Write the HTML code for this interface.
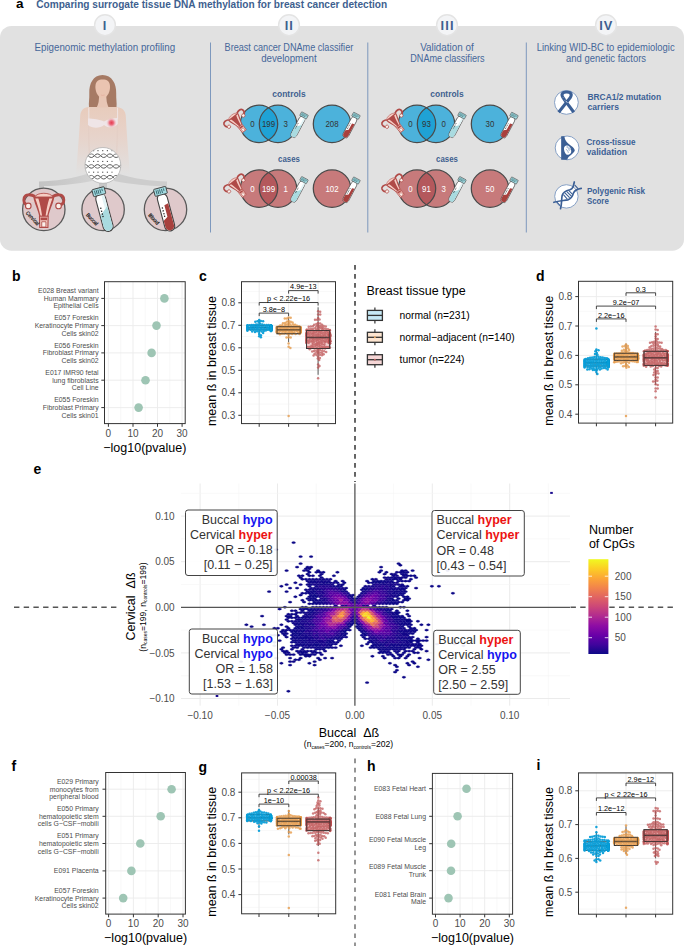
<!DOCTYPE html>
<html><head><meta charset="utf-8"><style>
html,body{margin:0;padding:0;background:#fff;width:685px;height:946px;overflow:hidden}
svg{display:block;font-family:"Liberation Sans",sans-serif}
</style></head><body>
<svg width="685" height="946" viewBox="0 0 685 946">
<text x="16.0" y="8.0" font-size="13.5" fill="#000" font-weight="bold">a</text>
<text x="36.2" y="8.3" font-size="11" fill="#3e5f8f" font-weight="bold" textLength="351" lengthAdjust="spacingAndGlyphs">Comparing surrogate tissue DNA methylation for breast cancer detection</text>
<rect x="0" y="26" width="684" height="224.7" rx="11.5" fill="#e1e1e1"/>
<circle cx="105" cy="25.2" r="10.4" fill="#f3f4f6" stroke="#e4e4e4" stroke-width="1.4"/>
<text x="105.0" y="29.9" font-size="12.8" fill="#3e5f8f" text-anchor="middle" font-weight="bold" letter-spacing="1.1">I</text>
<circle cx="289" cy="25.2" r="10.4" fill="#f3f4f6" stroke="#e4e4e4" stroke-width="1.4"/>
<text x="289.3" y="29.9" font-size="12.8" fill="#3e5f8f" text-anchor="middle" font-weight="bold" letter-spacing="1.1">II</text>
<circle cx="447" cy="25.2" r="10.4" fill="#f3f4f6" stroke="#e4e4e4" stroke-width="1.4"/>
<text x="447.6" y="29.9" font-size="12.8" fill="#3e5f8f" text-anchor="middle" font-weight="bold" letter-spacing="1.1">III</text>
<circle cx="606" cy="25.2" r="10.4" fill="#f3f4f6" stroke="#e4e4e4" stroke-width="1.4"/>
<text x="606.3" y="29.9" font-size="12.8" fill="#3e5f8f" text-anchor="middle" font-weight="bold" letter-spacing="1.1">IV</text>
<line x1="210.5" y1="42.5" x2="210.5" y2="232.5" stroke="#7d98bd" stroke-width="1"/>
<line x1="367.8" y1="42.5" x2="367.8" y2="232.5" stroke="#7d98bd" stroke-width="1"/>
<line x1="526.3" y1="42.5" x2="526.3" y2="232.5" stroke="#7d98bd" stroke-width="1"/>
<text x="104.8" y="51.0" font-size="10.3" fill="#46679a" text-anchor="middle" textLength="140.7" lengthAdjust="spacingAndGlyphs">Epigenomic methylation profiling</text>
<text x="288.9" y="50.7" font-size="10.3" fill="#46679a" text-anchor="middle" textLength="128.7" lengthAdjust="spacingAndGlyphs">Breast cancer DNAme classifier</text>
<text x="288.9" y="62.1" font-size="10.3" fill="#46679a" text-anchor="middle" textLength="55.5" lengthAdjust="spacingAndGlyphs">development</text>
<text x="446.9" y="50.7" font-size="10.3" fill="#46679a" text-anchor="middle" textLength="53.5" lengthAdjust="spacingAndGlyphs">Validation of</text>
<text x="447.4" y="62.1" font-size="10.3" fill="#46679a" text-anchor="middle" textLength="74.3" lengthAdjust="spacingAndGlyphs">DNAme classifiers</text>
<text x="605.7" y="50.7" font-size="10.3" fill="#46679a" text-anchor="middle" textLength="138" lengthAdjust="spacingAndGlyphs">Linking WID-BC to epidemiologic</text>
<text x="606.1" y="62.1" font-size="10.3" fill="#46679a" text-anchor="middle" textLength="80" lengthAdjust="spacingAndGlyphs">and genetic factors</text>
<text x="289.0" y="96.8" font-size="8.2" fill="#3e5f8f" text-anchor="middle" font-weight="bold" textLength="33.3" lengthAdjust="spacingAndGlyphs">controls</text>
<clipPath id="clipctrl289"><circle cx="259" cy="123.9" r="18.7"/></clipPath><circle cx="259" cy="123.9" r="18.7" fill="#4cb2db"/><circle cx="278" cy="123.9" r="18.7" fill="#4cb2db"/><circle cx="278" cy="123.9" r="18.7" fill="#1fa2d5" clip-path="url(#clipctrl289)"/><circle cx="259" cy="123.9" r="18.7" fill="none" stroke="#4a4a4a" stroke-width="1.25"/><circle cx="278" cy="123.9" r="18.7" fill="none" stroke="#4a4a4a" stroke-width="1.25"/><circle cx="332" cy="123.9" r="18.7" fill="#4cb2db" stroke="#4a4a4a" stroke-width="1.25"/><text x="252.4" y="127.1" font-size="8.8" fill="#333" text-anchor="middle" textLength="4.4" lengthAdjust="spacingAndGlyphs">0</text><text x="268.5" y="127.1" font-size="8.8" fill="#333" text-anchor="middle" textLength="13.200000000000001" lengthAdjust="spacingAndGlyphs">199</text><text x="285.6" y="127.1" font-size="8.8" fill="#333" text-anchor="middle" textLength="4.4" lengthAdjust="spacingAndGlyphs">3</text><text x="332.0" y="127.1" font-size="8.8" fill="#333" text-anchor="middle" textLength="13.200000000000001" lengthAdjust="spacingAndGlyphs">208</text><g transform="translate(237.5,122.5) rotate(-38) scale(0.6) translate(-23.8,-23.1)"><g transform="translate(0,0) scale(0.0701)"><path d="M215,150 C150,112 78,118 60,165 C48,205 60,250 100,272" fill="none" stroke="#b04a47" stroke-width="40"/><path d="M465,150 C530,112 602,118 620,165 C632,205 620,250 580,272" fill="none" stroke="#b04a47" stroke-width="40"/><path d="M110,260 C130,215 165,205 200,225" fill="none" stroke="#f6cdc4" stroke-width="14"/><path d="M570,260 C550,215 515,205 480,225" fill="none" stroke="#f6cdc4" stroke-width="14"/><circle cx="118" cy="285" r="40" fill="#fbf0ea" stroke="#b04a47" stroke-width="16"/><circle cx="550" cy="285" r="40" fill="#fbf0ea" stroke="#b04a47" stroke-width="16"/><path d="M210,160 C235,85 445,85 470,160 Z" fill="#f6cdc4" stroke="#b04a47" stroke-width="12"/><path d="M190,155 L490,155 C478,250 425,330 405,435 L275,435 C255,330 202,250 190,155 Z" fill="#b04a47"/><path d="M218,178 C248,262 272,332 292,425 L315,425 C300,330 285,245 262,180 Z" fill="#f6cdc4"/><path d="M462,178 C432,262 408,332 388,425 L365,425 C380,330 395,245 418,180 Z" fill="#f6cdc4"/><path d="M278,432 L402,432 L398,592 L282,592 Z" fill="#f6cdc4" stroke="#b04a47" stroke-width="16"/><path d="M292,450 L388,450 L386,490 L294,490 Z" fill="#b04a47"/><path d="M310,510 L370,510 L370,585 L310,585 Z" fill="#fbf0ea" stroke="#b04a47" stroke-width="12"/></g></g><g transform="translate(305,113.5) scale(0.6)"><g transform="translate(0,0) rotate(28)"><rect x="-5" y="6" width="10" height="38.5" rx="5" fill="#ffffff" stroke="#444" stroke-width="1.1"/><path d="M-4.4,27 C-2,25 1,23 4.4,19 L4.4,39.5 A4.4,4.4 0 0 1 -4.4,39.5Z" fill="#a9dbe0"/><path d="M1.5,7 L4.4,7 L4.4,19 L1.5,22Z" fill="#e3f4f6"/><path d="M-2.4,19.5 v1.3 M-2.4,22.5 v1.3 M-2.4,25.5 v1.3 M-2.4,28 v1.3" stroke="#222" stroke-width="1.3"/><rect x="-6.3" y="0" width="12.6" height="7.2" rx="0.8" fill="#a3dbe1" stroke="#444" stroke-width="0.9"/><path d="M-4,1.5 v4.2 M-2.2,1.5 v4.2 M-0.4,1.5 v4.2 M1.6,1.5 v4.2 M3.6,1.5 v2.5" stroke="#2d5c63" stroke-width="0.8"/></g></g><g transform="translate(357,113.9) scale(0.6)"><g transform="translate(0,0) rotate(28)"><rect x="-5" y="6" width="10" height="38.5" rx="5" fill="#ffffff" stroke="#444" stroke-width="1.1"/><path d="M0.2,18 L4.4,17 L4.4,39.5 A4.4,4.4 0 0 1 -4.4,39.5 L-4.4,33 C-3,32 -1,31 0.2,30Z" fill="#a8403d"/><path d="M-2.4,19.5 v1.3 M-2.4,22.5 v1.3 M-2.4,25.5 v1.3 M-2.4,28 v1.3" stroke="#222" stroke-width="1.3"/><rect x="-6.3" y="0" width="12.6" height="7.2" rx="0.8" fill="#a3dbe1" stroke="#444" stroke-width="0.9"/><path d="M-4,1.5 v4.2 M-2.2,1.5 v4.2 M-0.4,1.5 v4.2 M1.6,1.5 v4.2 M3.6,1.5 v2.5" stroke="#2d5c63" stroke-width="0.8"/></g></g>
<text x="289.0" y="161.5" font-size="8.2" fill="#3e5f8f" text-anchor="middle" font-weight="bold" textLength="21.8" lengthAdjust="spacingAndGlyphs">cases</text>
<clipPath id="clipcase289"><circle cx="259" cy="188.6" r="18.7"/></clipPath><circle cx="259" cy="188.6" r="18.7" fill="#c77a7b"/><circle cx="278" cy="188.6" r="18.7" fill="#c77a7b"/><circle cx="278" cy="188.6" r="18.7" fill="#b4585c" clip-path="url(#clipcase289)"/><circle cx="259" cy="188.6" r="18.7" fill="none" stroke="#4a4a4a" stroke-width="1.25"/><circle cx="278" cy="188.6" r="18.7" fill="none" stroke="#4a4a4a" stroke-width="1.25"/><circle cx="332" cy="188.6" r="18.7" fill="#c77a7b" stroke="#4a4a4a" stroke-width="1.25"/><text x="252.4" y="191.8" font-size="8.8" fill="#fff" text-anchor="middle" textLength="4.4" lengthAdjust="spacingAndGlyphs">0</text><text x="268.5" y="191.8" font-size="8.8" fill="#fff" text-anchor="middle" textLength="13.200000000000001" lengthAdjust="spacingAndGlyphs">199</text><text x="285.6" y="191.8" font-size="8.8" fill="#fff" text-anchor="middle" textLength="4.4" lengthAdjust="spacingAndGlyphs">1</text><text x="332.0" y="191.8" font-size="8.8" fill="#fff" text-anchor="middle" textLength="13.200000000000001" lengthAdjust="spacingAndGlyphs">102</text><g transform="translate(237.5,187.2) rotate(-38) scale(0.6) translate(-23.8,-23.1)"><g transform="translate(0,0) scale(0.0701)"><path d="M215,150 C150,112 78,118 60,165 C48,205 60,250 100,272" fill="none" stroke="#b04a47" stroke-width="40"/><path d="M465,150 C530,112 602,118 620,165 C632,205 620,250 580,272" fill="none" stroke="#b04a47" stroke-width="40"/><path d="M110,260 C130,215 165,205 200,225" fill="none" stroke="#f6cdc4" stroke-width="14"/><path d="M570,260 C550,215 515,205 480,225" fill="none" stroke="#f6cdc4" stroke-width="14"/><circle cx="118" cy="285" r="40" fill="#fbf0ea" stroke="#b04a47" stroke-width="16"/><circle cx="550" cy="285" r="40" fill="#fbf0ea" stroke="#b04a47" stroke-width="16"/><path d="M210,160 C235,85 445,85 470,160 Z" fill="#f6cdc4" stroke="#b04a47" stroke-width="12"/><path d="M190,155 L490,155 C478,250 425,330 405,435 L275,435 C255,330 202,250 190,155 Z" fill="#b04a47"/><path d="M218,178 C248,262 272,332 292,425 L315,425 C300,330 285,245 262,180 Z" fill="#f6cdc4"/><path d="M462,178 C432,262 408,332 388,425 L365,425 C380,330 395,245 418,180 Z" fill="#f6cdc4"/><path d="M278,432 L402,432 L398,592 L282,592 Z" fill="#f6cdc4" stroke="#b04a47" stroke-width="16"/><path d="M292,450 L388,450 L386,490 L294,490 Z" fill="#b04a47"/><path d="M310,510 L370,510 L370,585 L310,585 Z" fill="#fbf0ea" stroke="#b04a47" stroke-width="12"/></g></g><g transform="translate(305,178.2) scale(0.6)"><g transform="translate(0,0) rotate(28)"><rect x="-5" y="6" width="10" height="38.5" rx="5" fill="#ffffff" stroke="#444" stroke-width="1.1"/><path d="M-4.4,27 C-2,25 1,23 4.4,19 L4.4,39.5 A4.4,4.4 0 0 1 -4.4,39.5Z" fill="#a9dbe0"/><path d="M1.5,7 L4.4,7 L4.4,19 L1.5,22Z" fill="#e3f4f6"/><path d="M-2.4,19.5 v1.3 M-2.4,22.5 v1.3 M-2.4,25.5 v1.3 M-2.4,28 v1.3" stroke="#222" stroke-width="1.3"/><rect x="-6.3" y="0" width="12.6" height="7.2" rx="0.8" fill="#a3dbe1" stroke="#444" stroke-width="0.9"/><path d="M-4,1.5 v4.2 M-2.2,1.5 v4.2 M-0.4,1.5 v4.2 M1.6,1.5 v4.2 M3.6,1.5 v2.5" stroke="#2d5c63" stroke-width="0.8"/></g></g><g transform="translate(357,178.6) scale(0.6)"><g transform="translate(0,0) rotate(28)"><rect x="-5" y="6" width="10" height="38.5" rx="5" fill="#ffffff" stroke="#444" stroke-width="1.1"/><path d="M0.2,18 L4.4,17 L4.4,39.5 A4.4,4.4 0 0 1 -4.4,39.5 L-4.4,33 C-3,32 -1,31 0.2,30Z" fill="#a8403d"/><path d="M-2.4,19.5 v1.3 M-2.4,22.5 v1.3 M-2.4,25.5 v1.3 M-2.4,28 v1.3" stroke="#222" stroke-width="1.3"/><rect x="-6.3" y="0" width="12.6" height="7.2" rx="0.8" fill="#a3dbe1" stroke="#444" stroke-width="0.9"/><path d="M-4,1.5 v4.2 M-2.2,1.5 v4.2 M-0.4,1.5 v4.2 M1.6,1.5 v4.2 M3.6,1.5 v2.5" stroke="#2d5c63" stroke-width="0.8"/></g></g>
<text x="447.0" y="96.8" font-size="8.2" fill="#3e5f8f" text-anchor="middle" font-weight="bold" textLength="33.3" lengthAdjust="spacingAndGlyphs">controls</text>
<clipPath id="clipctrl447"><circle cx="417" cy="123.9" r="18.7"/></clipPath><circle cx="417" cy="123.9" r="18.7" fill="#4cb2db"/><circle cx="436" cy="123.9" r="18.7" fill="#4cb2db"/><circle cx="436" cy="123.9" r="18.7" fill="#1fa2d5" clip-path="url(#clipctrl447)"/><circle cx="417" cy="123.9" r="18.7" fill="none" stroke="#4a4a4a" stroke-width="1.25"/><circle cx="436" cy="123.9" r="18.7" fill="none" stroke="#4a4a4a" stroke-width="1.25"/><circle cx="490" cy="123.9" r="18.7" fill="#4cb2db" stroke="#4a4a4a" stroke-width="1.25"/><text x="410.4" y="127.1" font-size="8.8" fill="#333" text-anchor="middle" textLength="4.4" lengthAdjust="spacingAndGlyphs">0</text><text x="426.5" y="127.1" font-size="8.8" fill="#333" text-anchor="middle" textLength="8.8" lengthAdjust="spacingAndGlyphs">93</text><text x="443.6" y="127.1" font-size="8.8" fill="#333" text-anchor="middle" textLength="4.4" lengthAdjust="spacingAndGlyphs">0</text><text x="490.0" y="127.1" font-size="8.8" fill="#333" text-anchor="middle" textLength="8.8" lengthAdjust="spacingAndGlyphs">30</text><g transform="translate(395.5,122.5) rotate(-38) scale(0.6) translate(-23.8,-23.1)"><g transform="translate(0,0) scale(0.0701)"><path d="M215,150 C150,112 78,118 60,165 C48,205 60,250 100,272" fill="none" stroke="#b04a47" stroke-width="40"/><path d="M465,150 C530,112 602,118 620,165 C632,205 620,250 580,272" fill="none" stroke="#b04a47" stroke-width="40"/><path d="M110,260 C130,215 165,205 200,225" fill="none" stroke="#f6cdc4" stroke-width="14"/><path d="M570,260 C550,215 515,205 480,225" fill="none" stroke="#f6cdc4" stroke-width="14"/><circle cx="118" cy="285" r="40" fill="#fbf0ea" stroke="#b04a47" stroke-width="16"/><circle cx="550" cy="285" r="40" fill="#fbf0ea" stroke="#b04a47" stroke-width="16"/><path d="M210,160 C235,85 445,85 470,160 Z" fill="#f6cdc4" stroke="#b04a47" stroke-width="12"/><path d="M190,155 L490,155 C478,250 425,330 405,435 L275,435 C255,330 202,250 190,155 Z" fill="#b04a47"/><path d="M218,178 C248,262 272,332 292,425 L315,425 C300,330 285,245 262,180 Z" fill="#f6cdc4"/><path d="M462,178 C432,262 408,332 388,425 L365,425 C380,330 395,245 418,180 Z" fill="#f6cdc4"/><path d="M278,432 L402,432 L398,592 L282,592 Z" fill="#f6cdc4" stroke="#b04a47" stroke-width="16"/><path d="M292,450 L388,450 L386,490 L294,490 Z" fill="#b04a47"/><path d="M310,510 L370,510 L370,585 L310,585 Z" fill="#fbf0ea" stroke="#b04a47" stroke-width="12"/></g></g><g transform="translate(463,113.5) scale(0.6)"><g transform="translate(0,0) rotate(28)"><rect x="-5" y="6" width="10" height="38.5" rx="5" fill="#ffffff" stroke="#444" stroke-width="1.1"/><path d="M-4.4,27 C-2,25 1,23 4.4,19 L4.4,39.5 A4.4,4.4 0 0 1 -4.4,39.5Z" fill="#a9dbe0"/><path d="M1.5,7 L4.4,7 L4.4,19 L1.5,22Z" fill="#e3f4f6"/><path d="M-2.4,19.5 v1.3 M-2.4,22.5 v1.3 M-2.4,25.5 v1.3 M-2.4,28 v1.3" stroke="#222" stroke-width="1.3"/><rect x="-6.3" y="0" width="12.6" height="7.2" rx="0.8" fill="#a3dbe1" stroke="#444" stroke-width="0.9"/><path d="M-4,1.5 v4.2 M-2.2,1.5 v4.2 M-0.4,1.5 v4.2 M1.6,1.5 v4.2 M3.6,1.5 v2.5" stroke="#2d5c63" stroke-width="0.8"/></g></g><g transform="translate(515,113.9) scale(0.6)"><g transform="translate(0,0) rotate(28)"><rect x="-5" y="6" width="10" height="38.5" rx="5" fill="#ffffff" stroke="#444" stroke-width="1.1"/><path d="M0.2,18 L4.4,17 L4.4,39.5 A4.4,4.4 0 0 1 -4.4,39.5 L-4.4,33 C-3,32 -1,31 0.2,30Z" fill="#a8403d"/><path d="M-2.4,19.5 v1.3 M-2.4,22.5 v1.3 M-2.4,25.5 v1.3 M-2.4,28 v1.3" stroke="#222" stroke-width="1.3"/><rect x="-6.3" y="0" width="12.6" height="7.2" rx="0.8" fill="#a3dbe1" stroke="#444" stroke-width="0.9"/><path d="M-4,1.5 v4.2 M-2.2,1.5 v4.2 M-0.4,1.5 v4.2 M1.6,1.5 v4.2 M3.6,1.5 v2.5" stroke="#2d5c63" stroke-width="0.8"/></g></g>
<text x="447.0" y="161.5" font-size="8.2" fill="#3e5f8f" text-anchor="middle" font-weight="bold" textLength="21.8" lengthAdjust="spacingAndGlyphs">cases</text>
<clipPath id="clipcase447"><circle cx="417" cy="188.6" r="18.7"/></clipPath><circle cx="417" cy="188.6" r="18.7" fill="#c77a7b"/><circle cx="436" cy="188.6" r="18.7" fill="#c77a7b"/><circle cx="436" cy="188.6" r="18.7" fill="#b4585c" clip-path="url(#clipcase447)"/><circle cx="417" cy="188.6" r="18.7" fill="none" stroke="#4a4a4a" stroke-width="1.25"/><circle cx="436" cy="188.6" r="18.7" fill="none" stroke="#4a4a4a" stroke-width="1.25"/><circle cx="490" cy="188.6" r="18.7" fill="#c77a7b" stroke="#4a4a4a" stroke-width="1.25"/><text x="410.4" y="191.8" font-size="8.8" fill="#fff" text-anchor="middle" textLength="4.4" lengthAdjust="spacingAndGlyphs">0</text><text x="426.5" y="191.8" font-size="8.8" fill="#fff" text-anchor="middle" textLength="8.8" lengthAdjust="spacingAndGlyphs">91</text><text x="443.6" y="191.8" font-size="8.8" fill="#fff" text-anchor="middle" textLength="4.4" lengthAdjust="spacingAndGlyphs">3</text><text x="490.0" y="191.8" font-size="8.8" fill="#fff" text-anchor="middle" textLength="8.8" lengthAdjust="spacingAndGlyphs">50</text><g transform="translate(395.5,187.2) rotate(-38) scale(0.6) translate(-23.8,-23.1)"><g transform="translate(0,0) scale(0.0701)"><path d="M215,150 C150,112 78,118 60,165 C48,205 60,250 100,272" fill="none" stroke="#b04a47" stroke-width="40"/><path d="M465,150 C530,112 602,118 620,165 C632,205 620,250 580,272" fill="none" stroke="#b04a47" stroke-width="40"/><path d="M110,260 C130,215 165,205 200,225" fill="none" stroke="#f6cdc4" stroke-width="14"/><path d="M570,260 C550,215 515,205 480,225" fill="none" stroke="#f6cdc4" stroke-width="14"/><circle cx="118" cy="285" r="40" fill="#fbf0ea" stroke="#b04a47" stroke-width="16"/><circle cx="550" cy="285" r="40" fill="#fbf0ea" stroke="#b04a47" stroke-width="16"/><path d="M210,160 C235,85 445,85 470,160 Z" fill="#f6cdc4" stroke="#b04a47" stroke-width="12"/><path d="M190,155 L490,155 C478,250 425,330 405,435 L275,435 C255,330 202,250 190,155 Z" fill="#b04a47"/><path d="M218,178 C248,262 272,332 292,425 L315,425 C300,330 285,245 262,180 Z" fill="#f6cdc4"/><path d="M462,178 C432,262 408,332 388,425 L365,425 C380,330 395,245 418,180 Z" fill="#f6cdc4"/><path d="M278,432 L402,432 L398,592 L282,592 Z" fill="#f6cdc4" stroke="#b04a47" stroke-width="16"/><path d="M292,450 L388,450 L386,490 L294,490 Z" fill="#b04a47"/><path d="M310,510 L370,510 L370,585 L310,585 Z" fill="#fbf0ea" stroke="#b04a47" stroke-width="12"/></g></g><g transform="translate(463,178.2) scale(0.6)"><g transform="translate(0,0) rotate(28)"><rect x="-5" y="6" width="10" height="38.5" rx="5" fill="#ffffff" stroke="#444" stroke-width="1.1"/><path d="M-4.4,27 C-2,25 1,23 4.4,19 L4.4,39.5 A4.4,4.4 0 0 1 -4.4,39.5Z" fill="#a9dbe0"/><path d="M1.5,7 L4.4,7 L4.4,19 L1.5,22Z" fill="#e3f4f6"/><path d="M-2.4,19.5 v1.3 M-2.4,22.5 v1.3 M-2.4,25.5 v1.3 M-2.4,28 v1.3" stroke="#222" stroke-width="1.3"/><rect x="-6.3" y="0" width="12.6" height="7.2" rx="0.8" fill="#a3dbe1" stroke="#444" stroke-width="0.9"/><path d="M-4,1.5 v4.2 M-2.2,1.5 v4.2 M-0.4,1.5 v4.2 M1.6,1.5 v4.2 M3.6,1.5 v2.5" stroke="#2d5c63" stroke-width="0.8"/></g></g><g transform="translate(515,178.6) scale(0.6)"><g transform="translate(0,0) rotate(28)"><rect x="-5" y="6" width="10" height="38.5" rx="5" fill="#ffffff" stroke="#444" stroke-width="1.1"/><path d="M0.2,18 L4.4,17 L4.4,39.5 A4.4,4.4 0 0 1 -4.4,39.5 L-4.4,33 C-3,32 -1,31 0.2,30Z" fill="#a8403d"/><path d="M-2.4,19.5 v1.3 M-2.4,22.5 v1.3 M-2.4,25.5 v1.3 M-2.4,28 v1.3" stroke="#222" stroke-width="1.3"/><rect x="-6.3" y="0" width="12.6" height="7.2" rx="0.8" fill="#a3dbe1" stroke="#444" stroke-width="0.9"/><path d="M-4,1.5 v4.2 M-2.2,1.5 v4.2 M-0.4,1.5 v4.2 M1.6,1.5 v4.2 M3.6,1.5 v2.5" stroke="#2d5c63" stroke-width="0.8"/></g></g>
<defs><linearGradient id="bodyg" x1="0" y1="0" x2="0" y2="1"><stop offset="0" stop-color="#e8cbbb"/><stop offset="0.45" stop-color="#e7d3ca"/><stop offset="1" stop-color="#e1e1e1"/></linearGradient><linearGradient id="brg" x1="0" y1="0" x2="1" y2="0"><stop offset="0" stop-color="#c3c3c3"/><stop offset="1" stop-color="#d2d2d2"/></linearGradient><radialGradient id="spot"><stop offset="0" stop-color="#e53a50"/><stop offset="0.4" stop-color="#ec7080"/><stop offset="1" stop-color="#efd6d8" stop-opacity="0"/></radialGradient></defs>
<path d="M86,107.5 C90,106.5 96,105.5 99,104.5 L106,104.5 C109,105.5 115,106.5 119,107.5 C123,108.5 125.5,111 125.8,116 C126.5,130 128,150 130,175 L76,175 C78,150 79.5,130 80.2,116 C80.5,111 83,108.5 86,107.5Z" fill="url(#bodyg)"/>
<path d="M88.6,112 C88.5,130 89,150 90,172 M117.4,112 C117.5,130 117,150 116,172" stroke="#e2cdc4" stroke-width="0.8" fill="none"/>
<path d="M88.8,107.5 L88.8,119 M117.6,107.5 L117.6,119" stroke="#f0e6e7" stroke-width="0.9"/>
<path d="M88,118.5 C93,118.5 100,119.5 104,121.5 C108,119.5 113,118 117.8,118 L117.8,124 C114,128 108,128.5 104,125 C100,128.5 92,128.5 88,125Z" fill="#efe5e7"/>
<circle cx="111.5" cy="122.8" r="5.5" fill="url(#spot)"/>
<path d="M102.5,75 C93,75 89,84 89.3,93 C89.5,99 88.5,103 89,107 L96.5,107 L108.5,107 L116.5,107 C117,103 116,99 116.2,93 C116.5,84 112,75 102.5,75Z" fill="#a67a64"/>
<path d="M99.3,95 L106.1,95 L106.8,102 C107.5,105 108.5,107 108.5,107.5 L96.8,107.5 C96.8,107 98,105 98.6,102Z" fill="#e8c6b5"/>
<path d="M95.4,87 C95.4,81 98.5,79.5 102.7,79.5 C106.9,79.5 110,81 110,87 C110,93 106.5,98.2 102.7,98.2 C98.9,98.2 95.4,93 95.4,87Z" fill="#eac4b1"/>
<path d="M100.8,95 q1.9,0.8 3.8,0" stroke="#e0a898" stroke-width="0.6" fill="none"/>
<path d="M90,173 C72,179 55,181 39,181.5 L39,189 L44,189 L44,186 C58,186 74,184.5 92,181Z" fill="url(#brg)"/>
<path d="M116,173 C134,179 151,181 167,181.5 L167,189 L162,189 L162,186 C148,186 132,184.5 114,181Z" fill="#cdcdcd"/>
<path d="M99,180 L107,180 L107,190 L99,190Z" fill="#c8c8c8"/>
<clipPath id="dnaclip"><circle cx="102.9" cy="165.4" r="17.5"/></clipPath>
<circle cx="102.9" cy="165.4" r="17.9" fill="#ffffff" stroke="#a9a9a9" stroke-width="0.7"/>
<g clip-path="url(#dnaclip)"><path d="M82,155.7 q3.1,-3.6 6.2,0 t6.2,0 t6.2,0 t6.2,0 t6.2,0 t6.2,0 t6.2,0" fill="none" stroke="#444" stroke-width="0.9"/><path d="M82,155.7 q3.1,3.6 6.2,0 t6.2,0 t6.2,0 t6.2,0 t6.2,0 t6.2,0 t6.2,0" fill="none" stroke="#666" stroke-width="0.9"/><path d="M88.5,150.7 h1 m3.5,0 h1.2 m3.2,0 h1.2 m3.5,0 h1.2 m3.5,0 h1.2 m3.5,0 h1" stroke="#444" stroke-width="1"/><path d="M82,166.4 q3.1,-3.6 6.2,0 t6.2,0 t6.2,0 t6.2,0 t6.2,0 t6.2,0 t6.2,0" fill="none" stroke="#444" stroke-width="0.9"/><path d="M82,166.4 q3.1,3.6 6.2,0 t6.2,0 t6.2,0 t6.2,0 t6.2,0 t6.2,0 t6.2,0" fill="none" stroke="#666" stroke-width="0.9"/><path d="M88.5,161.4 h1 m3.5,0 h1.2 m3.2,0 h1.2 m3.5,0 h1.2 m3.5,0 h1.2 m3.5,0 h1" stroke="#444" stroke-width="1"/><path d="M82,177.2 q3.1,-3.6 6.2,0 t6.2,0 t6.2,0 t6.2,0 t6.2,0 t6.2,0 t6.2,0" fill="none" stroke="#444" stroke-width="0.9"/><path d="M82,177.2 q3.1,3.6 6.2,0 t6.2,0 t6.2,0 t6.2,0 t6.2,0 t6.2,0 t6.2,0" fill="none" stroke="#666" stroke-width="0.9"/><path d="M88.5,172.2 h1 m3.5,0 h1.2 m3.2,0 h1.2 m3.5,0 h1.2 m3.5,0 h1.2 m3.5,0 h1" stroke="#444" stroke-width="1"/></g>
<circle cx="43.8" cy="209.4" r="21.2" fill="#dfc9cb" stroke="#5a5a5a" stroke-width="1.3"/>
<circle cx="103.1" cy="209.4" r="21.2" fill="#dfc9cb" stroke="#5a5a5a" stroke-width="1.3"/>
<circle cx="165.5" cy="209.4" r="21.2" fill="#dfc9cb" stroke="#5a5a5a" stroke-width="1.3"/>
<g transform="translate(20,186) scale(0.0701)"><path d="M215,150 C150,112 78,118 60,165 C48,205 60,250 100,272" fill="none" stroke="#b04a47" stroke-width="40"/><path d="M465,150 C530,112 602,118 620,165 C632,205 620,250 580,272" fill="none" stroke="#b04a47" stroke-width="40"/><path d="M110,260 C130,215 165,205 200,225" fill="none" stroke="#f6cdc4" stroke-width="14"/><path d="M570,260 C550,215 515,205 480,225" fill="none" stroke="#f6cdc4" stroke-width="14"/><circle cx="118" cy="285" r="40" fill="#fbf0ea" stroke="#b04a47" stroke-width="16"/><circle cx="550" cy="285" r="40" fill="#fbf0ea" stroke="#b04a47" stroke-width="16"/><path d="M210,160 C235,85 445,85 470,160 Z" fill="#f6cdc4" stroke="#b04a47" stroke-width="12"/><path d="M190,155 L490,155 C478,250 425,330 405,435 L275,435 C255,330 202,250 190,155 Z" fill="#b04a47"/><path d="M218,178 C248,262 272,332 292,425 L315,425 C300,330 285,245 262,180 Z" fill="#f6cdc4"/><path d="M462,178 C432,262 408,332 388,425 L365,425 C380,330 395,245 418,180 Z" fill="#f6cdc4"/><path d="M278,432 L402,432 L398,592 L282,592 Z" fill="#f6cdc4" stroke="#b04a47" stroke-width="16"/><path d="M292,450 L388,450 L386,490 L294,490 Z" fill="#b04a47"/><path d="M310,510 L370,510 L370,585 L310,585 Z" fill="#fbf0ea" stroke="#b04a47" stroke-width="12"/></g>
<g transform="translate(97.9,188.2) rotate(-15)"><rect x="-5" y="6" width="10" height="38.5" rx="5" fill="#ffffff" stroke="#444" stroke-width="1.1"/><path d="M-4.4,27 C-2,25 1,23 4.4,19 L4.4,39.5 A4.4,4.4 0 0 1 -4.4,39.5Z" fill="#a9dbe0"/><path d="M1.5,7 L4.4,7 L4.4,19 L1.5,22Z" fill="#e3f4f6"/><path d="M-2.4,19.5 v1.3 M-2.4,22.5 v1.3 M-2.4,25.5 v1.3 M-2.4,28 v1.3" stroke="#222" stroke-width="1.3"/><rect x="-6.3" y="0" width="12.6" height="7.2" rx="0.8" fill="#a3dbe1" stroke="#444" stroke-width="0.9"/><path d="M-4,1.5 v4.2 M-2.2,1.5 v4.2 M-0.4,1.5 v4.2 M1.6,1.5 v4.2 M3.6,1.5 v2.5" stroke="#2d5c63" stroke-width="0.8"/></g>
<g transform="translate(159.5,187.9) rotate(-15)"><rect x="-5" y="6" width="10" height="38.5" rx="5" fill="#ffffff" stroke="#444" stroke-width="1.1"/><path d="M0.2,18 L4.4,17 L4.4,39.5 A4.4,4.4 0 0 1 -4.4,39.5 L-4.4,33 C-3,32 -1,31 0.2,30Z" fill="#a8403d"/><path d="M-2.4,19.5 v1.3 M-2.4,22.5 v1.3 M-2.4,25.5 v1.3 M-2.4,28 v1.3" stroke="#222" stroke-width="1.3"/><rect x="-6.3" y="0" width="12.6" height="7.2" rx="0.8" fill="#a3dbe1" stroke="#444" stroke-width="0.9"/><path d="M-4,1.5 v4.2 M-2.2,1.5 v4.2 M-0.4,1.5 v4.2 M1.6,1.5 v4.2 M3.6,1.5 v2.5" stroke="#2d5c63" stroke-width="0.8"/></g>
<text x="0.0" y="0.0" font-size="5.4" fill="#222" text-anchor="middle" textLength="17" lengthAdjust="spacingAndGlyphs" stroke="#222" stroke-width="0.25" transform="translate(31.2,219.5) rotate(47)">Cervical</text>
<text x="0.0" y="0.0" font-size="5.4" fill="#222" text-anchor="middle" textLength="14.5" lengthAdjust="spacingAndGlyphs" stroke="#222" stroke-width="0.25" transform="translate(90.8,220.5) rotate(47)">Buccal</text>
<text x="0.0" y="0.0" font-size="5.4" fill="#222" text-anchor="middle" textLength="13" lengthAdjust="spacingAndGlyphs" stroke="#222" stroke-width="0.25" transform="translate(152.4,220.2) rotate(47)">Blood</text>
<circle cx="566.4" cy="102.4" r="11.9" fill="#fff" stroke="#86a0c5" stroke-width="1"/>
<g transform="translate(550,86) scale(0.0496)" fill="none" stroke="#3b5f95" stroke-width="62"><path d="M262,235 C220,170 245,122 335,122 C425,122 450,170 408,235 L175,530"/><path d="M300,290 L480,530" /><path d="M262,235 L300,290" stroke-width="62"/></g>
<g transform="translate(550,86) scale(0.0496)"><path d="M318,300 L352,340" stroke="#fff" stroke-width="14"/></g>
<circle cx="567.1" cy="147.9" r="11.9" fill="#fff" stroke="#86a0c5" stroke-width="1"/>
<g transform="translate(550,131) scale(0.0496)"><path d="M225,105 L290,105 C300,200 360,250 430,300 C470,330 500,360 500,395 C495,430 440,470 380,520 C360,540 355,560 350,580 L225,580 Z" fill="#3b5f95"/><ellipse cx="355" cy="385" rx="68" ry="95" transform="rotate(-18 355 385)" fill="#fff"/><path d="M330,320 C360,330 380,360 390,400 M320,370 C350,380 365,410 370,440 M345,300 C375,320 400,350 410,380" stroke="#8aa4c8" stroke-width="18" fill="none"/></g>
<circle cx="566.4" cy="196.4" r="11.7" fill="#fff" stroke="#86a0c5" stroke-width="1"/>
<g transform="translate(550,178) scale(0.0496)" fill="none" stroke="#3b5f95" stroke-width="34" stroke-linecap="round"><path d="M490,80 C470,180 460,215 400,238 C330,255 260,290 245,350 C230,430 240,520 212,620"/><path d="M630,210 C560,220 500,250 475,300 C455,370 430,420 360,440 C290,455 170,460 78,490"/><path d="M300,300 L390,390 M340,275 L425,360 M380,255 L450,325 M275,340 L345,420" stroke-width="22"/><path d="M505,150 L560,210 M145,490 L200,550" stroke-width="22"/></g>
<text x="587.5" y="100.0" font-size="8.2" fill="#3b5f95" font-weight="bold" textLength="73.6" lengthAdjust="spacingAndGlyphs">BRCA1/2 mutation</text>
<text x="587.5" y="109.7" font-size="8.2" fill="#3b5f95" font-weight="bold" textLength="31.5" lengthAdjust="spacingAndGlyphs">carriers</text>
<text x="586.5" y="145.0" font-size="8.2" fill="#3b5f95" font-weight="bold" textLength="49" lengthAdjust="spacingAndGlyphs">Cross-tissue</text>
<text x="586.5" y="154.7" font-size="8.2" fill="#3b5f95" font-weight="bold" textLength="40.7" lengthAdjust="spacingAndGlyphs">validation</text>
<text x="586.9" y="194.0" font-size="8.2" fill="#3b5f95" font-weight="bold" textLength="58.2" lengthAdjust="spacingAndGlyphs">Polygenic Risk</text>
<text x="586.9" y="204.0" font-size="8.2" fill="#3b5f95" font-weight="bold" textLength="21.9" lengthAdjust="spacingAndGlyphs">Score</text>
<text x="12.0" y="280.5" font-size="14" fill="#000" font-weight="bold">b</text>
<text x="199.0" y="280.5" font-size="14" fill="#000" font-weight="bold">c</text>
<text x="536.0" y="280.5" font-size="14" fill="#000" font-weight="bold">d</text>
<text x="33.5" y="474.0" font-size="14" fill="#000" font-weight="bold">e</text>
<text x="11.5" y="771.0" font-size="14" fill="#000" font-weight="bold">f</text>
<text x="198.5" y="771.5" font-size="14" fill="#000" font-weight="bold">g</text>
<text x="367.0" y="771.0" font-size="14" fill="#000" font-weight="bold">h</text>
<text x="536.5" y="770.0" font-size="14" fill="#000" font-weight="bold">i</text>
<line x1="108.4" y1="281.7" x2="108.4" y2="423.6" stroke="#ebebeb" stroke-width="0.9"/>
<line x1="120.7" y1="281.7" x2="120.7" y2="423.6" stroke="#f4f4f4" stroke-width="0.6"/>
<line x1="133.0" y1="281.7" x2="133.0" y2="423.6" stroke="#ebebeb" stroke-width="0.9"/>
<line x1="145.2" y1="281.7" x2="145.2" y2="423.6" stroke="#f4f4f4" stroke-width="0.6"/>
<line x1="157.5" y1="281.7" x2="157.5" y2="423.6" stroke="#ebebeb" stroke-width="0.9"/>
<line x1="169.8" y1="281.7" x2="169.8" y2="423.6" stroke="#f4f4f4" stroke-width="0.6"/>
<line x1="182.1" y1="281.7" x2="182.1" y2="423.6" stroke="#ebebeb" stroke-width="0.9"/>
<line x1="104.5" y1="298.4" x2="185.2" y2="298.4" stroke="#ebebeb" stroke-width="0.9"/>
<line x1="104.5" y1="325.6" x2="185.2" y2="325.6" stroke="#ebebeb" stroke-width="0.9"/>
<line x1="104.5" y1="352.9" x2="185.2" y2="352.9" stroke="#ebebeb" stroke-width="0.9"/>
<line x1="104.5" y1="380.2" x2="185.2" y2="380.2" stroke="#ebebeb" stroke-width="0.9"/>
<line x1="104.5" y1="407.6" x2="185.2" y2="407.6" stroke="#ebebeb" stroke-width="0.9"/>
<circle cx="164.4" cy="298.4" r="4.3" fill="#9ec5b4"/>
<circle cx="156.5" cy="325.6" r="4.3" fill="#9ec5b4"/>
<circle cx="151.6" cy="352.9" r="4.3" fill="#9ec5b4"/>
<circle cx="145.5" cy="380.2" r="4.3" fill="#9ec5b4"/>
<circle cx="138.6" cy="407.6" r="4.3" fill="#9ec5b4"/>
<rect x="104.5" y="281.7" width="80.69999999999999" height="141.90000000000003" fill="none" stroke="#333333" stroke-width="1"/>
<line x1="101.3" y1="298.4" x2="104.5" y2="298.4" stroke="#333333" stroke-width="1"/>
<line x1="101.3" y1="325.6" x2="104.5" y2="325.6" stroke="#333333" stroke-width="1"/>
<line x1="101.3" y1="352.9" x2="104.5" y2="352.9" stroke="#333333" stroke-width="1"/>
<line x1="101.3" y1="380.2" x2="104.5" y2="380.2" stroke="#333333" stroke-width="1"/>
<line x1="101.3" y1="407.6" x2="104.5" y2="407.6" stroke="#333333" stroke-width="1"/>
<line x1="108.4" y1="423.6" x2="108.4" y2="426.8" stroke="#333333" stroke-width="1"/>
<text x="108.4" y="436.8" font-size="10" fill="#4d4d4d" text-anchor="middle">0</text>
<line x1="133.0" y1="423.6" x2="133.0" y2="426.8" stroke="#333333" stroke-width="1"/>
<text x="133.0" y="436.8" font-size="10" fill="#4d4d4d" text-anchor="middle">10</text>
<line x1="157.5" y1="423.6" x2="157.5" y2="426.8" stroke="#333333" stroke-width="1"/>
<text x="157.5" y="436.8" font-size="10" fill="#4d4d4d" text-anchor="middle">20</text>
<line x1="182.1" y1="423.6" x2="182.1" y2="426.8" stroke="#333333" stroke-width="1"/>
<text x="182.1" y="436.8" font-size="10" fill="#4d4d4d" text-anchor="middle">30</text>
<text x="144.8" y="451.6" font-size="12.5" fill="#000" text-anchor="middle">−log10(pvalue)</text>
<text x="98.6" y="293.2" font-size="6.9" fill="#4d4d4d" text-anchor="end">E028 Breast variant</text>
<text x="98.6" y="300.8" font-size="6.9" fill="#4d4d4d" text-anchor="end">Human Mammary</text>
<text x="98.6" y="308.4" font-size="6.9" fill="#4d4d4d" text-anchor="end">Epithelial Cells</text>
<text x="98.6" y="320.4" font-size="6.9" fill="#4d4d4d" text-anchor="end">E057 Foreskin</text>
<text x="98.6" y="328.0" font-size="6.9" fill="#4d4d4d" text-anchor="end">Keratinocyte Primary</text>
<text x="98.6" y="335.6" font-size="6.9" fill="#4d4d4d" text-anchor="end">Cells skin02</text>
<text x="98.6" y="347.7" font-size="6.9" fill="#4d4d4d" text-anchor="end">E056 Foreskin</text>
<text x="98.6" y="355.3" font-size="6.9" fill="#4d4d4d" text-anchor="end">Fibroblast Primary</text>
<text x="98.6" y="362.9" font-size="6.9" fill="#4d4d4d" text-anchor="end">Cells skin02</text>
<text x="98.6" y="375.0" font-size="6.9" fill="#4d4d4d" text-anchor="end">E017 IMR90 fetal</text>
<text x="98.6" y="382.6" font-size="6.9" fill="#4d4d4d" text-anchor="end">lung fibroblasts</text>
<text x="98.6" y="390.2" font-size="6.9" fill="#4d4d4d" text-anchor="end">Cell Line</text>
<text x="98.6" y="402.4" font-size="6.9" fill="#4d4d4d" text-anchor="end">E055 Foreskin</text>
<text x="98.6" y="410.0" font-size="6.9" fill="#4d4d4d" text-anchor="end">Fibroblast Primary</text>
<text x="98.6" y="417.6" font-size="6.9" fill="#4d4d4d" text-anchor="end">Cells skin01</text>
<line x1="108.6" y1="772.5" x2="108.6" y2="914.1" stroke="#ebebeb" stroke-width="0.9"/>
<line x1="121.0" y1="772.5" x2="121.0" y2="914.1" stroke="#f4f4f4" stroke-width="0.6"/>
<line x1="133.4" y1="772.5" x2="133.4" y2="914.1" stroke="#ebebeb" stroke-width="0.9"/>
<line x1="145.8" y1="772.5" x2="145.8" y2="914.1" stroke="#f4f4f4" stroke-width="0.6"/>
<line x1="158.2" y1="772.5" x2="158.2" y2="914.1" stroke="#ebebeb" stroke-width="0.9"/>
<line x1="170.6" y1="772.5" x2="170.6" y2="914.1" stroke="#f4f4f4" stroke-width="0.6"/>
<line x1="183.0" y1="772.5" x2="183.0" y2="914.1" stroke="#ebebeb" stroke-width="0.9"/>
<line x1="105.7" y1="789.2" x2="185.4" y2="789.2" stroke="#ebebeb" stroke-width="0.9"/>
<line x1="105.7" y1="816.3" x2="185.4" y2="816.3" stroke="#ebebeb" stroke-width="0.9"/>
<line x1="105.7" y1="843.5" x2="185.4" y2="843.5" stroke="#ebebeb" stroke-width="0.9"/>
<line x1="105.7" y1="870.9" x2="185.4" y2="870.9" stroke="#ebebeb" stroke-width="0.9"/>
<line x1="105.7" y1="898.1" x2="185.4" y2="898.1" stroke="#ebebeb" stroke-width="0.9"/>
<circle cx="171.6" cy="789.2" r="4.3" fill="#9ec5b4"/>
<circle cx="160.7" cy="816.3" r="4.3" fill="#9ec5b4"/>
<circle cx="140.3" cy="843.5" r="4.3" fill="#9ec5b4"/>
<circle cx="131.4" cy="870.9" r="4.3" fill="#9ec5b4"/>
<circle cx="123.2" cy="898.1" r="4.3" fill="#9ec5b4"/>
<rect x="105.7" y="772.5" width="79.7" height="141.60000000000002" fill="none" stroke="#333333" stroke-width="1"/>
<line x1="102.5" y1="789.2" x2="105.7" y2="789.2" stroke="#333333" stroke-width="1"/>
<line x1="102.5" y1="816.3" x2="105.7" y2="816.3" stroke="#333333" stroke-width="1"/>
<line x1="102.5" y1="843.5" x2="105.7" y2="843.5" stroke="#333333" stroke-width="1"/>
<line x1="102.5" y1="870.9" x2="105.7" y2="870.9" stroke="#333333" stroke-width="1"/>
<line x1="102.5" y1="898.1" x2="105.7" y2="898.1" stroke="#333333" stroke-width="1"/>
<line x1="108.6" y1="914.1" x2="108.6" y2="917.3000000000001" stroke="#333333" stroke-width="1"/>
<text x="108.6" y="927.3" font-size="10" fill="#4d4d4d" text-anchor="middle">0</text>
<line x1="133.4" y1="914.1" x2="133.4" y2="917.3000000000001" stroke="#333333" stroke-width="1"/>
<text x="133.4" y="927.3" font-size="10" fill="#4d4d4d" text-anchor="middle">10</text>
<line x1="158.2" y1="914.1" x2="158.2" y2="917.3000000000001" stroke="#333333" stroke-width="1"/>
<text x="158.2" y="927.3" font-size="10" fill="#4d4d4d" text-anchor="middle">20</text>
<line x1="183.0" y1="914.1" x2="183.0" y2="917.3000000000001" stroke="#333333" stroke-width="1"/>
<text x="183.0" y="927.3" font-size="10" fill="#4d4d4d" text-anchor="middle">30</text>
<text x="145.6" y="942.1" font-size="12.5" fill="#000" text-anchor="middle">−log10(pvalue)</text>
<text x="98.7" y="784.0" font-size="6.9" fill="#4d4d4d" text-anchor="end">E029 Primary</text>
<text x="98.7" y="791.6" font-size="6.9" fill="#4d4d4d" text-anchor="end">monocytes from</text>
<text x="98.7" y="799.2" font-size="6.9" fill="#4d4d4d" text-anchor="end">peripheral blood</text>
<text x="98.7" y="811.1" font-size="6.9" fill="#4d4d4d" text-anchor="end">E050 Primary</text>
<text x="98.7" y="818.7" font-size="6.9" fill="#4d4d4d" text-anchor="end">hematopoietic stem</text>
<text x="98.7" y="826.3" font-size="6.9" fill="#4d4d4d" text-anchor="end">cells G−CSF−mobili</text>
<text x="98.7" y="838.3" font-size="6.9" fill="#4d4d4d" text-anchor="end">E051 Primary</text>
<text x="98.7" y="845.9" font-size="6.9" fill="#4d4d4d" text-anchor="end">hematopoietic stem</text>
<text x="98.7" y="853.5" font-size="6.9" fill="#4d4d4d" text-anchor="end">cells G−CSF−mobili</text>
<text x="98.7" y="873.3" font-size="6.9" fill="#4d4d4d" text-anchor="end">E091 Placenta</text>
<text x="98.7" y="892.9" font-size="6.9" fill="#4d4d4d" text-anchor="end">E057 Foreskin</text>
<text x="98.7" y="900.5" font-size="6.9" fill="#4d4d4d" text-anchor="end">Keratinocyte Primary</text>
<text x="98.7" y="908.1" font-size="6.9" fill="#4d4d4d" text-anchor="end">Cells skin02</text>
<line x1="435.5" y1="773.4" x2="435.5" y2="914.2" stroke="#ebebeb" stroke-width="0.9"/>
<line x1="447.8" y1="773.4" x2="447.8" y2="914.2" stroke="#f4f4f4" stroke-width="0.6"/>
<line x1="460.1" y1="773.4" x2="460.1" y2="914.2" stroke="#ebebeb" stroke-width="0.9"/>
<line x1="472.4" y1="773.4" x2="472.4" y2="914.2" stroke="#f4f4f4" stroke-width="0.6"/>
<line x1="484.7" y1="773.4" x2="484.7" y2="914.2" stroke="#ebebeb" stroke-width="0.9"/>
<line x1="497.0" y1="773.4" x2="497.0" y2="914.2" stroke="#f4f4f4" stroke-width="0.6"/>
<line x1="509.3" y1="773.4" x2="509.3" y2="914.2" stroke="#ebebeb" stroke-width="0.9"/>
<line x1="432.4" y1="788.7" x2="512.6" y2="788.7" stroke="#ebebeb" stroke-width="0.9"/>
<line x1="432.4" y1="816.3" x2="512.6" y2="816.3" stroke="#ebebeb" stroke-width="0.9"/>
<line x1="432.4" y1="843.7" x2="512.6" y2="843.7" stroke="#ebebeb" stroke-width="0.9"/>
<line x1="432.4" y1="870.7" x2="512.6" y2="870.7" stroke="#ebebeb" stroke-width="0.9"/>
<line x1="432.4" y1="898.1" x2="512.6" y2="898.1" stroke="#ebebeb" stroke-width="0.9"/>
<circle cx="466.5" cy="788.7" r="4.3" fill="#9ec5b4"/>
<circle cx="457.6" cy="816.3" r="4.3" fill="#9ec5b4"/>
<circle cx="451.2" cy="843.7" r="4.3" fill="#9ec5b4"/>
<circle cx="451.0" cy="870.7" r="4.3" fill="#9ec5b4"/>
<circle cx="448.5" cy="898.1" r="4.3" fill="#9ec5b4"/>
<rect x="432.4" y="773.4" width="80.20000000000005" height="140.80000000000007" fill="none" stroke="#333333" stroke-width="1"/>
<line x1="429.2" y1="788.7" x2="432.4" y2="788.7" stroke="#333333" stroke-width="1"/>
<line x1="429.2" y1="816.3" x2="432.4" y2="816.3" stroke="#333333" stroke-width="1"/>
<line x1="429.2" y1="843.7" x2="432.4" y2="843.7" stroke="#333333" stroke-width="1"/>
<line x1="429.2" y1="870.7" x2="432.4" y2="870.7" stroke="#333333" stroke-width="1"/>
<line x1="429.2" y1="898.1" x2="432.4" y2="898.1" stroke="#333333" stroke-width="1"/>
<line x1="435.5" y1="914.2" x2="435.5" y2="917.4000000000001" stroke="#333333" stroke-width="1"/>
<text x="435.5" y="927.4" font-size="10" fill="#4d4d4d" text-anchor="middle">0</text>
<line x1="460.1" y1="914.2" x2="460.1" y2="917.4000000000001" stroke="#333333" stroke-width="1"/>
<text x="460.1" y="927.4" font-size="10" fill="#4d4d4d" text-anchor="middle">10</text>
<line x1="484.7" y1="914.2" x2="484.7" y2="917.4000000000001" stroke="#333333" stroke-width="1"/>
<text x="484.7" y="927.4" font-size="10" fill="#4d4d4d" text-anchor="middle">20</text>
<line x1="509.3" y1="914.2" x2="509.3" y2="917.4000000000001" stroke="#333333" stroke-width="1"/>
<text x="509.3" y="927.4" font-size="10" fill="#4d4d4d" text-anchor="middle">30</text>
<text x="472.5" y="942.2" font-size="12.5" fill="#000" text-anchor="middle">−log10(pvalue)</text>
<text x="426.0" y="791.1" font-size="6.9" fill="#4d4d4d" text-anchor="end">E083 Fetal Heart</text>
<text x="426.0" y="818.7" font-size="6.9" fill="#4d4d4d" text-anchor="end">E088 Fetal Lung</text>
<text x="426.0" y="842.3" font-size="6.9" fill="#4d4d4d" text-anchor="end">E090 Fetal Muscle</text>
<text x="426.0" y="849.9" font-size="6.9" fill="#4d4d4d" text-anchor="end">Leg</text>
<text x="426.0" y="869.3" font-size="6.9" fill="#4d4d4d" text-anchor="end">E089 Fetal Muscle</text>
<text x="426.0" y="876.9" font-size="6.9" fill="#4d4d4d" text-anchor="end">Trunk</text>
<text x="426.0" y="896.7" font-size="6.9" fill="#4d4d4d" text-anchor="end">E081 Fetal Brain</text>
<text x="426.0" y="904.3" font-size="6.9" fill="#4d4d4d" text-anchor="end">Male</text>
<line x1="241.5" y1="415.3" x2="335.5" y2="415.3" stroke="#ebebeb" stroke-width="0.9"/>
<line x1="241.5" y1="404.1" x2="335.5" y2="404.1" stroke="#f4f4f4" stroke-width="0.6"/>
<line x1="241.5" y1="392.8" x2="335.5" y2="392.8" stroke="#ebebeb" stroke-width="0.9"/>
<line x1="241.5" y1="381.6" x2="335.5" y2="381.6" stroke="#f4f4f4" stroke-width="0.6"/>
<line x1="241.5" y1="370.3" x2="335.5" y2="370.3" stroke="#ebebeb" stroke-width="0.9"/>
<line x1="241.5" y1="359.1" x2="335.5" y2="359.1" stroke="#f4f4f4" stroke-width="0.6"/>
<line x1="241.5" y1="347.8" x2="335.5" y2="347.8" stroke="#ebebeb" stroke-width="0.9"/>
<line x1="241.5" y1="336.6" x2="335.5" y2="336.6" stroke="#f4f4f4" stroke-width="0.6"/>
<line x1="241.5" y1="325.3" x2="335.5" y2="325.3" stroke="#ebebeb" stroke-width="0.9"/>
<line x1="241.5" y1="314.1" x2="335.5" y2="314.1" stroke="#f4f4f4" stroke-width="0.6"/>
<line x1="241.5" y1="302.8" x2="335.5" y2="302.8" stroke="#ebebeb" stroke-width="0.9"/>
<line x1="241.5" y1="291.6" x2="335.5" y2="291.6" stroke="#f4f4f4" stroke-width="0.6"/>
<line x1="259.2" y1="281.7" x2="259.2" y2="423.6" stroke="#ebebeb" stroke-width="0.9"/>
<line x1="288.6" y1="281.7" x2="288.6" y2="423.6" stroke="#ebebeb" stroke-width="0.9"/>
<line x1="318.1" y1="281.7" x2="318.1" y2="423.6" stroke="#ebebeb" stroke-width="0.9"/>
<line x1="259.2" y1="319.7" x2="259.2" y2="335.4" stroke="#333333" stroke-width="0.8"/>
<rect x="247.6" y="325.3" width="23.2" height="4.5" fill="#c9e8f5" stroke="#333333" stroke-width="1"/>
<line x1="247.6" y1="327.6" x2="270.8" y2="327.6" stroke="#333333" stroke-width="1.4"/>
<g fill="#0a9ed8" fill-opacity="0.95"><circle cx="259.2" cy="320.1" r="1.25"/><circle cx="260.9" cy="321.1" r="1.25"/><circle cx="257.4" cy="321.3" r="1.25"/><circle cx="263.1" cy="321.3" r="1.25"/><circle cx="255.3" cy="321.7" r="1.25"/><circle cx="259.2" cy="322.1" r="1.25"/><circle cx="260.2" cy="323.8" r="1.25"/><circle cx="258.1" cy="324.4" r="1.25"/><circle cx="262.3" cy="324.5" r="1.25"/><circle cx="256.1" cy="324.6" r="1.25"/><circle cx="264.4" cy="324.9" r="1.25"/><circle cx="253.9" cy="324.9" r="1.25"/><circle cx="266.6" cy="324.9" r="1.25"/><circle cx="251.8" cy="325.0" r="1.25"/><circle cx="268.6" cy="325.0" r="1.25"/><circle cx="249.8" cy="325.2" r="1.25"/><circle cx="270.8" cy="325.2" r="1.25"/><circle cx="247.6" cy="325.3" r="1.25"/><circle cx="271.0" cy="325.3" r="1.25"/><circle cx="247.4" cy="325.5" r="1.25"/><circle cx="271.0" cy="325.6" r="1.25"/><circle cx="271.0" cy="325.6" r="1.25"/><circle cx="271.0" cy="325.6" r="1.25"/><circle cx="271.0" cy="325.7" r="1.25"/><circle cx="271.0" cy="325.7" r="1.25"/><circle cx="259.6" cy="325.8" r="1.25"/><circle cx="271.0" cy="325.9" r="1.25"/><circle cx="271.0" cy="325.9" r="1.25"/><circle cx="271.0" cy="325.9" r="1.25"/><circle cx="271.0" cy="325.9" r="1.25"/><circle cx="271.0" cy="325.9" r="1.25"/><circle cx="271.0" cy="325.9" r="1.25"/><circle cx="271.0" cy="326.0" r="1.25"/><circle cx="271.0" cy="326.1" r="1.25"/><circle cx="271.0" cy="326.1" r="1.25"/><circle cx="247.4" cy="326.1" r="1.25"/><circle cx="271.0" cy="326.1" r="1.25"/><circle cx="271.0" cy="326.2" r="1.25"/><circle cx="271.0" cy="326.2" r="1.25"/><circle cx="271.0" cy="326.2" r="1.25"/><circle cx="257.4" cy="326.2" r="1.25"/><circle cx="271.0" cy="326.2" r="1.25"/><circle cx="271.0" cy="326.3" r="1.25"/><circle cx="271.0" cy="326.3" r="1.25"/><circle cx="271.0" cy="326.3" r="1.25"/><circle cx="271.0" cy="326.4" r="1.25"/><circle cx="261.6" cy="326.4" r="1.25"/><circle cx="271.0" cy="326.4" r="1.25"/><circle cx="271.0" cy="326.4" r="1.25"/><circle cx="255.3" cy="326.4" r="1.25"/><circle cx="271.0" cy="326.5" r="1.25"/><circle cx="271.0" cy="326.5" r="1.25"/><circle cx="271.0" cy="326.5" r="1.25"/><circle cx="271.0" cy="326.5" r="1.25"/><circle cx="271.0" cy="326.5" r="1.25"/><circle cx="265.5" cy="326.6" r="1.25"/><circle cx="271.0" cy="326.6" r="1.25"/><circle cx="271.0" cy="326.6" r="1.25"/><circle cx="252.9" cy="326.6" r="1.25"/><circle cx="267.6" cy="326.7" r="1.25"/><circle cx="247.4" cy="326.7" r="1.25"/><circle cx="271.0" cy="326.7" r="1.25"/><circle cx="250.8" cy="326.9" r="1.25"/><circle cx="271.0" cy="326.9" r="1.25"/><circle cx="271.0" cy="326.9" r="1.25"/><circle cx="271.0" cy="327.0" r="1.25"/><circle cx="271.0" cy="327.0" r="1.25"/><circle cx="271.0" cy="327.0" r="1.25"/><circle cx="271.0" cy="327.0" r="1.25"/><circle cx="271.0" cy="327.1" r="1.25"/><circle cx="271.0" cy="327.1" r="1.25"/><circle cx="271.0" cy="327.1" r="1.25"/><circle cx="271.0" cy="327.1" r="1.25"/><circle cx="271.0" cy="327.1" r="1.25"/><circle cx="271.0" cy="327.1" r="1.25"/><circle cx="271.0" cy="327.1" r="1.25"/><circle cx="271.0" cy="327.1" r="1.25"/><circle cx="271.0" cy="327.1" r="1.25"/><circle cx="271.0" cy="327.2" r="1.25"/><circle cx="271.0" cy="327.2" r="1.25"/><circle cx="271.0" cy="327.2" r="1.25"/><circle cx="271.0" cy="327.2" r="1.25"/><circle cx="271.0" cy="327.2" r="1.25"/><circle cx="263.4" cy="327.3" r="1.25"/><circle cx="271.0" cy="327.3" r="1.25"/><circle cx="271.0" cy="327.3" r="1.25"/><circle cx="271.0" cy="327.3" r="1.25"/><circle cx="271.0" cy="327.3" r="1.25"/><circle cx="271.0" cy="327.3" r="1.25"/><circle cx="271.0" cy="327.3" r="1.25"/><circle cx="271.0" cy="327.3" r="1.25"/><circle cx="247.4" cy="327.3" r="1.25"/><circle cx="271.0" cy="327.4" r="1.25"/><circle cx="271.0" cy="327.4" r="1.25"/><circle cx="271.0" cy="327.4" r="1.25"/><circle cx="271.0" cy="327.5" r="1.25"/><circle cx="271.0" cy="327.5" r="1.25"/><circle cx="271.0" cy="327.5" r="1.25"/><circle cx="271.0" cy="327.5" r="1.25"/><circle cx="271.0" cy="327.5" r="1.25"/><circle cx="271.0" cy="327.5" r="1.25"/><circle cx="271.0" cy="327.5" r="1.25"/><circle cx="271.0" cy="327.5" r="1.25"/><circle cx="271.0" cy="327.5" r="1.25"/><circle cx="271.0" cy="327.5" r="1.25"/><circle cx="271.0" cy="327.5" r="1.25"/><circle cx="271.0" cy="327.5" r="1.25"/><circle cx="271.0" cy="327.6" r="1.25"/><circle cx="271.0" cy="327.6" r="1.25"/><circle cx="271.0" cy="327.6" r="1.25"/><circle cx="271.0" cy="327.6" r="1.25"/><circle cx="271.0" cy="327.6" r="1.25"/><circle cx="271.0" cy="327.6" r="1.25"/><circle cx="258.8" cy="327.6" r="1.25"/><circle cx="271.0" cy="327.6" r="1.25"/><circle cx="271.0" cy="327.7" r="1.25"/><circle cx="271.0" cy="327.7" r="1.25"/><circle cx="271.0" cy="327.7" r="1.25"/><circle cx="271.0" cy="327.8" r="1.25"/><circle cx="271.0" cy="327.8" r="1.25"/><circle cx="271.0" cy="327.8" r="1.25"/><circle cx="271.0" cy="327.8" r="1.25"/><circle cx="271.0" cy="327.8" r="1.25"/><circle cx="271.0" cy="327.8" r="1.25"/><circle cx="271.0" cy="327.9" r="1.25"/><circle cx="271.0" cy="327.9" r="1.25"/><circle cx="271.0" cy="327.9" r="1.25"/><circle cx="271.0" cy="327.9" r="1.25"/><circle cx="271.0" cy="327.9" r="1.25"/><circle cx="247.4" cy="328.0" r="1.25"/><circle cx="271.0" cy="328.0" r="1.25"/><circle cx="271.0" cy="328.0" r="1.25"/><circle cx="269.0" cy="328.0" r="1.25"/><circle cx="271.0" cy="328.0" r="1.25"/><circle cx="271.0" cy="328.0" r="1.25"/><circle cx="256.8" cy="328.1" r="1.25"/><circle cx="271.0" cy="328.1" r="1.25"/><circle cx="271.0" cy="328.1" r="1.25"/><circle cx="254.3" cy="328.1" r="1.25"/><circle cx="271.0" cy="328.1" r="1.25"/><circle cx="271.0" cy="328.1" r="1.25"/><circle cx="271.0" cy="328.1" r="1.25"/><circle cx="271.0" cy="328.2" r="1.25"/><circle cx="260.9" cy="328.2" r="1.25"/><circle cx="271.0" cy="328.2" r="1.25"/><circle cx="249.4" cy="328.2" r="1.25"/><circle cx="271.0" cy="328.3" r="1.25"/><circle cx="271.0" cy="328.3" r="1.25"/><circle cx="266.6" cy="328.3" r="1.25"/><circle cx="271.0" cy="328.4" r="1.25"/><circle cx="271.0" cy="328.4" r="1.25"/><circle cx="271.0" cy="328.4" r="1.25"/><circle cx="271.0" cy="328.4" r="1.25"/><circle cx="252.2" cy="328.5" r="1.25"/><circle cx="271.0" cy="328.5" r="1.25"/><circle cx="271.0" cy="328.5" r="1.25"/><circle cx="271.0" cy="328.5" r="1.25"/><circle cx="271.0" cy="328.5" r="1.25"/><circle cx="271.0" cy="328.5" r="1.25"/><circle cx="271.0" cy="328.5" r="1.25"/><circle cx="271.0" cy="328.6" r="1.25"/><circle cx="271.0" cy="328.6" r="1.25"/><circle cx="271.0" cy="328.6" r="1.25"/><circle cx="247.4" cy="328.6" r="1.25"/><circle cx="271.0" cy="328.6" r="1.25"/><circle cx="271.0" cy="328.7" r="1.25"/><circle cx="271.0" cy="328.7" r="1.25"/><circle cx="271.0" cy="328.7" r="1.25"/><circle cx="271.0" cy="328.8" r="1.25"/><circle cx="271.0" cy="328.8" r="1.25"/><circle cx="271.0" cy="328.8" r="1.25"/><circle cx="271.0" cy="328.8" r="1.25"/><circle cx="271.0" cy="328.8" r="1.25"/><circle cx="271.0" cy="328.8" r="1.25"/><circle cx="271.0" cy="328.9" r="1.25"/><circle cx="271.0" cy="328.9" r="1.25"/><circle cx="264.4" cy="329.0" r="1.25"/><circle cx="271.0" cy="329.0" r="1.25"/><circle cx="271.0" cy="329.1" r="1.25"/><circle cx="271.0" cy="329.1" r="1.25"/><circle cx="271.0" cy="329.1" r="1.25"/><circle cx="271.0" cy="329.1" r="1.25"/><circle cx="271.0" cy="329.1" r="1.25"/><circle cx="271.0" cy="329.1" r="1.25"/><circle cx="271.0" cy="329.2" r="1.25"/><circle cx="271.0" cy="329.2" r="1.25"/><circle cx="271.0" cy="329.2" r="1.25"/><circle cx="271.0" cy="329.2" r="1.25"/><circle cx="271.0" cy="329.2" r="1.25"/><circle cx="247.4" cy="329.3" r="1.25"/><circle cx="271.0" cy="329.3" r="1.25"/><circle cx="271.0" cy="329.3" r="1.25"/><circle cx="271.0" cy="329.4" r="1.25"/><circle cx="271.0" cy="329.4" r="1.25"/><circle cx="258.1" cy="329.5" r="1.25"/><circle cx="271.0" cy="329.5" r="1.25"/><circle cx="262.3" cy="329.6" r="1.25"/><circle cx="267.9" cy="329.7" r="1.25"/><circle cx="255.7" cy="329.8" r="1.25"/><circle cx="250.8" cy="329.8" r="1.25"/><circle cx="271.0" cy="329.9" r="1.25"/><circle cx="253.6" cy="330.0" r="1.25"/><circle cx="247.4" cy="330.0" r="1.25"/><circle cx="260.2" cy="330.0" r="1.25"/><circle cx="271.0" cy="330.0" r="1.25"/><circle cx="271.0" cy="330.1" r="1.25"/><circle cx="271.0" cy="330.2" r="1.25"/><circle cx="271.0" cy="330.2" r="1.25"/><circle cx="265.8" cy="330.5" r="1.25"/><circle cx="271.0" cy="330.5" r="1.25"/><circle cx="271.0" cy="330.5" r="1.25"/><circle cx="271.0" cy="330.6" r="1.25"/><circle cx="247.4" cy="330.7" r="1.25"/><circle cx="271.0" cy="330.7" r="1.25"/><circle cx="271.0" cy="330.7" r="1.25"/><circle cx="271.0" cy="330.8" r="1.25"/><circle cx="271.0" cy="330.8" r="1.25"/><circle cx="271.0" cy="330.8" r="1.25"/><circle cx="271.0" cy="330.9" r="1.25"/><circle cx="271.0" cy="330.9" r="1.25"/><circle cx="263.8" cy="331.0" r="1.25"/><circle cx="257.1" cy="331.2" r="1.25"/><circle cx="252.2" cy="331.5" r="1.25"/><circle cx="261.6" cy="331.6" r="1.25"/><circle cx="259.2" cy="331.8" r="1.25"/><circle cx="255.0" cy="331.9" r="1.25"/><circle cx="263.1" cy="333.0" r="1.25"/><circle cx="259.2" cy="334.1" r="1.25"/><circle cx="260.9" cy="335.2" r="1.25"/><circle cx="259.2" cy="336.3" r="1.25"/><circle cx="260.9" cy="337.2" r="1.25"/></g>
<line x1="288.6" y1="317.4" x2="288.6" y2="342.2" stroke="#333333" stroke-width="0.8"/>
<rect x="277.0" y="326.7" width="23.2" height="7.0" fill="#f9dfc6" stroke="#333333" stroke-width="1"/>
<line x1="277.0" y1="329.8" x2="300.2" y2="329.8" stroke="#333333" stroke-width="1.4"/>
<g fill="#e69a48" fill-opacity="0.8"><circle cx="288.6" cy="317.6" r="1.25"/><circle cx="290.7" cy="317.8" r="1.25"/><circle cx="286.9" cy="318.5" r="1.25"/><circle cx="284.8" cy="318.5" r="1.25"/><circle cx="288.6" cy="320.9" r="1.25"/><circle cx="290.7" cy="321.7" r="1.25"/><circle cx="286.9" cy="321.8" r="1.25"/><circle cx="292.5" cy="322.6" r="1.25"/><circle cx="289.0" cy="322.9" r="1.25"/><circle cx="285.1" cy="322.9" r="1.25"/><circle cx="283.0" cy="323.3" r="1.25"/><circle cx="287.2" cy="324.2" r="1.25"/><circle cx="290.4" cy="324.5" r="1.25"/><circle cx="293.2" cy="324.5" r="1.25"/><circle cx="295.2" cy="324.8" r="1.25"/><circle cx="285.1" cy="325.0" r="1.25"/><circle cx="282.3" cy="325.2" r="1.25"/><circle cx="280.2" cy="325.5" r="1.25"/><circle cx="288.6" cy="325.6" r="1.25"/><circle cx="297.0" cy="325.8" r="1.25"/><circle cx="291.4" cy="326.2" r="1.25"/><circle cx="299.1" cy="326.2" r="1.25"/><circle cx="286.5" cy="326.4" r="1.25"/><circle cx="293.9" cy="326.4" r="1.25"/><circle cx="278.5" cy="326.5" r="1.25"/><circle cx="284.4" cy="326.9" r="1.25"/><circle cx="276.8" cy="326.9" r="1.25"/><circle cx="282.0" cy="327.1" r="1.25"/><circle cx="300.4" cy="327.1" r="1.25"/><circle cx="289.7" cy="327.3" r="1.25"/><circle cx="295.6" cy="327.3" r="1.25"/><circle cx="300.4" cy="327.5" r="1.25"/><circle cx="276.8" cy="327.6" r="1.25"/><circle cx="297.7" cy="327.6" r="1.25"/><circle cx="300.4" cy="327.7" r="1.25"/><circle cx="300.4" cy="327.7" r="1.25"/><circle cx="300.4" cy="327.7" r="1.25"/><circle cx="300.4" cy="327.8" r="1.25"/><circle cx="292.5" cy="327.9" r="1.25"/><circle cx="287.6" cy="328.2" r="1.25"/><circle cx="280.2" cy="328.2" r="1.25"/><circle cx="276.8" cy="328.2" r="1.25"/><circle cx="300.4" cy="328.3" r="1.25"/><circle cx="300.4" cy="328.3" r="1.25"/><circle cx="300.4" cy="328.4" r="1.25"/><circle cx="300.4" cy="328.4" r="1.25"/><circle cx="300.4" cy="328.4" r="1.25"/><circle cx="300.4" cy="328.4" r="1.25"/><circle cx="300.4" cy="328.5" r="1.25"/><circle cx="300.4" cy="328.5" r="1.25"/><circle cx="300.4" cy="328.5" r="1.25"/><circle cx="285.5" cy="328.6" r="1.25"/><circle cx="283.4" cy="328.7" r="1.25"/><circle cx="300.4" cy="328.7" r="1.25"/><circle cx="300.4" cy="328.7" r="1.25"/><circle cx="300.4" cy="328.7" r="1.25"/><circle cx="294.2" cy="328.8" r="1.25"/><circle cx="290.7" cy="329.0" r="1.25"/><circle cx="276.8" cy="329.0" r="1.25"/><circle cx="300.4" cy="329.0" r="1.25"/><circle cx="300.4" cy="329.0" r="1.25"/><circle cx="300.4" cy="329.1" r="1.25"/><circle cx="300.4" cy="329.2" r="1.25"/><circle cx="300.4" cy="329.2" r="1.25"/><circle cx="296.3" cy="329.2" r="1.25"/><circle cx="300.4" cy="329.4" r="1.25"/><circle cx="298.4" cy="329.5" r="1.25"/><circle cx="300.4" cy="329.5" r="1.25"/><circle cx="300.4" cy="329.5" r="1.25"/><circle cx="281.6" cy="329.6" r="1.25"/><circle cx="278.8" cy="329.6" r="1.25"/><circle cx="276.8" cy="329.7" r="1.25"/><circle cx="300.4" cy="329.7" r="1.25"/><circle cx="300.4" cy="329.7" r="1.25"/><circle cx="300.4" cy="329.7" r="1.25"/><circle cx="300.4" cy="329.8" r="1.25"/><circle cx="300.4" cy="329.8" r="1.25"/><circle cx="288.6" cy="329.9" r="1.25"/><circle cx="292.5" cy="330.0" r="1.25"/><circle cx="300.4" cy="330.0" r="1.25"/><circle cx="300.4" cy="330.1" r="1.25"/><circle cx="300.4" cy="330.2" r="1.25"/><circle cx="300.4" cy="330.2" r="1.25"/><circle cx="300.4" cy="330.2" r="1.25"/><circle cx="286.5" cy="330.4" r="1.25"/><circle cx="284.4" cy="330.4" r="1.25"/><circle cx="276.8" cy="330.5" r="1.25"/><circle cx="300.4" cy="330.6" r="1.25"/><circle cx="294.9" cy="330.6" r="1.25"/><circle cx="300.4" cy="330.6" r="1.25"/><circle cx="300.4" cy="330.7" r="1.25"/><circle cx="300.4" cy="330.8" r="1.25"/><circle cx="300.4" cy="330.8" r="1.25"/><circle cx="300.4" cy="330.8" r="1.25"/><circle cx="300.4" cy="330.8" r="1.25"/><circle cx="300.4" cy="330.9" r="1.25"/><circle cx="290.4" cy="331.0" r="1.25"/><circle cx="300.4" cy="331.0" r="1.25"/><circle cx="297.0" cy="331.0" r="1.25"/><circle cx="280.2" cy="331.0" r="1.25"/><circle cx="300.4" cy="331.1" r="1.25"/><circle cx="300.4" cy="331.1" r="1.25"/><circle cx="282.7" cy="331.3" r="1.25"/><circle cx="276.8" cy="331.3" r="1.25"/><circle cx="300.4" cy="331.4" r="1.25"/><circle cx="300.4" cy="331.6" r="1.25"/><circle cx="300.4" cy="331.6" r="1.25"/><circle cx="300.4" cy="331.7" r="1.25"/><circle cx="300.4" cy="331.7" r="1.25"/><circle cx="288.6" cy="331.9" r="1.25"/><circle cx="292.1" cy="331.9" r="1.25"/><circle cx="276.8" cy="332.0" r="1.25"/><circle cx="300.4" cy="332.0" r="1.25"/><circle cx="300.4" cy="332.1" r="1.25"/><circle cx="285.5" cy="332.1" r="1.25"/><circle cx="300.4" cy="332.2" r="1.25"/><circle cx="300.4" cy="332.2" r="1.25"/><circle cx="300.4" cy="332.2" r="1.25"/><circle cx="300.4" cy="332.2" r="1.25"/><circle cx="300.4" cy="332.3" r="1.25"/><circle cx="300.4" cy="332.3" r="1.25"/><circle cx="298.4" cy="332.4" r="1.25"/><circle cx="294.2" cy="332.5" r="1.25"/><circle cx="278.8" cy="332.6" r="1.25"/><circle cx="276.8" cy="332.6" r="1.25"/><circle cx="290.0" cy="333.3" r="1.25"/><circle cx="287.2" cy="333.5" r="1.25"/><circle cx="284.1" cy="333.5" r="1.25"/><circle cx="282.0" cy="333.6" r="1.25"/><circle cx="292.1" cy="333.9" r="1.25"/><circle cx="295.6" cy="334.0" r="1.25"/><circle cx="299.5" cy="334.1" r="1.25"/><circle cx="279.9" cy="334.3" r="1.25"/><circle cx="288.6" cy="334.8" r="1.25"/><circle cx="288.6" cy="337.3" r="1.25"/><circle cx="290.7" cy="337.5" r="1.25"/><circle cx="286.5" cy="337.5" r="1.25"/><circle cx="288.6" cy="343.4" r="1.25"/><circle cx="288.6" cy="346.8" r="1.25"/><circle cx="290.4" cy="347.9" r="1.25"/><circle cx="288.6" cy="416.0" r="1.25"/></g>
<rect x="277.0" y="326.7" width="23.2" height="7.0" fill="none" stroke="#333333" stroke-width="1" stroke-opacity="0.75"/>
<line x1="277.0" y1="329.8" x2="300.2" y2="329.8" stroke="#333333" stroke-width="1.4" stroke-opacity="0.6"/>
<line x1="318.1" y1="307.3" x2="318.1" y2="374.8" stroke="#333333" stroke-width="0.8"/>
<rect x="306.5" y="330.5" width="23.2" height="18.0" fill="#f1cfcf" stroke="#333333" stroke-width="1"/>
<line x1="306.5" y1="337.5" x2="329.7" y2="337.5" stroke="#333333" stroke-width="1.4"/>
<g fill="#bd5152" fill-opacity="0.72"><circle cx="318.1" cy="311.2" r="1.25"/><circle cx="320.2" cy="311.8" r="1.25"/><circle cx="318.1" cy="314.4" r="1.25"/><circle cx="320.2" cy="314.5" r="1.25"/><circle cx="318.1" cy="318.0" r="1.25"/><circle cx="319.5" cy="319.4" r="1.25"/><circle cx="317.1" cy="319.7" r="1.25"/><circle cx="315.0" cy="319.8" r="1.25"/><circle cx="318.1" cy="322.9" r="1.25"/><circle cx="320.2" cy="323.5" r="1.25"/><circle cx="316.4" cy="324.1" r="1.25"/><circle cx="322.0" cy="324.7" r="1.25"/><circle cx="314.2" cy="324.7" r="1.25"/><circle cx="318.1" cy="325.3" r="1.25"/><circle cx="320.2" cy="325.9" r="1.25"/><circle cx="323.7" cy="326.0" r="1.25"/><circle cx="316.4" cy="326.2" r="1.25"/><circle cx="312.9" cy="326.3" r="1.25"/><circle cx="310.8" cy="326.4" r="1.25"/><circle cx="325.8" cy="326.6" r="1.25"/><circle cx="308.7" cy="326.7" r="1.25"/><circle cx="322.0" cy="326.9" r="1.25"/><circle cx="318.5" cy="327.2" r="1.25"/><circle cx="315.3" cy="327.9" r="1.25"/><circle cx="320.2" cy="328.1" r="1.25"/><circle cx="323.7" cy="328.2" r="1.25"/><circle cx="313.2" cy="328.7" r="1.25"/><circle cx="317.4" cy="328.9" r="1.25"/><circle cx="311.1" cy="328.9" r="1.25"/><circle cx="325.8" cy="328.9" r="1.25"/><circle cx="322.0" cy="329.1" r="1.25"/><circle cx="309.0" cy="329.2" r="1.25"/><circle cx="327.9" cy="329.3" r="1.25"/><circle cx="306.9" cy="329.4" r="1.25"/><circle cx="319.2" cy="329.9" r="1.25"/><circle cx="315.7" cy="330.1" r="1.25"/><circle cx="329.9" cy="330.1" r="1.25"/><circle cx="323.7" cy="330.2" r="1.25"/><circle cx="306.3" cy="330.4" r="1.25"/><circle cx="329.9" cy="330.5" r="1.25"/><circle cx="312.5" cy="330.6" r="1.25"/><circle cx="317.4" cy="331.2" r="1.25"/><circle cx="320.9" cy="331.2" r="1.25"/><circle cx="325.5" cy="331.2" r="1.25"/><circle cx="310.4" cy="331.4" r="1.25"/><circle cx="314.2" cy="331.6" r="1.25"/><circle cx="327.6" cy="331.8" r="1.25"/><circle cx="308.3" cy="331.9" r="1.25"/><circle cx="319.2" cy="332.3" r="1.25"/><circle cx="322.7" cy="332.5" r="1.25"/><circle cx="316.0" cy="332.6" r="1.25"/><circle cx="312.5" cy="332.7" r="1.25"/><circle cx="329.3" cy="332.7" r="1.25"/><circle cx="306.6" cy="332.8" r="1.25"/><circle cx="329.9" cy="332.9" r="1.25"/><circle cx="324.8" cy="333.1" r="1.25"/><circle cx="306.3" cy="333.2" r="1.25"/><circle cx="329.9" cy="333.2" r="1.25"/><circle cx="320.9" cy="333.4" r="1.25"/><circle cx="310.4" cy="333.5" r="1.25"/><circle cx="314.2" cy="333.6" r="1.25"/><circle cx="326.9" cy="333.6" r="1.25"/><circle cx="317.8" cy="333.9" r="1.25"/><circle cx="308.3" cy="334.0" r="1.25"/><circle cx="329.9" cy="334.1" r="1.25"/><circle cx="306.3" cy="334.2" r="1.25"/><circle cx="329.9" cy="334.4" r="1.25"/><circle cx="329.9" cy="334.4" r="1.25"/><circle cx="329.9" cy="334.4" r="1.25"/><circle cx="323.0" cy="334.4" r="1.25"/><circle cx="329.9" cy="334.4" r="1.25"/><circle cx="329.9" cy="334.5" r="1.25"/><circle cx="312.2" cy="334.6" r="1.25"/><circle cx="329.9" cy="334.7" r="1.25"/><circle cx="319.5" cy="334.8" r="1.25"/><circle cx="316.0" cy="335.0" r="1.25"/><circle cx="325.1" cy="335.1" r="1.25"/><circle cx="306.3" cy="335.2" r="1.25"/><circle cx="327.9" cy="335.3" r="1.25"/><circle cx="309.7" cy="335.4" r="1.25"/><circle cx="329.9" cy="335.4" r="1.25"/><circle cx="329.9" cy="335.4" r="1.25"/><circle cx="329.9" cy="335.4" r="1.25"/><circle cx="329.9" cy="335.4" r="1.25"/><circle cx="329.9" cy="335.4" r="1.25"/><circle cx="329.9" cy="335.5" r="1.25"/><circle cx="313.9" cy="335.6" r="1.25"/><circle cx="329.9" cy="335.6" r="1.25"/><circle cx="329.9" cy="335.6" r="1.25"/><circle cx="317.8" cy="335.9" r="1.25"/><circle cx="321.2" cy="336.1" r="1.25"/><circle cx="306.3" cy="336.1" r="1.25"/><circle cx="329.9" cy="336.1" r="1.25"/><circle cx="329.9" cy="336.2" r="1.25"/><circle cx="329.9" cy="336.2" r="1.25"/><circle cx="329.9" cy="336.3" r="1.25"/><circle cx="323.4" cy="336.3" r="1.25"/><circle cx="329.9" cy="336.3" r="1.25"/><circle cx="312.2" cy="336.6" r="1.25"/><circle cx="326.2" cy="336.8" r="1.25"/><circle cx="308.3" cy="336.8" r="1.25"/><circle cx="319.5" cy="336.9" r="1.25"/><circle cx="316.0" cy="337.2" r="1.25"/><circle cx="329.9" cy="337.2" r="1.25"/><circle cx="306.3" cy="337.3" r="1.25"/><circle cx="310.4" cy="337.5" r="1.25"/><circle cx="313.9" cy="337.8" r="1.25"/><circle cx="327.9" cy="337.9" r="1.25"/><circle cx="322.0" cy="337.9" r="1.25"/><circle cx="329.9" cy="337.9" r="1.25"/><circle cx="317.8" cy="338.1" r="1.25"/><circle cx="324.1" cy="338.3" r="1.25"/><circle cx="306.3" cy="338.5" r="1.25"/><circle cx="329.9" cy="338.6" r="1.25"/><circle cx="329.9" cy="338.6" r="1.25"/><circle cx="312.2" cy="338.7" r="1.25"/><circle cx="319.9" cy="339.0" r="1.25"/><circle cx="316.0" cy="339.2" r="1.25"/><circle cx="325.8" cy="339.3" r="1.25"/><circle cx="309.7" cy="339.4" r="1.25"/><circle cx="329.9" cy="339.5" r="1.25"/><circle cx="306.3" cy="339.6" r="1.25"/><circle cx="329.9" cy="339.7" r="1.25"/><circle cx="313.9" cy="339.8" r="1.25"/><circle cx="322.3" cy="339.8" r="1.25"/><circle cx="327.9" cy="339.8" r="1.25"/><circle cx="329.9" cy="339.9" r="1.25"/><circle cx="329.9" cy="340.0" r="1.25"/><circle cx="318.1" cy="340.1" r="1.25"/><circle cx="329.9" cy="340.1" r="1.25"/><circle cx="329.9" cy="340.2" r="1.25"/><circle cx="329.9" cy="340.2" r="1.25"/><circle cx="306.3" cy="340.4" r="1.25"/><circle cx="329.9" cy="340.4" r="1.25"/><circle cx="324.1" cy="340.7" r="1.25"/><circle cx="312.2" cy="340.7" r="1.25"/><circle cx="320.6" cy="340.8" r="1.25"/><circle cx="308.3" cy="340.8" r="1.25"/><circle cx="329.9" cy="340.8" r="1.25"/><circle cx="329.9" cy="340.9" r="1.25"/><circle cx="329.9" cy="341.0" r="1.25"/><circle cx="316.4" cy="341.1" r="1.25"/><circle cx="306.3" cy="341.1" r="1.25"/><circle cx="326.2" cy="341.2" r="1.25"/><circle cx="329.9" cy="341.2" r="1.25"/><circle cx="329.9" cy="341.2" r="1.25"/><circle cx="329.9" cy="341.2" r="1.25"/><circle cx="329.9" cy="341.3" r="1.25"/><circle cx="329.9" cy="341.4" r="1.25"/><circle cx="329.9" cy="341.5" r="1.25"/><circle cx="329.9" cy="341.5" r="1.25"/><circle cx="329.9" cy="341.5" r="1.25"/><circle cx="310.4" cy="341.6" r="1.25"/><circle cx="329.9" cy="341.6" r="1.25"/><circle cx="314.2" cy="341.7" r="1.25"/><circle cx="318.8" cy="341.9" r="1.25"/><circle cx="322.3" cy="342.1" r="1.25"/><circle cx="327.9" cy="342.2" r="1.25"/><circle cx="306.3" cy="342.2" r="1.25"/><circle cx="329.9" cy="342.3" r="1.25"/><circle cx="329.9" cy="342.4" r="1.25"/><circle cx="324.8" cy="342.6" r="1.25"/><circle cx="312.5" cy="342.7" r="1.25"/><circle cx="308.7" cy="342.8" r="1.25"/><circle cx="306.3" cy="342.9" r="1.25"/><circle cx="317.1" cy="343.0" r="1.25"/><circle cx="320.6" cy="343.1" r="1.25"/><circle cx="329.9" cy="343.1" r="1.25"/><circle cx="329.9" cy="343.2" r="1.25"/><circle cx="329.9" cy="343.3" r="1.25"/><circle cx="329.9" cy="343.3" r="1.25"/><circle cx="329.9" cy="343.5" r="1.25"/><circle cx="315.3" cy="343.9" r="1.25"/><circle cx="318.8" cy="344.0" r="1.25"/><circle cx="322.3" cy="344.2" r="1.25"/><circle cx="313.2" cy="344.6" r="1.25"/><circle cx="324.4" cy="344.7" r="1.25"/><circle cx="317.1" cy="345.0" r="1.25"/><circle cx="320.2" cy="345.5" r="1.25"/><circle cx="311.5" cy="345.7" r="1.25"/><circle cx="315.3" cy="346.0" r="1.25"/><circle cx="318.5" cy="346.6" r="1.25"/><circle cx="322.0" cy="346.7" r="1.25"/><circle cx="313.2" cy="346.8" r="1.25"/><circle cx="324.1" cy="346.9" r="1.25"/><circle cx="326.2" cy="346.9" r="1.25"/><circle cx="309.7" cy="346.9" r="1.25"/><circle cx="328.2" cy="347.0" r="1.25"/><circle cx="307.6" cy="347.1" r="1.25"/><circle cx="329.9" cy="347.4" r="1.25"/><circle cx="316.7" cy="347.7" r="1.25"/><circle cx="320.2" cy="347.9" r="1.25"/><circle cx="311.5" cy="347.9" r="1.25"/><circle cx="314.6" cy="348.5" r="1.25"/><circle cx="322.7" cy="348.6" r="1.25"/><circle cx="325.1" cy="348.6" r="1.25"/><circle cx="318.1" cy="349.2" r="1.25"/><circle cx="309.7" cy="349.2" r="1.25"/><circle cx="319.9" cy="350.1" r="1.25"/><circle cx="316.4" cy="350.5" r="1.25"/><circle cx="322.0" cy="350.7" r="1.25"/><circle cx="314.2" cy="351.0" r="1.25"/><circle cx="324.1" cy="351.2" r="1.25"/><circle cx="318.1" cy="351.5" r="1.25"/><circle cx="312.2" cy="351.5" r="1.25"/><circle cx="326.2" cy="352.0" r="1.25"/><circle cx="319.9" cy="352.4" r="1.25"/><circle cx="316.4" cy="352.5" r="1.25"/><circle cx="322.0" cy="352.9" r="1.25"/><circle cx="318.1" cy="353.6" r="1.25"/><circle cx="314.6" cy="353.7" r="1.25"/><circle cx="323.7" cy="354.2" r="1.25"/><circle cx="319.9" cy="354.7" r="1.25"/><circle cx="316.4" cy="354.9" r="1.25"/><circle cx="322.0" cy="355.2" r="1.25"/><circle cx="313.6" cy="355.4" r="1.25"/><circle cx="318.1" cy="356.6" r="1.25"/><circle cx="319.9" cy="357.9" r="1.25"/><circle cx="317.8" cy="358.6" r="1.25"/><circle cx="319.2" cy="360.1" r="1.25"/><circle cx="318.1" cy="364.6" r="1.25"/><circle cx="319.5" cy="366.0" r="1.25"/><circle cx="318.1" cy="367.6" r="1.25"/><circle cx="318.1" cy="378.2" r="1.25"/></g>
<rect x="306.5" y="330.5" width="23.2" height="18.0" fill="none" stroke="#333333" stroke-width="1" stroke-opacity="0.75"/>
<line x1="306.5" y1="337.5" x2="329.7" y2="337.5" stroke="#333333" stroke-width="1.4" stroke-opacity="0.6"/>
<rect x="241.5" y="281.7" width="94.0" height="141.90000000000003" fill="none" stroke="#333333" stroke-width="1"/>
<line x1="238.3" y1="415.3" x2="241.5" y2="415.3" stroke="#333333" stroke-width="1"/>
<text x="235.3" y="418.9" font-size="10" fill="#4d4d4d" text-anchor="end">0.3</text>
<line x1="238.3" y1="392.8" x2="241.5" y2="392.8" stroke="#333333" stroke-width="1"/>
<text x="235.3" y="396.4" font-size="10" fill="#4d4d4d" text-anchor="end">0.4</text>
<line x1="238.3" y1="370.3" x2="241.5" y2="370.3" stroke="#333333" stroke-width="1"/>
<text x="235.3" y="373.9" font-size="10" fill="#4d4d4d" text-anchor="end">0.5</text>
<line x1="238.3" y1="347.8" x2="241.5" y2="347.8" stroke="#333333" stroke-width="1"/>
<text x="235.3" y="351.4" font-size="10" fill="#4d4d4d" text-anchor="end">0.6</text>
<line x1="238.3" y1="325.3" x2="241.5" y2="325.3" stroke="#333333" stroke-width="1"/>
<text x="235.3" y="328.9" font-size="10" fill="#4d4d4d" text-anchor="end">0.7</text>
<line x1="238.3" y1="302.8" x2="241.5" y2="302.8" stroke="#333333" stroke-width="1"/>
<text x="235.3" y="306.4" font-size="10" fill="#4d4d4d" text-anchor="end">0.8</text>
<line x1="259.2" y1="423.6" x2="259.2" y2="426.8" stroke="#333333" stroke-width="1"/>
<line x1="288.6" y1="423.6" x2="288.6" y2="426.8" stroke="#333333" stroke-width="1"/>
<line x1="318.1" y1="423.6" x2="318.1" y2="426.8" stroke="#333333" stroke-width="1"/>
<path d="M288.6,293.6 V290.6 H318.1 V293.6" fill="none" stroke="#333333" stroke-width="0.9"/>
<text x="303.4" y="289.4" font-size="7.3" fill="#000" text-anchor="middle">4.9e−13</text>
<path d="M259.2,305.5 V302.5 H318.1 V305.5" fill="none" stroke="#333333" stroke-width="0.9"/>
<text x="288.6" y="301.3" font-size="7.3" fill="#000" text-anchor="middle">p &lt; 2.22e−16</text>
<path d="M259.2,316.1 V313.1 H288.6 V316.1" fill="none" stroke="#333333" stroke-width="0.9"/>
<text x="273.9" y="311.9" font-size="7.3" fill="#000" text-anchor="middle">3.8e−8</text>
<text x="0.0" y="0.0" font-size="12.5" fill="#000" text-anchor="middle" transform="translate(216.0,361.1) rotate(-90)">mean ß in breast tissue</text>
<line x1="578.5" y1="414.2" x2="672.7" y2="414.2" stroke="#ebebeb" stroke-width="0.9"/>
<line x1="578.5" y1="399.5" x2="672.7" y2="399.5" stroke="#f4f4f4" stroke-width="0.6"/>
<line x1="578.5" y1="384.8" x2="672.7" y2="384.8" stroke="#ebebeb" stroke-width="0.9"/>
<line x1="578.5" y1="370.1" x2="672.7" y2="370.1" stroke="#f4f4f4" stroke-width="0.6"/>
<line x1="578.5" y1="355.4" x2="672.7" y2="355.4" stroke="#ebebeb" stroke-width="0.9"/>
<line x1="578.5" y1="340.7" x2="672.7" y2="340.7" stroke="#f4f4f4" stroke-width="0.6"/>
<line x1="578.5" y1="326.0" x2="672.7" y2="326.0" stroke="#ebebeb" stroke-width="0.9"/>
<line x1="578.5" y1="311.3" x2="672.7" y2="311.3" stroke="#f4f4f4" stroke-width="0.6"/>
<line x1="578.5" y1="296.6" x2="672.7" y2="296.6" stroke="#ebebeb" stroke-width="0.9"/>
<line x1="578.5" y1="281.9" x2="672.7" y2="281.9" stroke="#f4f4f4" stroke-width="0.6"/>
<line x1="596.4" y1="281.3" x2="596.4" y2="423.1" stroke="#ebebeb" stroke-width="0.9"/>
<line x1="626.0" y1="281.3" x2="626.0" y2="423.1" stroke="#ebebeb" stroke-width="0.9"/>
<line x1="655.6" y1="281.3" x2="655.6" y2="423.1" stroke="#ebebeb" stroke-width="0.9"/>
<line x1="596.4" y1="349.5" x2="596.4" y2="374.5" stroke="#333333" stroke-width="0.8"/>
<rect x="584.8" y="359.2" width="23.2" height="6.8" fill="#c9e8f5" stroke="#333333" stroke-width="1"/>
<line x1="584.8" y1="362.8" x2="608.0" y2="362.8" stroke="#333333" stroke-width="1.4"/>
<g fill="#0a9ed8" fill-opacity="0.95"><circle cx="596.4" cy="328.6" r="1.25"/><circle cx="596.4" cy="349.5" r="1.25"/><circle cx="598.5" cy="350.3" r="1.25"/><circle cx="595.4" cy="351.3" r="1.25"/><circle cx="596.8" cy="353.0" r="1.25"/><circle cx="595.0" cy="353.9" r="1.25"/><circle cx="597.4" cy="354.8" r="1.25"/><circle cx="596.4" cy="356.7" r="1.25"/><circle cx="598.5" cy="356.8" r="1.25"/><circle cx="594.3" cy="357.1" r="1.25"/><circle cx="600.6" cy="357.3" r="1.25"/><circle cx="592.2" cy="357.4" r="1.25"/><circle cx="602.7" cy="357.6" r="1.25"/><circle cx="590.1" cy="357.8" r="1.25"/><circle cx="604.8" cy="358.1" r="1.25"/><circle cx="588.0" cy="358.2" r="1.25"/><circle cx="606.9" cy="358.2" r="1.25"/><circle cx="596.4" cy="358.6" r="1.25"/><circle cx="598.9" cy="358.7" r="1.25"/><circle cx="593.6" cy="358.9" r="1.25"/><circle cx="585.9" cy="358.9" r="1.25"/><circle cx="608.2" cy="359.0" r="1.25"/><circle cx="600.9" cy="359.2" r="1.25"/><circle cx="591.5" cy="359.5" r="1.25"/><circle cx="603.0" cy="359.5" r="1.25"/><circle cx="584.6" cy="359.6" r="1.25"/><circle cx="608.2" cy="359.6" r="1.25"/><circle cx="589.4" cy="359.7" r="1.25"/><circle cx="608.2" cy="359.8" r="1.25"/><circle cx="608.2" cy="359.9" r="1.25"/><circle cx="605.1" cy="360.0" r="1.25"/><circle cx="608.2" cy="360.1" r="1.25"/><circle cx="584.6" cy="360.3" r="1.25"/><circle cx="597.4" cy="360.4" r="1.25"/><circle cx="595.4" cy="360.4" r="1.25"/><circle cx="587.3" cy="360.4" r="1.25"/><circle cx="608.2" cy="360.4" r="1.25"/><circle cx="608.2" cy="360.4" r="1.25"/><circle cx="608.2" cy="360.5" r="1.25"/><circle cx="608.2" cy="360.5" r="1.25"/><circle cx="608.2" cy="360.5" r="1.25"/><circle cx="608.2" cy="360.5" r="1.25"/><circle cx="599.5" cy="360.7" r="1.25"/><circle cx="608.2" cy="360.7" r="1.25"/><circle cx="593.2" cy="360.9" r="1.25"/><circle cx="584.6" cy="360.9" r="1.25"/><circle cx="608.2" cy="360.9" r="1.25"/><circle cx="608.2" cy="360.9" r="1.25"/><circle cx="608.2" cy="360.9" r="1.25"/><circle cx="608.2" cy="360.9" r="1.25"/><circle cx="608.2" cy="361.0" r="1.25"/><circle cx="608.2" cy="361.0" r="1.25"/><circle cx="608.2" cy="361.1" r="1.25"/><circle cx="601.6" cy="361.1" r="1.25"/><circle cx="608.2" cy="361.1" r="1.25"/><circle cx="608.2" cy="361.2" r="1.25"/><circle cx="590.8" cy="361.3" r="1.25"/><circle cx="608.2" cy="361.4" r="1.25"/><circle cx="608.2" cy="361.4" r="1.25"/><circle cx="603.8" cy="361.4" r="1.25"/><circle cx="608.2" cy="361.5" r="1.25"/><circle cx="608.2" cy="361.5" r="1.25"/><circle cx="584.6" cy="361.5" r="1.25"/><circle cx="608.2" cy="361.5" r="1.25"/><circle cx="608.2" cy="361.5" r="1.25"/><circle cx="608.2" cy="361.6" r="1.25"/><circle cx="608.2" cy="361.6" r="1.25"/><circle cx="606.2" cy="361.7" r="1.25"/><circle cx="608.2" cy="361.7" r="1.25"/><circle cx="588.7" cy="361.8" r="1.25"/><circle cx="608.2" cy="361.8" r="1.25"/><circle cx="608.2" cy="361.8" r="1.25"/><circle cx="608.2" cy="361.8" r="1.25"/><circle cx="608.2" cy="361.8" r="1.25"/><circle cx="608.2" cy="361.9" r="1.25"/><circle cx="608.2" cy="362.0" r="1.25"/><circle cx="608.2" cy="362.0" r="1.25"/><circle cx="608.2" cy="362.0" r="1.25"/><circle cx="596.4" cy="362.1" r="1.25"/><circle cx="608.2" cy="362.1" r="1.25"/><circle cx="608.2" cy="362.1" r="1.25"/><circle cx="608.2" cy="362.1" r="1.25"/><circle cx="608.2" cy="362.1" r="1.25"/><circle cx="584.6" cy="362.1" r="1.25"/><circle cx="608.2" cy="362.2" r="1.25"/><circle cx="586.6" cy="362.2" r="1.25"/><circle cx="608.2" cy="362.3" r="1.25"/><circle cx="608.2" cy="362.3" r="1.25"/><circle cx="608.2" cy="362.3" r="1.25"/><circle cx="608.2" cy="362.3" r="1.25"/><circle cx="598.5" cy="362.4" r="1.25"/><circle cx="608.2" cy="362.4" r="1.25"/><circle cx="608.2" cy="362.4" r="1.25"/><circle cx="608.2" cy="362.4" r="1.25"/><circle cx="608.2" cy="362.4" r="1.25"/><circle cx="608.2" cy="362.5" r="1.25"/><circle cx="608.2" cy="362.5" r="1.25"/><circle cx="608.2" cy="362.5" r="1.25"/><circle cx="608.2" cy="362.5" r="1.25"/><circle cx="594.3" cy="362.5" r="1.25"/><circle cx="608.2" cy="362.5" r="1.25"/><circle cx="608.2" cy="362.6" r="1.25"/><circle cx="608.2" cy="362.6" r="1.25"/><circle cx="608.2" cy="362.6" r="1.25"/><circle cx="608.2" cy="362.6" r="1.25"/><circle cx="608.2" cy="362.7" r="1.25"/><circle cx="608.2" cy="362.7" r="1.25"/><circle cx="592.2" cy="362.7" r="1.25"/><circle cx="608.2" cy="362.7" r="1.25"/><circle cx="600.6" cy="362.8" r="1.25"/><circle cx="584.6" cy="362.8" r="1.25"/><circle cx="608.2" cy="362.8" r="1.25"/><circle cx="608.2" cy="362.9" r="1.25"/><circle cx="608.2" cy="363.0" r="1.25"/><circle cx="608.2" cy="363.0" r="1.25"/><circle cx="608.2" cy="363.0" r="1.25"/><circle cx="608.2" cy="363.0" r="1.25"/><circle cx="608.2" cy="363.1" r="1.25"/><circle cx="608.2" cy="363.1" r="1.25"/><circle cx="608.2" cy="363.1" r="1.25"/><circle cx="608.2" cy="363.1" r="1.25"/><circle cx="602.7" cy="363.2" r="1.25"/><circle cx="590.1" cy="363.2" r="1.25"/><circle cx="604.8" cy="363.2" r="1.25"/><circle cx="608.2" cy="363.2" r="1.25"/><circle cx="608.2" cy="363.2" r="1.25"/><circle cx="608.2" cy="363.3" r="1.25"/><circle cx="608.2" cy="363.3" r="1.25"/><circle cx="608.2" cy="363.3" r="1.25"/><circle cx="608.2" cy="363.3" r="1.25"/><circle cx="608.2" cy="363.3" r="1.25"/><circle cx="608.2" cy="363.4" r="1.25"/><circle cx="608.2" cy="363.4" r="1.25"/><circle cx="608.2" cy="363.4" r="1.25"/><circle cx="584.6" cy="363.5" r="1.25"/><circle cx="608.2" cy="363.5" r="1.25"/><circle cx="608.2" cy="363.6" r="1.25"/><circle cx="608.2" cy="363.6" r="1.25"/><circle cx="608.2" cy="363.6" r="1.25"/><circle cx="608.2" cy="363.6" r="1.25"/><circle cx="588.0" cy="363.6" r="1.25"/><circle cx="608.2" cy="363.7" r="1.25"/><circle cx="608.2" cy="363.7" r="1.25"/><circle cx="608.2" cy="363.8" r="1.25"/><circle cx="608.2" cy="363.8" r="1.25"/><circle cx="608.2" cy="363.8" r="1.25"/><circle cx="608.2" cy="363.8" r="1.25"/><circle cx="608.2" cy="363.9" r="1.25"/><circle cx="597.1" cy="363.9" r="1.25"/><circle cx="608.2" cy="364.0" r="1.25"/><circle cx="608.2" cy="364.0" r="1.25"/><circle cx="608.2" cy="364.0" r="1.25"/><circle cx="608.2" cy="364.0" r="1.25"/><circle cx="608.2" cy="364.1" r="1.25"/><circle cx="584.6" cy="364.1" r="1.25"/><circle cx="599.2" cy="364.2" r="1.25"/><circle cx="608.2" cy="364.2" r="1.25"/><circle cx="608.2" cy="364.3" r="1.25"/><circle cx="608.2" cy="364.3" r="1.25"/><circle cx="595.0" cy="364.4" r="1.25"/><circle cx="608.2" cy="364.4" r="1.25"/><circle cx="608.2" cy="364.4" r="1.25"/><circle cx="608.2" cy="364.4" r="1.25"/><circle cx="608.2" cy="364.5" r="1.25"/><circle cx="608.2" cy="364.5" r="1.25"/><circle cx="608.2" cy="364.5" r="1.25"/><circle cx="592.9" cy="364.5" r="1.25"/><circle cx="601.3" cy="364.6" r="1.25"/><circle cx="606.2" cy="364.6" r="1.25"/><circle cx="608.2" cy="364.7" r="1.25"/><circle cx="608.2" cy="364.7" r="1.25"/><circle cx="584.6" cy="364.8" r="1.25"/><circle cx="608.2" cy="364.8" r="1.25"/><circle cx="608.2" cy="364.8" r="1.25"/><circle cx="603.8" cy="364.9" r="1.25"/><circle cx="608.2" cy="364.9" r="1.25"/><circle cx="608.2" cy="364.9" r="1.25"/><circle cx="608.2" cy="365.0" r="1.25"/><circle cx="586.6" cy="365.0" r="1.25"/><circle cx="590.8" cy="365.0" r="1.25"/><circle cx="608.2" cy="365.0" r="1.25"/><circle cx="608.2" cy="365.0" r="1.25"/><circle cx="608.2" cy="365.1" r="1.25"/><circle cx="608.2" cy="365.4" r="1.25"/><circle cx="584.6" cy="365.4" r="1.25"/><circle cx="608.2" cy="365.4" r="1.25"/><circle cx="588.7" cy="365.6" r="1.25"/><circle cx="608.2" cy="365.7" r="1.25"/><circle cx="608.2" cy="365.7" r="1.25"/><circle cx="608.2" cy="365.7" r="1.25"/><circle cx="596.4" cy="365.8" r="1.25"/><circle cx="608.2" cy="365.8" r="1.25"/><circle cx="608.2" cy="365.9" r="1.25"/><circle cx="608.2" cy="366.0" r="1.25"/><circle cx="598.5" cy="366.1" r="1.25"/><circle cx="584.6" cy="366.1" r="1.25"/><circle cx="594.3" cy="366.3" r="1.25"/><circle cx="602.4" cy="366.3" r="1.25"/><circle cx="605.1" cy="366.4" r="1.25"/><circle cx="592.2" cy="366.4" r="1.25"/><circle cx="608.2" cy="366.4" r="1.25"/><circle cx="608.2" cy="366.5" r="1.25"/><circle cx="608.2" cy="366.5" r="1.25"/><circle cx="608.2" cy="366.6" r="1.25"/><circle cx="608.2" cy="366.6" r="1.25"/><circle cx="608.2" cy="366.6" r="1.25"/><circle cx="608.2" cy="366.6" r="1.25"/><circle cx="608.2" cy="366.6" r="1.25"/><circle cx="608.2" cy="366.6" r="1.25"/><circle cx="584.6" cy="366.8" r="1.25"/><circle cx="608.2" cy="366.9" r="1.25"/><circle cx="600.2" cy="367.0" r="1.25"/><circle cx="590.1" cy="367.2" r="1.25"/><circle cx="587.6" cy="367.3" r="1.25"/><circle cx="608.2" cy="367.5" r="1.25"/><circle cx="584.6" cy="367.6" r="1.25"/><circle cx="596.4" cy="367.9" r="1.25"/><circle cx="603.8" cy="368.0" r="1.25"/><circle cx="598.5" cy="368.1" r="1.25"/><circle cx="593.6" cy="368.2" r="1.25"/><circle cx="605.9" cy="368.3" r="1.25"/><circle cx="601.6" cy="368.4" r="1.25"/><circle cx="591.5" cy="368.6" r="1.25"/><circle cx="589.4" cy="369.3" r="1.25"/><circle cx="587.3" cy="369.4" r="1.25"/><circle cx="607.6" cy="369.5" r="1.25"/><circle cx="599.9" cy="369.5" r="1.25"/><circle cx="597.1" cy="369.8" r="1.25"/><circle cx="595.0" cy="370.0" r="1.25"/><circle cx="592.9" cy="370.1" r="1.25"/><circle cx="596.4" cy="372.1" r="1.25"/><circle cx="597.4" cy="373.9" r="1.25"/></g>
<line x1="626.0" y1="343.6" x2="626.0" y2="367.2" stroke="#333333" stroke-width="0.8"/>
<rect x="614.4" y="353.3" width="23.2" height="7.1" fill="#f9dfc6" stroke="#333333" stroke-width="1"/>
<line x1="614.4" y1="356.9" x2="637.6" y2="356.9" stroke="#333333" stroke-width="1.4"/>
<g fill="#e69a48" fill-opacity="0.8"><circle cx="626.0" cy="344.6" r="1.25"/><circle cx="627.8" cy="345.9" r="1.25"/><circle cx="624.6" cy="346.1" r="1.25"/><circle cx="622.5" cy="346.6" r="1.25"/><circle cx="626.0" cy="347.5" r="1.25"/><circle cx="628.1" cy="348.3" r="1.25"/><circle cx="626.0" cy="349.8" r="1.25"/><circle cx="623.9" cy="349.8" r="1.25"/><circle cx="629.1" cy="350.1" r="1.25"/><circle cx="621.8" cy="350.7" r="1.25"/><circle cx="627.0" cy="351.5" r="1.25"/><circle cx="625.0" cy="351.5" r="1.25"/><circle cx="628.8" cy="352.6" r="1.25"/><circle cx="623.2" cy="352.6" r="1.25"/><circle cx="630.9" cy="352.9" r="1.25"/><circle cx="621.1" cy="352.9" r="1.25"/><circle cx="633.0" cy="353.0" r="1.25"/><circle cx="626.0" cy="353.2" r="1.25"/><circle cx="619.0" cy="353.4" r="1.25"/><circle cx="635.1" cy="353.6" r="1.25"/><circle cx="616.9" cy="353.6" r="1.25"/><circle cx="637.2" cy="353.8" r="1.25"/><circle cx="614.8" cy="353.8" r="1.25"/><circle cx="637.8" cy="353.9" r="1.25"/><circle cx="614.2" cy="353.9" r="1.25"/><circle cx="637.8" cy="354.1" r="1.25"/><circle cx="627.8" cy="354.3" r="1.25"/><circle cx="624.2" cy="354.5" r="1.25"/><circle cx="629.9" cy="354.6" r="1.25"/><circle cx="622.1" cy="354.7" r="1.25"/><circle cx="632.0" cy="354.7" r="1.25"/><circle cx="637.8" cy="354.8" r="1.25"/><circle cx="614.2" cy="354.9" r="1.25"/><circle cx="637.8" cy="355.0" r="1.25"/><circle cx="620.0" cy="355.2" r="1.25"/><circle cx="637.8" cy="355.2" r="1.25"/><circle cx="634.0" cy="355.2" r="1.25"/><circle cx="618.0" cy="355.3" r="1.25"/><circle cx="637.8" cy="355.3" r="1.25"/><circle cx="626.0" cy="355.4" r="1.25"/><circle cx="637.8" cy="355.5" r="1.25"/><circle cx="637.8" cy="355.5" r="1.25"/><circle cx="637.8" cy="355.5" r="1.25"/><circle cx="637.8" cy="355.5" r="1.25"/><circle cx="614.2" cy="355.6" r="1.25"/><circle cx="637.8" cy="355.6" r="1.25"/><circle cx="637.8" cy="355.8" r="1.25"/><circle cx="637.8" cy="355.8" r="1.25"/><circle cx="637.8" cy="356.0" r="1.25"/><circle cx="637.8" cy="356.0" r="1.25"/><circle cx="637.8" cy="356.0" r="1.25"/><circle cx="637.8" cy="356.1" r="1.25"/><circle cx="637.8" cy="356.1" r="1.25"/><circle cx="635.8" cy="356.1" r="1.25"/><circle cx="616.2" cy="356.1" r="1.25"/><circle cx="637.8" cy="356.1" r="1.25"/><circle cx="637.8" cy="356.1" r="1.25"/><circle cx="627.8" cy="356.3" r="1.25"/><circle cx="623.5" cy="356.3" r="1.25"/><circle cx="630.9" cy="356.4" r="1.25"/><circle cx="614.2" cy="356.4" r="1.25"/><circle cx="637.8" cy="356.5" r="1.25"/><circle cx="637.8" cy="356.6" r="1.25"/><circle cx="621.5" cy="356.6" r="1.25"/><circle cx="637.8" cy="356.6" r="1.25"/><circle cx="637.8" cy="356.7" r="1.25"/><circle cx="637.8" cy="356.7" r="1.25"/><circle cx="637.8" cy="356.7" r="1.25"/><circle cx="637.8" cy="356.7" r="1.25"/><circle cx="637.8" cy="356.7" r="1.25"/><circle cx="637.8" cy="356.8" r="1.25"/><circle cx="637.8" cy="356.9" r="1.25"/><circle cx="637.8" cy="356.9" r="1.25"/><circle cx="633.0" cy="357.0" r="1.25"/><circle cx="619.4" cy="357.1" r="1.25"/><circle cx="614.2" cy="357.1" r="1.25"/><circle cx="637.8" cy="357.2" r="1.25"/><circle cx="625.3" cy="357.3" r="1.25"/><circle cx="637.8" cy="357.3" r="1.25"/><circle cx="637.8" cy="357.4" r="1.25"/><circle cx="637.8" cy="357.5" r="1.25"/><circle cx="637.8" cy="357.6" r="1.25"/><circle cx="637.8" cy="357.6" r="1.25"/><circle cx="629.1" cy="357.8" r="1.25"/><circle cx="634.8" cy="357.9" r="1.25"/><circle cx="617.6" cy="358.0" r="1.25"/><circle cx="614.2" cy="358.0" r="1.25"/><circle cx="637.8" cy="358.1" r="1.25"/><circle cx="637.8" cy="358.1" r="1.25"/><circle cx="637.8" cy="358.2" r="1.25"/><circle cx="627.0" cy="358.2" r="1.25"/><circle cx="622.9" cy="358.3" r="1.25"/><circle cx="637.8" cy="358.3" r="1.25"/><circle cx="637.8" cy="358.3" r="1.25"/><circle cx="631.2" cy="358.3" r="1.25"/><circle cx="637.8" cy="358.4" r="1.25"/><circle cx="637.8" cy="358.4" r="1.25"/><circle cx="620.8" cy="358.5" r="1.25"/><circle cx="637.8" cy="358.5" r="1.25"/><circle cx="637.8" cy="358.5" r="1.25"/><circle cx="637.8" cy="358.5" r="1.25"/><circle cx="637.8" cy="358.7" r="1.25"/><circle cx="614.2" cy="358.7" r="1.25"/><circle cx="637.8" cy="358.8" r="1.25"/><circle cx="637.8" cy="358.8" r="1.25"/><circle cx="624.6" cy="359.2" r="1.25"/><circle cx="637.8" cy="359.2" r="1.25"/><circle cx="637.8" cy="359.2" r="1.25"/><circle cx="633.0" cy="359.3" r="1.25"/><circle cx="619.0" cy="359.4" r="1.25"/><circle cx="616.2" cy="359.4" r="1.25"/><circle cx="614.2" cy="359.5" r="1.25"/><circle cx="635.8" cy="359.6" r="1.25"/><circle cx="628.5" cy="359.8" r="1.25"/><circle cx="637.8" cy="359.8" r="1.25"/><circle cx="637.8" cy="360.0" r="1.25"/><circle cx="637.8" cy="360.0" r="1.25"/><circle cx="626.4" cy="360.1" r="1.25"/><circle cx="623.2" cy="360.5" r="1.25"/><circle cx="630.2" cy="360.7" r="1.25"/><circle cx="621.1" cy="360.8" r="1.25"/><circle cx="632.3" cy="361.2" r="1.25"/><circle cx="619.0" cy="361.4" r="1.25"/><circle cx="634.4" cy="361.4" r="1.25"/><circle cx="625.0" cy="361.7" r="1.25"/><circle cx="627.4" cy="361.8" r="1.25"/><circle cx="616.9" cy="361.8" r="1.25"/><circle cx="636.5" cy="361.9" r="1.25"/><circle cx="614.8" cy="361.9" r="1.25"/><circle cx="637.8" cy="361.9" r="1.25"/><circle cx="614.2" cy="362.3" r="1.25"/><circle cx="623.2" cy="362.6" r="1.25"/><circle cx="629.1" cy="362.7" r="1.25"/><circle cx="621.1" cy="363.2" r="1.25"/><circle cx="626.0" cy="363.9" r="1.25"/><circle cx="627.4" cy="365.4" r="1.25"/><circle cx="625.3" cy="366.0" r="1.25"/><circle cx="623.2" cy="366.2" r="1.25"/><circle cx="628.8" cy="367.0" r="1.25"/><circle cx="626.4" cy="367.7" r="1.25"/><circle cx="626.0" cy="416.0" r="1.25"/></g>
<rect x="614.4" y="353.3" width="23.2" height="7.1" fill="none" stroke="#333333" stroke-width="1" stroke-opacity="0.75"/>
<line x1="614.4" y1="356.9" x2="637.6" y2="356.9" stroke="#333333" stroke-width="1.4" stroke-opacity="0.6"/>
<line x1="655.6" y1="331.9" x2="655.6" y2="384.8" stroke="#333333" stroke-width="0.8"/>
<rect x="644.0" y="351.3" width="23.2" height="14.1" fill="#f1cfcf" stroke="#333333" stroke-width="1"/>
<line x1="644.0" y1="357.8" x2="667.2" y2="357.8" stroke="#333333" stroke-width="1.4"/>
<g fill="#bd5152" fill-opacity="0.72"><circle cx="655.6" cy="326.5" r="1.25"/><circle cx="655.6" cy="329.5" r="1.25"/><circle cx="657.7" cy="330.0" r="1.25"/><circle cx="655.6" cy="333.9" r="1.25"/><circle cx="657.7" cy="334.3" r="1.25"/><circle cx="655.6" cy="336.2" r="1.25"/><circle cx="655.6" cy="338.6" r="1.25"/><circle cx="657.7" cy="339.0" r="1.25"/><circle cx="656.0" cy="340.5" r="1.25"/><circle cx="654.2" cy="341.7" r="1.25"/><circle cx="657.4" cy="342.1" r="1.25"/><circle cx="652.1" cy="342.2" r="1.25"/><circle cx="659.5" cy="342.5" r="1.25"/><circle cx="650.0" cy="342.7" r="1.25"/><circle cx="661.6" cy="342.7" r="1.25"/><circle cx="655.6" cy="343.4" r="1.25"/><circle cx="653.5" cy="343.7" r="1.25"/><circle cx="657.7" cy="344.2" r="1.25"/><circle cx="655.6" cy="345.6" r="1.25"/><circle cx="653.5" cy="345.8" r="1.25"/><circle cx="658.1" cy="346.1" r="1.25"/><circle cx="651.4" cy="346.1" r="1.25"/><circle cx="660.1" cy="346.6" r="1.25"/><circle cx="649.6" cy="347.2" r="1.25"/><circle cx="655.6" cy="347.6" r="1.25"/><circle cx="657.7" cy="348.3" r="1.25"/><circle cx="653.5" cy="348.4" r="1.25"/><circle cx="659.8" cy="348.6" r="1.25"/><circle cx="651.4" cy="348.8" r="1.25"/><circle cx="661.9" cy="348.9" r="1.25"/><circle cx="649.3" cy="349.4" r="1.25"/><circle cx="655.6" cy="349.8" r="1.25"/><circle cx="663.6" cy="349.9" r="1.25"/><circle cx="647.2" cy="350.0" r="1.25"/><circle cx="665.8" cy="350.1" r="1.25"/><circle cx="657.7" cy="350.4" r="1.25"/><circle cx="653.5" cy="350.5" r="1.25"/><circle cx="660.5" cy="350.5" r="1.25"/><circle cx="645.1" cy="350.6" r="1.25"/><circle cx="651.4" cy="350.8" r="1.25"/><circle cx="667.4" cy="351.0" r="1.25"/><circle cx="643.8" cy="351.2" r="1.25"/><circle cx="667.4" cy="351.2" r="1.25"/><circle cx="667.4" cy="351.3" r="1.25"/><circle cx="667.4" cy="351.3" r="1.25"/><circle cx="649.3" cy="351.4" r="1.25"/><circle cx="662.2" cy="351.5" r="1.25"/><circle cx="655.6" cy="352.1" r="1.25"/><circle cx="657.7" cy="352.5" r="1.25"/><circle cx="653.5" cy="352.6" r="1.25"/><circle cx="659.8" cy="352.7" r="1.25"/><circle cx="651.1" cy="352.7" r="1.25"/><circle cx="647.6" cy="352.7" r="1.25"/><circle cx="663.3" cy="353.3" r="1.25"/><circle cx="665.4" cy="353.5" r="1.25"/><circle cx="649.3" cy="353.6" r="1.25"/><circle cx="656.3" cy="353.9" r="1.25"/><circle cx="645.8" cy="354.0" r="1.25"/><circle cx="652.5" cy="354.3" r="1.25"/><circle cx="661.2" cy="354.3" r="1.25"/><circle cx="658.4" cy="354.3" r="1.25"/><circle cx="667.1" cy="354.3" r="1.25"/><circle cx="643.8" cy="354.4" r="1.25"/><circle cx="667.4" cy="354.4" r="1.25"/><circle cx="667.4" cy="354.5" r="1.25"/><circle cx="667.4" cy="354.5" r="1.25"/><circle cx="667.4" cy="354.6" r="1.25"/><circle cx="667.4" cy="354.7" r="1.25"/><circle cx="654.6" cy="354.8" r="1.25"/><circle cx="647.6" cy="354.8" r="1.25"/><circle cx="667.4" cy="355.0" r="1.25"/><circle cx="643.8" cy="355.0" r="1.25"/><circle cx="667.4" cy="355.0" r="1.25"/><circle cx="667.4" cy="355.1" r="1.25"/><circle cx="650.7" cy="355.2" r="1.25"/><circle cx="664.0" cy="355.2" r="1.25"/><circle cx="667.4" cy="355.4" r="1.25"/><circle cx="667.4" cy="355.6" r="1.25"/><circle cx="667.4" cy="355.6" r="1.25"/><circle cx="643.8" cy="355.6" r="1.25"/><circle cx="659.8" cy="355.7" r="1.25"/><circle cx="657.0" cy="355.8" r="1.25"/><circle cx="667.4" cy="355.9" r="1.25"/><circle cx="645.8" cy="356.0" r="1.25"/><circle cx="661.9" cy="356.1" r="1.25"/><circle cx="667.4" cy="356.2" r="1.25"/><circle cx="667.4" cy="356.2" r="1.25"/><circle cx="653.1" cy="356.2" r="1.25"/><circle cx="649.0" cy="356.3" r="1.25"/><circle cx="643.8" cy="356.3" r="1.25"/><circle cx="667.4" cy="356.3" r="1.25"/><circle cx="667.4" cy="356.4" r="1.25"/><circle cx="667.4" cy="356.4" r="1.25"/><circle cx="667.4" cy="356.4" r="1.25"/><circle cx="665.4" cy="356.6" r="1.25"/><circle cx="667.4" cy="356.6" r="1.25"/><circle cx="655.2" cy="356.7" r="1.25"/><circle cx="643.8" cy="357.1" r="1.25"/><circle cx="658.4" cy="357.2" r="1.25"/><circle cx="651.4" cy="357.2" r="1.25"/><circle cx="667.4" cy="357.3" r="1.25"/><circle cx="667.4" cy="357.3" r="1.25"/><circle cx="647.2" cy="357.4" r="1.25"/><circle cx="660.5" cy="357.7" r="1.25"/><circle cx="663.0" cy="357.8" r="1.25"/><circle cx="643.8" cy="357.8" r="1.25"/><circle cx="667.4" cy="357.8" r="1.25"/><circle cx="667.4" cy="357.9" r="1.25"/><circle cx="667.4" cy="357.9" r="1.25"/><circle cx="656.6" cy="358.1" r="1.25"/><circle cx="653.9" cy="358.1" r="1.25"/><circle cx="649.6" cy="358.1" r="1.25"/><circle cx="667.4" cy="358.4" r="1.25"/><circle cx="643.8" cy="358.5" r="1.25"/><circle cx="665.1" cy="358.5" r="1.25"/><circle cx="667.4" cy="358.7" r="1.25"/><circle cx="667.4" cy="358.7" r="1.25"/><circle cx="667.4" cy="358.7" r="1.25"/><circle cx="667.4" cy="358.7" r="1.25"/><circle cx="667.4" cy="358.8" r="1.25"/><circle cx="645.8" cy="358.9" r="1.25"/><circle cx="667.4" cy="358.9" r="1.25"/><circle cx="667.4" cy="358.9" r="1.25"/><circle cx="667.4" cy="358.9" r="1.25"/><circle cx="667.4" cy="359.0" r="1.25"/><circle cx="667.4" cy="359.0" r="1.25"/><circle cx="658.8" cy="359.1" r="1.25"/><circle cx="652.1" cy="359.1" r="1.25"/><circle cx="643.8" cy="359.2" r="1.25"/><circle cx="667.4" cy="359.2" r="1.25"/><circle cx="647.9" cy="359.4" r="1.25"/><circle cx="655.2" cy="359.5" r="1.25"/><circle cx="661.6" cy="359.5" r="1.25"/><circle cx="667.4" cy="359.6" r="1.25"/><circle cx="667.4" cy="359.7" r="1.25"/><circle cx="667.4" cy="359.7" r="1.25"/><circle cx="667.4" cy="359.8" r="1.25"/><circle cx="643.8" cy="359.9" r="1.25"/><circle cx="657.0" cy="360.5" r="1.25"/><circle cx="653.5" cy="360.5" r="1.25"/><circle cx="650.7" cy="360.6" r="1.25"/><circle cx="663.3" cy="360.6" r="1.25"/><circle cx="665.4" cy="360.6" r="1.25"/><circle cx="667.4" cy="360.7" r="1.25"/><circle cx="643.8" cy="360.7" r="1.25"/><circle cx="646.5" cy="360.8" r="1.25"/><circle cx="667.4" cy="360.8" r="1.25"/><circle cx="659.8" cy="360.8" r="1.25"/><circle cx="667.4" cy="360.9" r="1.25"/><circle cx="667.4" cy="360.9" r="1.25"/><circle cx="667.4" cy="361.0" r="1.25"/><circle cx="667.4" cy="361.0" r="1.25"/><circle cx="667.4" cy="361.2" r="1.25"/><circle cx="648.6" cy="361.2" r="1.25"/><circle cx="667.4" cy="361.3" r="1.25"/><circle cx="667.4" cy="361.3" r="1.25"/><circle cx="667.4" cy="361.3" r="1.25"/><circle cx="643.8" cy="361.4" r="1.25"/><circle cx="655.2" cy="361.4" r="1.25"/><circle cx="667.4" cy="361.5" r="1.25"/><circle cx="652.1" cy="362.1" r="1.25"/><circle cx="657.7" cy="362.4" r="1.25"/><circle cx="660.1" cy="362.7" r="1.25"/><circle cx="650.0" cy="362.8" r="1.25"/><circle cx="662.2" cy="362.8" r="1.25"/><circle cx="653.9" cy="363.1" r="1.25"/><circle cx="647.9" cy="363.1" r="1.25"/><circle cx="664.4" cy="363.2" r="1.25"/><circle cx="656.0" cy="363.4" r="1.25"/><circle cx="645.8" cy="363.5" r="1.25"/><circle cx="666.5" cy="363.5" r="1.25"/><circle cx="643.8" cy="363.5" r="1.25"/><circle cx="667.4" cy="363.7" r="1.25"/><circle cx="667.4" cy="363.7" r="1.25"/><circle cx="667.4" cy="363.8" r="1.25"/><circle cx="667.4" cy="363.8" r="1.25"/><circle cx="667.4" cy="364.0" r="1.25"/><circle cx="667.4" cy="364.0" r="1.25"/><circle cx="651.8" cy="364.1" r="1.25"/><circle cx="658.4" cy="364.2" r="1.25"/><circle cx="643.8" cy="364.3" r="1.25"/><circle cx="667.4" cy="364.3" r="1.25"/><circle cx="667.4" cy="364.4" r="1.25"/><circle cx="661.2" cy="364.5" r="1.25"/><circle cx="667.4" cy="364.5" r="1.25"/><circle cx="649.6" cy="364.7" r="1.25"/><circle cx="667.4" cy="364.8" r="1.25"/><circle cx="654.6" cy="365.0" r="1.25"/><circle cx="663.3" cy="365.1" r="1.25"/><circle cx="647.6" cy="365.1" r="1.25"/><circle cx="643.8" cy="365.1" r="1.25"/><circle cx="656.6" cy="365.3" r="1.25"/><circle cx="665.4" cy="365.5" r="1.25"/><circle cx="667.4" cy="365.6" r="1.25"/><circle cx="667.4" cy="365.6" r="1.25"/><circle cx="643.8" cy="365.8" r="1.25"/><circle cx="667.4" cy="365.8" r="1.25"/><circle cx="652.8" cy="365.9" r="1.25"/><circle cx="659.1" cy="366.1" r="1.25"/><circle cx="650.7" cy="366.6" r="1.25"/><circle cx="661.2" cy="366.6" r="1.25"/><circle cx="646.1" cy="366.7" r="1.25"/><circle cx="655.6" cy="367.9" r="1.25"/><circle cx="657.7" cy="368.1" r="1.25"/><circle cx="654.2" cy="369.4" r="1.25"/><circle cx="655.6" cy="370.9" r="1.25"/><circle cx="657.7" cy="371.0" r="1.25"/><circle cx="654.2" cy="372.5" r="1.25"/><circle cx="656.3" cy="372.8" r="1.25"/><circle cx="658.4" cy="373.6" r="1.25"/><circle cx="655.6" cy="374.6" r="1.25"/><circle cx="653.5" cy="374.9" r="1.25"/><circle cx="655.6" cy="377.2" r="1.25"/><circle cx="657.7" cy="377.5" r="1.25"/><circle cx="655.6" cy="379.6" r="1.25"/><circle cx="657.4" cy="380.8" r="1.25"/><circle cx="655.2" cy="381.6" r="1.25"/><circle cx="653.1" cy="381.6" r="1.25"/><circle cx="655.6" cy="384.3" r="1.25"/><circle cx="657.7" cy="385.0" r="1.25"/><circle cx="655.6" cy="388.5" r="1.25"/><circle cx="657.7" cy="388.6" r="1.25"/><circle cx="655.6" cy="391.2" r="1.25"/><circle cx="655.6" cy="397.6" r="1.25"/></g>
<rect x="644.0" y="351.3" width="23.2" height="14.1" fill="none" stroke="#333333" stroke-width="1" stroke-opacity="0.75"/>
<line x1="644.0" y1="357.8" x2="667.2" y2="357.8" stroke="#333333" stroke-width="1.4" stroke-opacity="0.6"/>
<rect x="578.5" y="281.3" width="94.20000000000005" height="141.8" fill="none" stroke="#333333" stroke-width="1"/>
<line x1="575.3" y1="414.2" x2="578.5" y2="414.2" stroke="#333333" stroke-width="1"/>
<text x="572.3" y="417.8" font-size="10" fill="#4d4d4d" text-anchor="end">0.4</text>
<line x1="575.3" y1="384.8" x2="578.5" y2="384.8" stroke="#333333" stroke-width="1"/>
<text x="572.3" y="388.4" font-size="10" fill="#4d4d4d" text-anchor="end">0.5</text>
<line x1="575.3" y1="355.4" x2="578.5" y2="355.4" stroke="#333333" stroke-width="1"/>
<text x="572.3" y="359.0" font-size="10" fill="#4d4d4d" text-anchor="end">0.6</text>
<line x1="575.3" y1="326.0" x2="578.5" y2="326.0" stroke="#333333" stroke-width="1"/>
<text x="572.3" y="329.6" font-size="10" fill="#4d4d4d" text-anchor="end">0.7</text>
<line x1="575.3" y1="296.6" x2="578.5" y2="296.6" stroke="#333333" stroke-width="1"/>
<text x="572.3" y="300.2" font-size="10" fill="#4d4d4d" text-anchor="end">0.8</text>
<line x1="596.4" y1="423.1" x2="596.4" y2="426.3" stroke="#333333" stroke-width="1"/>
<line x1="626.0" y1="423.1" x2="626.0" y2="426.3" stroke="#333333" stroke-width="1"/>
<line x1="655.6" y1="423.1" x2="655.6" y2="426.3" stroke="#333333" stroke-width="1"/>
<path d="M626.0,295.8 V292.8 H655.6 V295.8" fill="none" stroke="#333333" stroke-width="0.9"/>
<text x="640.8" y="291.6" font-size="7.3" fill="#000" text-anchor="middle">0.3</text>
<path d="M596.4,309.1 V306.1 H655.6 V309.1" fill="none" stroke="#333333" stroke-width="0.9"/>
<text x="626.0" y="304.9" font-size="7.3" fill="#000" text-anchor="middle">9.2e−07</text>
<path d="M596.4,321.9 V318.9 H626.0 V321.9" fill="none" stroke="#333333" stroke-width="0.9"/>
<text x="611.2" y="317.7" font-size="7.3" fill="#000" text-anchor="middle">2.2e−16</text>
<text x="0.0" y="0.0" font-size="12.5" fill="#000" text-anchor="middle" transform="translate(553.0,360.7) rotate(-90)">mean ß in breast tissue</text>
<line x1="241.6" y1="907.4" x2="335.7" y2="907.4" stroke="#f4f4f4" stroke-width="0.6"/>
<line x1="241.6" y1="894.6" x2="335.7" y2="894.6" stroke="#ebebeb" stroke-width="0.9"/>
<line x1="241.6" y1="881.8" x2="335.7" y2="881.8" stroke="#f4f4f4" stroke-width="0.6"/>
<line x1="241.6" y1="869.0" x2="335.7" y2="869.0" stroke="#ebebeb" stroke-width="0.9"/>
<line x1="241.6" y1="856.2" x2="335.7" y2="856.2" stroke="#f4f4f4" stroke-width="0.6"/>
<line x1="241.6" y1="843.4" x2="335.7" y2="843.4" stroke="#ebebeb" stroke-width="0.9"/>
<line x1="241.6" y1="830.6" x2="335.7" y2="830.6" stroke="#f4f4f4" stroke-width="0.6"/>
<line x1="241.6" y1="817.8" x2="335.7" y2="817.8" stroke="#ebebeb" stroke-width="0.9"/>
<line x1="241.6" y1="805.0" x2="335.7" y2="805.0" stroke="#f4f4f4" stroke-width="0.6"/>
<line x1="241.6" y1="792.2" x2="335.7" y2="792.2" stroke="#ebebeb" stroke-width="0.9"/>
<line x1="241.6" y1="779.4" x2="335.7" y2="779.4" stroke="#f4f4f4" stroke-width="0.6"/>
<line x1="259.0" y1="772.9" x2="259.0" y2="913.8" stroke="#ebebeb" stroke-width="0.9"/>
<line x1="288.8" y1="772.9" x2="288.8" y2="913.8" stroke="#ebebeb" stroke-width="0.9"/>
<line x1="318.3" y1="772.9" x2="318.3" y2="913.8" stroke="#ebebeb" stroke-width="0.9"/>
<line x1="259.0" y1="808.8" x2="259.0" y2="828.0" stroke="#333333" stroke-width="0.8"/>
<rect x="247.4" y="814.6" width="23.2" height="6.3" fill="#c9e8f5" stroke="#333333" stroke-width="1"/>
<line x1="247.4" y1="817.8" x2="270.6" y2="817.8" stroke="#333333" stroke-width="1.4"/>
<g fill="#0a9ed8" fill-opacity="0.95"><circle cx="259.0" cy="810.0" r="1.25"/><circle cx="260.4" cy="811.5" r="1.25"/><circle cx="257.9" cy="811.8" r="1.25"/><circle cx="255.8" cy="812.2" r="1.25"/><circle cx="262.1" cy="812.4" r="1.25"/><circle cx="264.2" cy="812.6" r="1.25"/><circle cx="253.8" cy="812.8" r="1.25"/><circle cx="266.4" cy="813.1" r="1.25"/><circle cx="259.0" cy="813.6" r="1.25"/><circle cx="251.7" cy="813.6" r="1.25"/><circle cx="268.4" cy="813.6" r="1.25"/><circle cx="249.6" cy="813.7" r="1.25"/><circle cx="256.9" cy="813.8" r="1.25"/><circle cx="261.1" cy="814.3" r="1.25"/><circle cx="263.2" cy="814.4" r="1.25"/><circle cx="270.6" cy="814.4" r="1.25"/><circle cx="254.8" cy="814.5" r="1.25"/><circle cx="247.8" cy="814.6" r="1.25"/><circle cx="265.3" cy="814.8" r="1.25"/><circle cx="247.2" cy="814.9" r="1.25"/><circle cx="270.8" cy="815.0" r="1.25"/><circle cx="270.8" cy="815.0" r="1.25"/><circle cx="270.8" cy="815.1" r="1.25"/><circle cx="270.8" cy="815.2" r="1.25"/><circle cx="270.8" cy="815.2" r="1.25"/><circle cx="270.8" cy="815.2" r="1.25"/><circle cx="270.8" cy="815.2" r="1.25"/><circle cx="252.7" cy="815.3" r="1.25"/><circle cx="267.4" cy="815.4" r="1.25"/><circle cx="259.0" cy="815.6" r="1.25"/><circle cx="250.6" cy="815.6" r="1.25"/><circle cx="247.2" cy="815.6" r="1.25"/><circle cx="270.8" cy="815.6" r="1.25"/><circle cx="270.8" cy="815.7" r="1.25"/><circle cx="270.8" cy="815.7" r="1.25"/><circle cx="270.8" cy="815.7" r="1.25"/><circle cx="270.8" cy="815.7" r="1.25"/><circle cx="270.8" cy="815.7" r="1.25"/><circle cx="256.9" cy="815.8" r="1.25"/><circle cx="270.8" cy="815.8" r="1.25"/><circle cx="270.8" cy="815.8" r="1.25"/><circle cx="270.8" cy="815.9" r="1.25"/><circle cx="270.8" cy="815.9" r="1.25"/><circle cx="270.8" cy="815.9" r="1.25"/><circle cx="270.8" cy="816.0" r="1.25"/><circle cx="270.8" cy="816.0" r="1.25"/><circle cx="262.1" cy="816.1" r="1.25"/><circle cx="270.8" cy="816.1" r="1.25"/><circle cx="270.8" cy="816.1" r="1.25"/><circle cx="247.2" cy="816.2" r="1.25"/><circle cx="270.8" cy="816.3" r="1.25"/><circle cx="270.8" cy="816.4" r="1.25"/><circle cx="270.8" cy="816.4" r="1.25"/><circle cx="270.8" cy="816.4" r="1.25"/><circle cx="270.8" cy="816.4" r="1.25"/><circle cx="270.8" cy="816.4" r="1.25"/><circle cx="254.4" cy="816.4" r="1.25"/><circle cx="264.2" cy="816.5" r="1.25"/><circle cx="270.8" cy="816.5" r="1.25"/><circle cx="270.8" cy="816.5" r="1.25"/><circle cx="270.8" cy="816.6" r="1.25"/><circle cx="270.8" cy="816.6" r="1.25"/><circle cx="270.8" cy="816.6" r="1.25"/><circle cx="270.8" cy="816.6" r="1.25"/><circle cx="270.8" cy="816.7" r="1.25"/><circle cx="270.8" cy="816.7" r="1.25"/><circle cx="270.8" cy="816.7" r="1.25"/><circle cx="268.8" cy="816.7" r="1.25"/><circle cx="270.8" cy="816.8" r="1.25"/><circle cx="270.8" cy="816.8" r="1.25"/><circle cx="270.8" cy="816.8" r="1.25"/><circle cx="247.2" cy="816.8" r="1.25"/><circle cx="270.8" cy="816.8" r="1.25"/><circle cx="270.8" cy="816.8" r="1.25"/><circle cx="270.8" cy="816.8" r="1.25"/><circle cx="270.8" cy="816.9" r="1.25"/><circle cx="270.8" cy="816.9" r="1.25"/><circle cx="270.8" cy="816.9" r="1.25"/><circle cx="270.8" cy="816.9" r="1.25"/><circle cx="260.4" cy="816.9" r="1.25"/><circle cx="249.2" cy="817.0" r="1.25"/><circle cx="270.8" cy="817.0" r="1.25"/><circle cx="270.8" cy="817.0" r="1.25"/><circle cx="266.4" cy="817.0" r="1.25"/><circle cx="270.8" cy="817.0" r="1.25"/><circle cx="270.8" cy="817.1" r="1.25"/><circle cx="270.8" cy="817.1" r="1.25"/><circle cx="252.0" cy="817.1" r="1.25"/><circle cx="270.8" cy="817.2" r="1.25"/><circle cx="270.8" cy="817.2" r="1.25"/><circle cx="270.8" cy="817.2" r="1.25"/><circle cx="270.8" cy="817.2" r="1.25"/><circle cx="270.8" cy="817.3" r="1.25"/><circle cx="270.8" cy="817.3" r="1.25"/><circle cx="270.8" cy="817.3" r="1.25"/><circle cx="270.8" cy="817.3" r="1.25"/><circle cx="258.3" cy="817.4" r="1.25"/><circle cx="247.2" cy="817.5" r="1.25"/><circle cx="270.8" cy="817.5" r="1.25"/><circle cx="270.8" cy="817.5" r="1.25"/><circle cx="270.8" cy="817.6" r="1.25"/><circle cx="270.8" cy="817.6" r="1.25"/><circle cx="270.8" cy="817.6" r="1.25"/><circle cx="256.2" cy="817.7" r="1.25"/><circle cx="270.8" cy="817.7" r="1.25"/><circle cx="270.8" cy="817.7" r="1.25"/><circle cx="270.8" cy="817.7" r="1.25"/><circle cx="270.8" cy="817.7" r="1.25"/><circle cx="270.8" cy="817.7" r="1.25"/><circle cx="270.8" cy="817.8" r="1.25"/><circle cx="270.8" cy="817.8" r="1.25"/><circle cx="270.8" cy="817.8" r="1.25"/><circle cx="270.8" cy="817.8" r="1.25"/><circle cx="270.8" cy="817.8" r="1.25"/><circle cx="270.8" cy="817.8" r="1.25"/><circle cx="270.8" cy="817.8" r="1.25"/><circle cx="270.8" cy="817.9" r="1.25"/><circle cx="270.8" cy="817.9" r="1.25"/><circle cx="270.8" cy="817.9" r="1.25"/><circle cx="270.8" cy="817.9" r="1.25"/><circle cx="270.8" cy="817.9" r="1.25"/><circle cx="270.8" cy="817.9" r="1.25"/><circle cx="262.9" cy="817.9" r="1.25"/><circle cx="270.8" cy="817.9" r="1.25"/><circle cx="270.8" cy="817.9" r="1.25"/><circle cx="270.8" cy="817.9" r="1.25"/><circle cx="270.8" cy="817.9" r="1.25"/><circle cx="270.8" cy="818.0" r="1.25"/><circle cx="270.8" cy="818.0" r="1.25"/><circle cx="270.8" cy="818.0" r="1.25"/><circle cx="270.8" cy="818.0" r="1.25"/><circle cx="270.8" cy="818.0" r="1.25"/><circle cx="270.8" cy="818.0" r="1.25"/><circle cx="270.8" cy="818.0" r="1.25"/><circle cx="247.2" cy="818.1" r="1.25"/><circle cx="270.8" cy="818.1" r="1.25"/><circle cx="270.8" cy="818.1" r="1.25"/><circle cx="270.8" cy="818.1" r="1.25"/><circle cx="270.8" cy="818.1" r="1.25"/><circle cx="270.8" cy="818.1" r="1.25"/><circle cx="270.8" cy="818.2" r="1.25"/><circle cx="270.8" cy="818.2" r="1.25"/><circle cx="270.8" cy="818.2" r="1.25"/><circle cx="270.8" cy="818.2" r="1.25"/><circle cx="253.8" cy="818.3" r="1.25"/><circle cx="270.8" cy="818.3" r="1.25"/><circle cx="270.8" cy="818.3" r="1.25"/><circle cx="270.8" cy="818.3" r="1.25"/><circle cx="270.8" cy="818.3" r="1.25"/><circle cx="270.8" cy="818.3" r="1.25"/><circle cx="270.8" cy="818.3" r="1.25"/><circle cx="270.8" cy="818.4" r="1.25"/><circle cx="270.8" cy="818.4" r="1.25"/><circle cx="264.9" cy="818.4" r="1.25"/><circle cx="267.8" cy="818.4" r="1.25"/><circle cx="270.8" cy="818.4" r="1.25"/><circle cx="270.8" cy="818.4" r="1.25"/><circle cx="270.8" cy="818.4" r="1.25"/><circle cx="270.8" cy="818.5" r="1.25"/><circle cx="270.8" cy="818.5" r="1.25"/><circle cx="250.6" cy="818.5" r="1.25"/><circle cx="270.8" cy="818.5" r="1.25"/><circle cx="270.8" cy="818.5" r="1.25"/><circle cx="270.8" cy="818.5" r="1.25"/><circle cx="270.8" cy="818.5" r="1.25"/><circle cx="270.8" cy="818.6" r="1.25"/><circle cx="270.8" cy="818.6" r="1.25"/><circle cx="270.8" cy="818.6" r="1.25"/><circle cx="270.8" cy="818.6" r="1.25"/><circle cx="270.8" cy="818.6" r="1.25"/><circle cx="247.2" cy="818.7" r="1.25"/><circle cx="270.8" cy="818.7" r="1.25"/><circle cx="270.8" cy="818.7" r="1.25"/><circle cx="270.8" cy="818.8" r="1.25"/><circle cx="261.1" cy="818.8" r="1.25"/><circle cx="270.8" cy="818.8" r="1.25"/><circle cx="270.8" cy="818.8" r="1.25"/><circle cx="270.8" cy="818.8" r="1.25"/><circle cx="270.8" cy="818.8" r="1.25"/><circle cx="270.8" cy="818.9" r="1.25"/><circle cx="270.8" cy="818.9" r="1.25"/><circle cx="270.8" cy="819.0" r="1.25"/><circle cx="270.8" cy="819.1" r="1.25"/><circle cx="270.8" cy="819.1" r="1.25"/><circle cx="270.8" cy="819.1" r="1.25"/><circle cx="270.8" cy="819.1" r="1.25"/><circle cx="270.8" cy="819.2" r="1.25"/><circle cx="259.0" cy="819.2" r="1.25"/><circle cx="247.2" cy="819.5" r="1.25"/><circle cx="270.8" cy="819.5" r="1.25"/><circle cx="270.8" cy="819.5" r="1.25"/><circle cx="256.9" cy="819.5" r="1.25"/><circle cx="270.8" cy="819.5" r="1.25"/><circle cx="270.8" cy="819.5" r="1.25"/><circle cx="270.8" cy="819.6" r="1.25"/><circle cx="270.8" cy="819.6" r="1.25"/><circle cx="252.3" cy="819.6" r="1.25"/><circle cx="270.8" cy="819.7" r="1.25"/><circle cx="270.8" cy="819.7" r="1.25"/><circle cx="270.8" cy="819.7" r="1.25"/><circle cx="263.6" cy="819.8" r="1.25"/><circle cx="266.4" cy="819.8" r="1.25"/><circle cx="270.8" cy="819.8" r="1.25"/><circle cx="249.2" cy="819.9" r="1.25"/><circle cx="254.8" cy="819.9" r="1.25"/><circle cx="270.8" cy="820.0" r="1.25"/><circle cx="268.8" cy="820.1" r="1.25"/><circle cx="247.2" cy="820.2" r="1.25"/><circle cx="270.8" cy="820.3" r="1.25"/><circle cx="270.8" cy="820.3" r="1.25"/><circle cx="270.8" cy="820.3" r="1.25"/><circle cx="270.8" cy="820.3" r="1.25"/><circle cx="270.8" cy="820.4" r="1.25"/><circle cx="270.8" cy="820.4" r="1.25"/><circle cx="260.4" cy="820.7" r="1.25"/><circle cx="247.2" cy="821.0" r="1.25"/><circle cx="270.8" cy="821.0" r="1.25"/><circle cx="250.9" cy="821.0" r="1.25"/><circle cx="270.8" cy="821.0" r="1.25"/><circle cx="270.8" cy="821.1" r="1.25"/><circle cx="258.3" cy="821.1" r="1.25"/><circle cx="256.2" cy="821.4" r="1.25"/><circle cx="262.1" cy="821.8" r="1.25"/><circle cx="254.1" cy="821.8" r="1.25"/><circle cx="264.2" cy="822.3" r="1.25"/><circle cx="259.7" cy="822.6" r="1.25"/><circle cx="266.4" cy="822.6" r="1.25"/><circle cx="257.6" cy="823.2" r="1.25"/><circle cx="261.4" cy="823.6" r="1.25"/><circle cx="259.0" cy="826.5" r="1.25"/><circle cx="259.0" cy="830.8" r="1.25"/></g>
<line x1="288.8" y1="810.1" x2="288.8" y2="834.4" stroke="#333333" stroke-width="0.8"/>
<rect x="277.2" y="818.3" width="23.2" height="7.4" fill="#f9dfc6" stroke="#333333" stroke-width="1"/>
<line x1="277.2" y1="821.4" x2="300.4" y2="821.4" stroke="#333333" stroke-width="1.4"/>
<g fill="#e69a48" fill-opacity="0.8"><circle cx="288.8" cy="811.1" r="1.25"/><circle cx="288.8" cy="814.0" r="1.25"/><circle cx="290.6" cy="815.3" r="1.25"/><circle cx="287.8" cy="815.7" r="1.25"/><circle cx="285.7" cy="815.7" r="1.25"/><circle cx="292.7" cy="815.9" r="1.25"/><circle cx="283.6" cy="815.9" r="1.25"/><circle cx="294.8" cy="816.3" r="1.25"/><circle cx="281.4" cy="816.3" r="1.25"/><circle cx="296.9" cy="816.4" r="1.25"/><circle cx="279.4" cy="816.4" r="1.25"/><circle cx="298.9" cy="816.5" r="1.25"/><circle cx="277.2" cy="816.9" r="1.25"/><circle cx="289.5" cy="817.0" r="1.25"/><circle cx="300.6" cy="817.2" r="1.25"/><circle cx="277.0" cy="817.2" r="1.25"/><circle cx="300.6" cy="817.3" r="1.25"/><circle cx="300.6" cy="817.3" r="1.25"/><circle cx="286.7" cy="817.5" r="1.25"/><circle cx="291.6" cy="817.7" r="1.25"/><circle cx="284.6" cy="817.8" r="1.25"/><circle cx="277.0" cy="817.8" r="1.25"/><circle cx="300.6" cy="818.0" r="1.25"/><circle cx="293.7" cy="818.0" r="1.25"/><circle cx="282.5" cy="818.2" r="1.25"/><circle cx="295.8" cy="818.2" r="1.25"/><circle cx="280.4" cy="818.3" r="1.25"/><circle cx="297.9" cy="818.3" r="1.25"/><circle cx="277.0" cy="818.5" r="1.25"/><circle cx="288.4" cy="818.8" r="1.25"/><circle cx="300.6" cy="818.9" r="1.25"/><circle cx="300.6" cy="819.0" r="1.25"/><circle cx="277.0" cy="819.2" r="1.25"/><circle cx="300.6" cy="819.2" r="1.25"/><circle cx="300.6" cy="819.2" r="1.25"/><circle cx="300.6" cy="819.2" r="1.25"/><circle cx="300.6" cy="819.2" r="1.25"/><circle cx="290.6" cy="819.5" r="1.25"/><circle cx="286.4" cy="819.5" r="1.25"/><circle cx="292.7" cy="819.7" r="1.25"/><circle cx="284.2" cy="819.7" r="1.25"/><circle cx="279.0" cy="819.8" r="1.25"/><circle cx="277.0" cy="819.8" r="1.25"/><circle cx="294.8" cy="820.0" r="1.25"/><circle cx="282.2" cy="820.2" r="1.25"/><circle cx="296.9" cy="820.2" r="1.25"/><circle cx="300.6" cy="820.2" r="1.25"/><circle cx="300.6" cy="820.2" r="1.25"/><circle cx="300.6" cy="820.3" r="1.25"/><circle cx="300.6" cy="820.4" r="1.25"/><circle cx="277.0" cy="820.5" r="1.25"/><circle cx="300.6" cy="820.5" r="1.25"/><circle cx="300.6" cy="820.6" r="1.25"/><circle cx="300.6" cy="820.6" r="1.25"/><circle cx="300.6" cy="820.7" r="1.25"/><circle cx="288.8" cy="820.8" r="1.25"/><circle cx="300.6" cy="820.8" r="1.25"/><circle cx="300.6" cy="820.8" r="1.25"/><circle cx="300.6" cy="820.9" r="1.25"/><circle cx="300.6" cy="820.9" r="1.25"/><circle cx="300.6" cy="821.0" r="1.25"/><circle cx="300.6" cy="821.0" r="1.25"/><circle cx="300.6" cy="821.0" r="1.25"/><circle cx="298.6" cy="821.1" r="1.25"/><circle cx="280.4" cy="821.2" r="1.25"/><circle cx="277.0" cy="821.3" r="1.25"/><circle cx="300.6" cy="821.3" r="1.25"/><circle cx="290.9" cy="821.4" r="1.25"/><circle cx="286.7" cy="821.5" r="1.25"/><circle cx="293.0" cy="821.7" r="1.25"/><circle cx="284.6" cy="821.7" r="1.25"/><circle cx="300.6" cy="821.7" r="1.25"/><circle cx="300.6" cy="821.8" r="1.25"/><circle cx="295.4" cy="821.9" r="1.25"/><circle cx="277.0" cy="821.9" r="1.25"/><circle cx="300.6" cy="821.9" r="1.25"/><circle cx="300.6" cy="822.0" r="1.25"/><circle cx="300.6" cy="822.1" r="1.25"/><circle cx="282.5" cy="822.2" r="1.25"/><circle cx="300.6" cy="822.3" r="1.25"/><circle cx="300.6" cy="822.3" r="1.25"/><circle cx="300.6" cy="822.3" r="1.25"/><circle cx="300.6" cy="822.4" r="1.25"/><circle cx="300.6" cy="822.4" r="1.25"/><circle cx="277.0" cy="822.6" r="1.25"/><circle cx="300.6" cy="822.6" r="1.25"/><circle cx="279.0" cy="822.7" r="1.25"/><circle cx="300.6" cy="822.7" r="1.25"/><circle cx="288.8" cy="822.8" r="1.25"/><circle cx="297.2" cy="822.8" r="1.25"/><circle cx="300.6" cy="822.9" r="1.25"/><circle cx="300.6" cy="822.9" r="1.25"/><circle cx="300.6" cy="823.0" r="1.25"/><circle cx="300.6" cy="823.1" r="1.25"/><circle cx="300.6" cy="823.2" r="1.25"/><circle cx="291.6" cy="823.3" r="1.25"/><circle cx="286.0" cy="823.3" r="1.25"/><circle cx="294.1" cy="823.4" r="1.25"/><circle cx="277.0" cy="823.4" r="1.25"/><circle cx="283.9" cy="823.7" r="1.25"/><circle cx="281.1" cy="823.7" r="1.25"/><circle cx="300.6" cy="823.7" r="1.25"/><circle cx="300.6" cy="823.7" r="1.25"/><circle cx="300.6" cy="823.9" r="1.25"/><circle cx="300.6" cy="823.9" r="1.25"/><circle cx="277.0" cy="824.1" r="1.25"/><circle cx="300.6" cy="824.1" r="1.25"/><circle cx="300.6" cy="824.1" r="1.25"/><circle cx="300.6" cy="824.2" r="1.25"/><circle cx="298.6" cy="824.2" r="1.25"/><circle cx="295.8" cy="824.3" r="1.25"/><circle cx="300.6" cy="824.3" r="1.25"/><circle cx="289.9" cy="824.5" r="1.25"/><circle cx="287.8" cy="824.6" r="1.25"/><circle cx="279.4" cy="824.9" r="1.25"/><circle cx="277.0" cy="824.9" r="1.25"/><circle cx="292.7" cy="825.0" r="1.25"/><circle cx="300.6" cy="825.0" r="1.25"/><circle cx="285.3" cy="825.2" r="1.25"/><circle cx="282.5" cy="825.2" r="1.25"/><circle cx="300.6" cy="825.2" r="1.25"/><circle cx="277.0" cy="825.6" r="1.25"/><circle cx="294.4" cy="826.0" r="1.25"/><circle cx="288.8" cy="826.3" r="1.25"/><circle cx="290.9" cy="826.5" r="1.25"/><circle cx="286.7" cy="826.7" r="1.25"/><circle cx="283.9" cy="826.8" r="1.25"/><circle cx="292.7" cy="827.4" r="1.25"/><circle cx="295.8" cy="827.4" r="1.25"/><circle cx="281.8" cy="827.4" r="1.25"/><circle cx="297.9" cy="827.5" r="1.25"/><circle cx="289.2" cy="828.2" r="1.25"/><circle cx="285.3" cy="828.3" r="1.25"/><circle cx="280.1" cy="828.3" r="1.25"/><circle cx="299.7" cy="828.6" r="1.25"/><circle cx="277.9" cy="828.7" r="1.25"/><circle cx="300.6" cy="828.8" r="1.25"/><circle cx="288.8" cy="832.1" r="1.25"/><circle cx="290.9" cy="832.4" r="1.25"/><circle cx="288.8" cy="836.4" r="1.25"/><circle cx="288.8" cy="854.9" r="1.25"/><circle cx="288.8" cy="907.9" r="1.25"/></g>
<rect x="277.2" y="818.3" width="23.2" height="7.4" fill="none" stroke="#333333" stroke-width="1" stroke-opacity="0.75"/>
<line x1="277.2" y1="821.4" x2="300.4" y2="821.4" stroke="#333333" stroke-width="1.4" stroke-opacity="0.6"/>
<line x1="318.3" y1="807.6" x2="318.3" y2="846.0" stroke="#333333" stroke-width="0.8"/>
<rect x="306.7" y="819.1" width="23.2" height="11.5" fill="#f1cfcf" stroke="#333333" stroke-width="1"/>
<line x1="306.7" y1="821.9" x2="329.9" y2="821.9" stroke="#333333" stroke-width="1.4"/>
<g fill="#bd5152" fill-opacity="0.72"><circle cx="318.3" cy="797.5" r="1.25"/><circle cx="318.3" cy="800.5" r="1.25"/><circle cx="320.4" cy="801.2" r="1.25"/><circle cx="317.6" cy="802.4" r="1.25"/><circle cx="319.4" cy="803.4" r="1.25"/><circle cx="317.6" cy="804.3" r="1.25"/><circle cx="319.4" cy="805.6" r="1.25"/><circle cx="316.6" cy="806.0" r="1.25"/><circle cx="318.3" cy="807.7" r="1.25"/><circle cx="320.4" cy="808.2" r="1.25"/><circle cx="316.2" cy="808.3" r="1.25"/><circle cx="322.5" cy="808.8" r="1.25"/><circle cx="314.4" cy="809.3" r="1.25"/><circle cx="318.3" cy="810.4" r="1.25"/><circle cx="320.4" cy="810.5" r="1.25"/><circle cx="316.9" cy="811.9" r="1.25"/><circle cx="319.4" cy="812.1" r="1.25"/><circle cx="321.4" cy="812.6" r="1.25"/><circle cx="315.2" cy="812.8" r="1.25"/><circle cx="323.6" cy="813.0" r="1.25"/><circle cx="313.1" cy="813.4" r="1.25"/><circle cx="317.9" cy="813.6" r="1.25"/><circle cx="320.1" cy="814.1" r="1.25"/><circle cx="325.3" cy="814.2" r="1.25"/><circle cx="316.6" cy="815.2" r="1.25"/><circle cx="318.3" cy="816.1" r="1.25"/><circle cx="320.4" cy="816.6" r="1.25"/><circle cx="315.5" cy="817.0" r="1.25"/><circle cx="322.5" cy="817.1" r="1.25"/><circle cx="313.4" cy="817.3" r="1.25"/><circle cx="324.6" cy="817.4" r="1.25"/><circle cx="311.3" cy="817.5" r="1.25"/><circle cx="326.7" cy="817.6" r="1.25"/><circle cx="309.2" cy="817.7" r="1.25"/><circle cx="328.8" cy="817.8" r="1.25"/><circle cx="317.6" cy="817.9" r="1.25"/><circle cx="307.1" cy="818.0" r="1.25"/><circle cx="330.1" cy="818.0" r="1.25"/><circle cx="306.5" cy="818.0" r="1.25"/><circle cx="330.1" cy="818.1" r="1.25"/><circle cx="330.1" cy="818.1" r="1.25"/><circle cx="330.1" cy="818.1" r="1.25"/><circle cx="330.1" cy="818.2" r="1.25"/><circle cx="330.1" cy="818.2" r="1.25"/><circle cx="319.7" cy="818.4" r="1.25"/><circle cx="330.1" cy="818.5" r="1.25"/><circle cx="330.1" cy="818.5" r="1.25"/><circle cx="330.1" cy="818.5" r="1.25"/><circle cx="330.1" cy="818.5" r="1.25"/><circle cx="330.1" cy="818.6" r="1.25"/><circle cx="306.5" cy="818.7" r="1.25"/><circle cx="315.9" cy="818.9" r="1.25"/><circle cx="321.8" cy="819.0" r="1.25"/><circle cx="330.1" cy="819.1" r="1.25"/><circle cx="312.7" cy="819.1" r="1.25"/><circle cx="330.1" cy="819.2" r="1.25"/><circle cx="323.9" cy="819.3" r="1.25"/><circle cx="326.0" cy="819.4" r="1.25"/><circle cx="310.6" cy="819.4" r="1.25"/><circle cx="306.5" cy="819.5" r="1.25"/><circle cx="328.1" cy="819.6" r="1.25"/><circle cx="318.3" cy="820.1" r="1.25"/><circle cx="308.5" cy="820.1" r="1.25"/><circle cx="330.1" cy="820.2" r="1.25"/><circle cx="306.5" cy="820.2" r="1.25"/><circle cx="330.1" cy="820.2" r="1.25"/><circle cx="320.4" cy="820.4" r="1.25"/><circle cx="314.4" cy="820.4" r="1.25"/><circle cx="330.1" cy="820.6" r="1.25"/><circle cx="322.5" cy="820.9" r="1.25"/><circle cx="306.5" cy="820.9" r="1.25"/><circle cx="330.1" cy="821.0" r="1.25"/><circle cx="316.6" cy="821.0" r="1.25"/><circle cx="312.4" cy="821.2" r="1.25"/><circle cx="324.6" cy="821.3" r="1.25"/><circle cx="326.7" cy="821.3" r="1.25"/><circle cx="330.1" cy="821.3" r="1.25"/><circle cx="330.1" cy="821.3" r="1.25"/><circle cx="310.2" cy="821.4" r="1.25"/><circle cx="330.1" cy="821.4" r="1.25"/><circle cx="330.1" cy="821.4" r="1.25"/><circle cx="330.1" cy="821.5" r="1.25"/><circle cx="330.1" cy="821.5" r="1.25"/><circle cx="306.5" cy="821.6" r="1.25"/><circle cx="330.1" cy="821.6" r="1.25"/><circle cx="330.1" cy="821.9" r="1.25"/><circle cx="330.1" cy="821.9" r="1.25"/><circle cx="319.0" cy="822.0" r="1.25"/><circle cx="330.1" cy="822.0" r="1.25"/><circle cx="330.1" cy="822.0" r="1.25"/><circle cx="330.1" cy="822.0" r="1.25"/><circle cx="330.1" cy="822.1" r="1.25"/><circle cx="330.1" cy="822.1" r="1.25"/><circle cx="330.1" cy="822.2" r="1.25"/><circle cx="330.1" cy="822.2" r="1.25"/><circle cx="306.5" cy="822.2" r="1.25"/><circle cx="321.1" cy="822.3" r="1.25"/><circle cx="315.2" cy="822.5" r="1.25"/><circle cx="308.5" cy="822.5" r="1.25"/><circle cx="330.1" cy="822.5" r="1.25"/><circle cx="330.1" cy="822.5" r="1.25"/><circle cx="330.1" cy="822.6" r="1.25"/><circle cx="330.1" cy="822.6" r="1.25"/><circle cx="323.2" cy="822.7" r="1.25"/><circle cx="328.1" cy="822.8" r="1.25"/><circle cx="317.2" cy="822.9" r="1.25"/><circle cx="325.7" cy="823.0" r="1.25"/><circle cx="313.1" cy="823.2" r="1.25"/><circle cx="310.9" cy="823.3" r="1.25"/><circle cx="330.1" cy="823.3" r="1.25"/><circle cx="306.5" cy="823.4" r="1.25"/><circle cx="330.1" cy="823.4" r="1.25"/><circle cx="330.1" cy="823.4" r="1.25"/><circle cx="330.1" cy="823.5" r="1.25"/><circle cx="330.1" cy="823.5" r="1.25"/><circle cx="330.1" cy="823.5" r="1.25"/><circle cx="330.1" cy="823.5" r="1.25"/><circle cx="330.1" cy="823.6" r="1.25"/><circle cx="330.1" cy="823.6" r="1.25"/><circle cx="330.1" cy="823.6" r="1.25"/><circle cx="330.1" cy="823.7" r="1.25"/><circle cx="330.1" cy="823.7" r="1.25"/><circle cx="330.1" cy="823.8" r="1.25"/><circle cx="330.1" cy="823.8" r="1.25"/><circle cx="319.0" cy="824.0" r="1.25"/><circle cx="306.5" cy="824.1" r="1.25"/><circle cx="330.1" cy="824.1" r="1.25"/><circle cx="321.1" cy="824.3" r="1.25"/><circle cx="315.9" cy="824.3" r="1.25"/><circle cx="309.2" cy="824.3" r="1.25"/><circle cx="324.2" cy="824.4" r="1.25"/><circle cx="330.1" cy="824.4" r="1.25"/><circle cx="330.1" cy="824.5" r="1.25"/><circle cx="327.1" cy="824.5" r="1.25"/><circle cx="330.1" cy="824.5" r="1.25"/><circle cx="330.1" cy="824.5" r="1.25"/><circle cx="306.5" cy="824.8" r="1.25"/><circle cx="312.0" cy="825.0" r="1.25"/><circle cx="330.1" cy="825.0" r="1.25"/><circle cx="330.1" cy="825.0" r="1.25"/><circle cx="330.1" cy="825.1" r="1.25"/><circle cx="314.1" cy="825.3" r="1.25"/><circle cx="330.1" cy="825.3" r="1.25"/><circle cx="330.1" cy="825.3" r="1.25"/><circle cx="317.6" cy="825.4" r="1.25"/><circle cx="330.1" cy="825.4" r="1.25"/><circle cx="306.5" cy="825.5" r="1.25"/><circle cx="330.1" cy="825.6" r="1.25"/><circle cx="330.1" cy="825.6" r="1.25"/><circle cx="330.1" cy="825.6" r="1.25"/><circle cx="322.5" cy="825.7" r="1.25"/><circle cx="330.1" cy="825.7" r="1.25"/><circle cx="330.1" cy="825.8" r="1.25"/><circle cx="319.7" cy="825.9" r="1.25"/><circle cx="325.7" cy="825.9" r="1.25"/><circle cx="330.1" cy="825.9" r="1.25"/><circle cx="310.2" cy="826.0" r="1.25"/><circle cx="328.1" cy="826.2" r="1.25"/><circle cx="316.2" cy="826.8" r="1.25"/><circle cx="313.1" cy="826.9" r="1.25"/><circle cx="323.9" cy="827.1" r="1.25"/><circle cx="318.3" cy="827.3" r="1.25"/><circle cx="321.1" cy="827.3" r="1.25"/><circle cx="308.9" cy="827.5" r="1.25"/><circle cx="326.7" cy="827.7" r="1.25"/><circle cx="306.8" cy="827.8" r="1.25"/><circle cx="311.3" cy="827.9" r="1.25"/><circle cx="328.8" cy="828.1" r="1.25"/><circle cx="314.8" cy="828.3" r="1.25"/><circle cx="330.1" cy="828.4" r="1.25"/><circle cx="306.5" cy="828.6" r="1.25"/><circle cx="330.1" cy="828.6" r="1.25"/><circle cx="316.9" cy="828.7" r="1.25"/><circle cx="319.7" cy="828.9" r="1.25"/><circle cx="322.5" cy="828.9" r="1.25"/><circle cx="324.6" cy="829.1" r="1.25"/><circle cx="330.1" cy="829.2" r="1.25"/><circle cx="313.1" cy="829.2" r="1.25"/><circle cx="310.6" cy="829.7" r="1.25"/><circle cx="326.7" cy="830.0" r="1.25"/><circle cx="308.5" cy="830.0" r="1.25"/><circle cx="306.5" cy="830.1" r="1.25"/><circle cx="330.1" cy="830.1" r="1.25"/><circle cx="318.3" cy="830.3" r="1.25"/><circle cx="315.9" cy="830.4" r="1.25"/><circle cx="321.1" cy="830.4" r="1.25"/><circle cx="330.1" cy="830.5" r="1.25"/><circle cx="330.1" cy="830.6" r="1.25"/><circle cx="306.5" cy="830.7" r="1.25"/><circle cx="323.2" cy="830.8" r="1.25"/><circle cx="330.1" cy="831.0" r="1.25"/><circle cx="313.8" cy="831.1" r="1.25"/><circle cx="319.4" cy="832.1" r="1.25"/><circle cx="317.2" cy="832.1" r="1.25"/><circle cx="321.4" cy="832.5" r="1.25"/><circle cx="315.2" cy="832.7" r="1.25"/><circle cx="323.6" cy="832.7" r="1.25"/><circle cx="312.7" cy="832.9" r="1.25"/><circle cx="325.7" cy="833.0" r="1.25"/><circle cx="310.6" cy="833.1" r="1.25"/><circle cx="327.8" cy="833.2" r="1.25"/><circle cx="308.5" cy="833.3" r="1.25"/><circle cx="318.3" cy="834.7" r="1.25"/><circle cx="320.4" cy="834.8" r="1.25"/><circle cx="316.2" cy="834.8" r="1.25"/><circle cx="322.2" cy="836.0" r="1.25"/><circle cx="314.4" cy="836.1" r="1.25"/><circle cx="324.2" cy="836.2" r="1.25"/><circle cx="312.4" cy="836.2" r="1.25"/><circle cx="319.0" cy="836.6" r="1.25"/><circle cx="316.9" cy="836.6" r="1.25"/><circle cx="320.8" cy="837.6" r="1.25"/><circle cx="325.7" cy="837.7" r="1.25"/><circle cx="315.5" cy="838.2" r="1.25"/><circle cx="318.3" cy="838.7" r="1.25"/><circle cx="322.5" cy="838.8" r="1.25"/><circle cx="320.1" cy="839.9" r="1.25"/><circle cx="317.2" cy="840.3" r="1.25"/><circle cx="315.2" cy="840.8" r="1.25"/><circle cx="318.3" cy="842.1" r="1.25"/><circle cx="319.7" cy="843.7" r="1.25"/><circle cx="317.6" cy="844.2" r="1.25"/><circle cx="318.3" cy="852.7" r="1.25"/><circle cx="318.3" cy="860.3" r="1.25"/></g>
<rect x="306.7" y="819.1" width="23.2" height="11.5" fill="none" stroke="#333333" stroke-width="1" stroke-opacity="0.75"/>
<line x1="306.7" y1="821.9" x2="329.9" y2="821.9" stroke="#333333" stroke-width="1.4" stroke-opacity="0.6"/>
<rect x="241.6" y="772.9" width="94.1" height="140.89999999999998" fill="none" stroke="#333333" stroke-width="1"/>
<line x1="238.4" y1="894.6" x2="241.6" y2="894.6" stroke="#333333" stroke-width="1"/>
<text x="235.4" y="898.2" font-size="10" fill="#4d4d4d" text-anchor="end">0.4</text>
<line x1="238.4" y1="869.0" x2="241.6" y2="869.0" stroke="#333333" stroke-width="1"/>
<text x="235.4" y="872.6" font-size="10" fill="#4d4d4d" text-anchor="end">0.5</text>
<line x1="238.4" y1="843.4" x2="241.6" y2="843.4" stroke="#333333" stroke-width="1"/>
<text x="235.4" y="847.0" font-size="10" fill="#4d4d4d" text-anchor="end">0.6</text>
<line x1="238.4" y1="817.8" x2="241.6" y2="817.8" stroke="#333333" stroke-width="1"/>
<text x="235.4" y="821.4" font-size="10" fill="#4d4d4d" text-anchor="end">0.7</text>
<line x1="238.4" y1="792.2" x2="241.6" y2="792.2" stroke="#333333" stroke-width="1"/>
<text x="235.4" y="795.8" font-size="10" fill="#4d4d4d" text-anchor="end">0.8</text>
<line x1="259.0" y1="913.8" x2="259.0" y2="917.0" stroke="#333333" stroke-width="1"/>
<line x1="288.8" y1="913.8" x2="288.8" y2="917.0" stroke="#333333" stroke-width="1"/>
<line x1="318.3" y1="913.8" x2="318.3" y2="917.0" stroke="#333333" stroke-width="1"/>
<path d="M288.8,784 V781 H318.3 V784" fill="none" stroke="#333333" stroke-width="0.9"/>
<text x="303.6" y="779.8" font-size="7.3" fill="#000" text-anchor="middle">0.00038</text>
<path d="M259.0,797.2 V794.2 H318.3 V797.2" fill="none" stroke="#333333" stroke-width="0.9"/>
<text x="288.6" y="793.0" font-size="7.3" fill="#000" text-anchor="middle">p &lt; 2.22e−16</text>
<path d="M259.0,807.1 V804.1 H288.8 V807.1" fill="none" stroke="#333333" stroke-width="0.9"/>
<text x="273.9" y="802.9" font-size="7.3" fill="#000" text-anchor="middle">1e−10</text>
<text x="0.0" y="0.0" font-size="12.5" fill="#000" text-anchor="middle" transform="translate(216.1,851.8) rotate(-90)">mean ß in breast tissue</text>
<line x1="578.5" y1="909.1" x2="672.7" y2="909.1" stroke="#f4f4f4" stroke-width="0.6"/>
<line x1="578.5" y1="892.2" x2="672.7" y2="892.2" stroke="#ebebeb" stroke-width="0.9"/>
<line x1="578.5" y1="875.3" x2="672.7" y2="875.3" stroke="#f4f4f4" stroke-width="0.6"/>
<line x1="578.5" y1="858.4" x2="672.7" y2="858.4" stroke="#ebebeb" stroke-width="0.9"/>
<line x1="578.5" y1="841.5" x2="672.7" y2="841.5" stroke="#f4f4f4" stroke-width="0.6"/>
<line x1="578.5" y1="824.6" x2="672.7" y2="824.6" stroke="#ebebeb" stroke-width="0.9"/>
<line x1="578.5" y1="807.7" x2="672.7" y2="807.7" stroke="#f4f4f4" stroke-width="0.6"/>
<line x1="578.5" y1="790.8" x2="672.7" y2="790.8" stroke="#ebebeb" stroke-width="0.9"/>
<line x1="578.5" y1="773.9" x2="672.7" y2="773.9" stroke="#f4f4f4" stroke-width="0.6"/>
<line x1="596.4" y1="772.9" x2="596.4" y2="914.2" stroke="#ebebeb" stroke-width="0.9"/>
<line x1="626.0" y1="772.9" x2="626.0" y2="914.2" stroke="#ebebeb" stroke-width="0.9"/>
<line x1="655.6" y1="772.9" x2="655.6" y2="914.2" stroke="#ebebeb" stroke-width="0.9"/>
<line x1="596.4" y1="831.4" x2="596.4" y2="861.8" stroke="#333333" stroke-width="0.8"/>
<rect x="584.8" y="841.8" width="23.2" height="8.5" fill="#c9e8f5" stroke="#333333" stroke-width="1"/>
<line x1="584.8" y1="845.9" x2="608.0" y2="845.9" stroke="#333333" stroke-width="1.4"/>
<g fill="#0a9ed8" fill-opacity="0.95"><circle cx="596.4" cy="827.0" r="1.25"/><circle cx="596.4" cy="832.2" r="1.25"/><circle cx="596.4" cy="835.5" r="1.25"/><circle cx="598.5" cy="835.8" r="1.25"/><circle cx="594.3" cy="836.3" r="1.25"/><circle cx="600.6" cy="836.6" r="1.25"/><circle cx="592.2" cy="836.7" r="1.25"/><circle cx="602.7" cy="836.7" r="1.25"/><circle cx="590.1" cy="837.0" r="1.25"/><circle cx="604.8" cy="837.1" r="1.25"/><circle cx="596.4" cy="837.7" r="1.25"/><circle cx="598.5" cy="838.6" r="1.25"/><circle cx="594.6" cy="839.0" r="1.25"/><circle cx="592.5" cy="839.4" r="1.25"/><circle cx="596.8" cy="839.8" r="1.25"/><circle cx="600.2" cy="839.8" r="1.25"/><circle cx="602.4" cy="840.0" r="1.25"/><circle cx="590.4" cy="840.1" r="1.25"/><circle cx="604.4" cy="840.1" r="1.25"/><circle cx="588.4" cy="840.1" r="1.25"/><circle cx="606.5" cy="840.4" r="1.25"/><circle cx="586.2" cy="840.5" r="1.25"/><circle cx="608.2" cy="840.5" r="1.25"/><circle cx="584.6" cy="840.6" r="1.25"/><circle cx="598.5" cy="840.9" r="1.25"/><circle cx="595.0" cy="841.1" r="1.25"/><circle cx="608.2" cy="841.2" r="1.25"/><circle cx="608.2" cy="841.2" r="1.25"/><circle cx="584.6" cy="841.2" r="1.25"/><circle cx="608.2" cy="841.3" r="1.25"/><circle cx="592.9" cy="841.4" r="1.25"/><circle cx="608.2" cy="841.4" r="1.25"/><circle cx="608.2" cy="841.5" r="1.25"/><circle cx="608.2" cy="841.6" r="1.25"/><circle cx="596.8" cy="842.1" r="1.25"/><circle cx="599.9" cy="842.3" r="1.25"/><circle cx="591.1" cy="842.4" r="1.25"/><circle cx="602.0" cy="842.5" r="1.25"/><circle cx="589.0" cy="842.6" r="1.25"/><circle cx="604.1" cy="842.8" r="1.25"/><circle cx="595.0" cy="843.2" r="1.25"/><circle cx="592.9" cy="843.4" r="1.25"/><circle cx="586.9" cy="843.4" r="1.25"/><circle cx="606.2" cy="843.4" r="1.25"/><circle cx="598.1" cy="843.5" r="1.25"/><circle cx="584.9" cy="843.5" r="1.25"/><circle cx="608.2" cy="843.5" r="1.25"/><circle cx="584.6" cy="843.5" r="1.25"/><circle cx="608.2" cy="843.7" r="1.25"/><circle cx="608.2" cy="843.8" r="1.25"/><circle cx="608.2" cy="843.9" r="1.25"/><circle cx="608.2" cy="844.0" r="1.25"/><circle cx="608.2" cy="844.0" r="1.25"/><circle cx="600.9" cy="844.1" r="1.25"/><circle cx="584.6" cy="844.2" r="1.25"/><circle cx="590.4" cy="844.2" r="1.25"/><circle cx="608.2" cy="844.2" r="1.25"/><circle cx="608.2" cy="844.3" r="1.25"/><circle cx="608.2" cy="844.3" r="1.25"/><circle cx="608.2" cy="844.4" r="1.25"/><circle cx="608.2" cy="844.4" r="1.25"/><circle cx="608.2" cy="844.4" r="1.25"/><circle cx="596.4" cy="844.6" r="1.25"/><circle cx="603.0" cy="844.6" r="1.25"/><circle cx="608.2" cy="844.7" r="1.25"/><circle cx="608.2" cy="844.7" r="1.25"/><circle cx="588.4" cy="844.8" r="1.25"/><circle cx="584.6" cy="844.9" r="1.25"/><circle cx="608.2" cy="845.0" r="1.25"/><circle cx="608.2" cy="845.0" r="1.25"/><circle cx="594.3" cy="845.0" r="1.25"/><circle cx="605.1" cy="845.1" r="1.25"/><circle cx="608.2" cy="845.1" r="1.25"/><circle cx="599.2" cy="845.1" r="1.25"/><circle cx="608.2" cy="845.2" r="1.25"/><circle cx="608.2" cy="845.2" r="1.25"/><circle cx="608.2" cy="845.2" r="1.25"/><circle cx="592.2" cy="845.2" r="1.25"/><circle cx="608.2" cy="845.2" r="1.25"/><circle cx="608.2" cy="845.3" r="1.25"/><circle cx="608.2" cy="845.3" r="1.25"/><circle cx="608.2" cy="845.3" r="1.25"/><circle cx="608.2" cy="845.3" r="1.25"/><circle cx="608.2" cy="845.4" r="1.25"/><circle cx="608.2" cy="845.4" r="1.25"/><circle cx="608.2" cy="845.4" r="1.25"/><circle cx="584.6" cy="845.6" r="1.25"/><circle cx="608.2" cy="845.6" r="1.25"/><circle cx="608.2" cy="845.6" r="1.25"/><circle cx="586.6" cy="845.8" r="1.25"/><circle cx="608.2" cy="845.9" r="1.25"/><circle cx="608.2" cy="845.9" r="1.25"/><circle cx="608.2" cy="845.9" r="1.25"/><circle cx="608.2" cy="845.9" r="1.25"/><circle cx="608.2" cy="845.9" r="1.25"/><circle cx="608.2" cy="845.9" r="1.25"/><circle cx="608.2" cy="845.9" r="1.25"/><circle cx="601.6" cy="846.0" r="1.25"/><circle cx="608.2" cy="846.0" r="1.25"/><circle cx="608.2" cy="846.0" r="1.25"/><circle cx="608.2" cy="846.0" r="1.25"/><circle cx="608.2" cy="846.1" r="1.25"/><circle cx="608.2" cy="846.1" r="1.25"/><circle cx="608.2" cy="846.1" r="1.25"/><circle cx="608.2" cy="846.1" r="1.25"/><circle cx="608.2" cy="846.1" r="1.25"/><circle cx="608.2" cy="846.1" r="1.25"/><circle cx="608.2" cy="846.1" r="1.25"/><circle cx="608.2" cy="846.1" r="1.25"/><circle cx="590.1" cy="846.1" r="1.25"/><circle cx="608.2" cy="846.2" r="1.25"/><circle cx="608.2" cy="846.2" r="1.25"/><circle cx="608.2" cy="846.2" r="1.25"/><circle cx="597.4" cy="846.2" r="1.25"/><circle cx="584.6" cy="846.3" r="1.25"/><circle cx="608.2" cy="846.3" r="1.25"/><circle cx="608.2" cy="846.4" r="1.25"/><circle cx="608.2" cy="846.4" r="1.25"/><circle cx="608.2" cy="846.4" r="1.25"/><circle cx="603.8" cy="846.5" r="1.25"/><circle cx="608.2" cy="846.5" r="1.25"/><circle cx="608.2" cy="846.5" r="1.25"/><circle cx="608.2" cy="846.5" r="1.25"/><circle cx="608.2" cy="846.6" r="1.25"/><circle cx="608.2" cy="846.6" r="1.25"/><circle cx="608.2" cy="846.6" r="1.25"/><circle cx="608.2" cy="846.6" r="1.25"/><circle cx="608.2" cy="846.7" r="1.25"/><circle cx="608.2" cy="846.7" r="1.25"/><circle cx="595.4" cy="846.7" r="1.25"/><circle cx="608.2" cy="846.7" r="1.25"/><circle cx="606.2" cy="846.7" r="1.25"/><circle cx="608.2" cy="846.7" r="1.25"/><circle cx="608.2" cy="846.8" r="1.25"/><circle cx="608.2" cy="846.8" r="1.25"/><circle cx="608.2" cy="846.8" r="1.25"/><circle cx="608.2" cy="846.8" r="1.25"/><circle cx="608.2" cy="846.8" r="1.25"/><circle cx="608.2" cy="846.8" r="1.25"/><circle cx="593.2" cy="847.0" r="1.25"/><circle cx="599.5" cy="847.1" r="1.25"/><circle cx="588.4" cy="847.1" r="1.25"/><circle cx="584.6" cy="847.1" r="1.25"/><circle cx="608.2" cy="847.1" r="1.25"/><circle cx="608.2" cy="847.2" r="1.25"/><circle cx="608.2" cy="847.2" r="1.25"/><circle cx="608.2" cy="847.2" r="1.25"/><circle cx="608.2" cy="847.2" r="1.25"/><circle cx="608.2" cy="847.3" r="1.25"/><circle cx="608.2" cy="847.3" r="1.25"/><circle cx="608.2" cy="847.3" r="1.25"/><circle cx="608.2" cy="847.4" r="1.25"/><circle cx="608.2" cy="847.4" r="1.25"/><circle cx="608.2" cy="847.5" r="1.25"/><circle cx="608.2" cy="847.6" r="1.25"/><circle cx="608.2" cy="847.6" r="1.25"/><circle cx="608.2" cy="847.6" r="1.25"/><circle cx="608.2" cy="847.6" r="1.25"/><circle cx="608.2" cy="847.6" r="1.25"/><circle cx="608.2" cy="847.6" r="1.25"/><circle cx="608.2" cy="847.7" r="1.25"/><circle cx="608.2" cy="847.7" r="1.25"/><circle cx="584.6" cy="847.7" r="1.25"/><circle cx="608.2" cy="847.8" r="1.25"/><circle cx="591.1" cy="847.8" r="1.25"/><circle cx="602.0" cy="847.9" r="1.25"/><circle cx="608.2" cy="847.9" r="1.25"/><circle cx="586.6" cy="847.9" r="1.25"/><circle cx="608.2" cy="847.9" r="1.25"/><circle cx="608.2" cy="847.9" r="1.25"/><circle cx="596.8" cy="848.1" r="1.25"/><circle cx="608.2" cy="848.1" r="1.25"/><circle cx="604.8" cy="848.2" r="1.25"/><circle cx="608.2" cy="848.2" r="1.25"/><circle cx="608.2" cy="848.2" r="1.25"/><circle cx="608.2" cy="848.2" r="1.25"/><circle cx="608.2" cy="848.2" r="1.25"/><circle cx="608.2" cy="848.3" r="1.25"/><circle cx="584.6" cy="848.4" r="1.25"/><circle cx="594.6" cy="848.5" r="1.25"/><circle cx="608.2" cy="848.5" r="1.25"/><circle cx="608.2" cy="848.6" r="1.25"/><circle cx="608.2" cy="848.7" r="1.25"/><circle cx="608.2" cy="848.7" r="1.25"/><circle cx="589.4" cy="848.7" r="1.25"/><circle cx="608.2" cy="848.8" r="1.25"/><circle cx="608.2" cy="848.8" r="1.25"/><circle cx="608.2" cy="848.8" r="1.25"/><circle cx="608.2" cy="848.9" r="1.25"/><circle cx="608.2" cy="848.9" r="1.25"/><circle cx="598.9" cy="848.9" r="1.25"/><circle cx="608.2" cy="849.0" r="1.25"/><circle cx="592.5" cy="849.2" r="1.25"/><circle cx="584.6" cy="849.2" r="1.25"/><circle cx="608.2" cy="849.4" r="1.25"/><circle cx="608.2" cy="849.4" r="1.25"/><circle cx="608.2" cy="849.5" r="1.25"/><circle cx="608.2" cy="849.5" r="1.25"/><circle cx="600.9" cy="849.6" r="1.25"/><circle cx="603.0" cy="849.6" r="1.25"/><circle cx="587.6" cy="849.7" r="1.25"/><circle cx="606.2" cy="849.7" r="1.25"/><circle cx="608.2" cy="849.8" r="1.25"/><circle cx="596.0" cy="850.0" r="1.25"/><circle cx="584.6" cy="850.0" r="1.25"/><circle cx="608.2" cy="850.1" r="1.25"/><circle cx="590.8" cy="850.2" r="1.25"/><circle cx="608.2" cy="850.4" r="1.25"/><circle cx="593.9" cy="850.6" r="1.25"/><circle cx="584.6" cy="850.6" r="1.25"/><circle cx="608.2" cy="850.7" r="1.25"/><circle cx="608.2" cy="850.7" r="1.25"/><circle cx="598.1" cy="850.8" r="1.25"/><circle cx="589.0" cy="851.1" r="1.25"/><circle cx="604.4" cy="851.1" r="1.25"/><circle cx="602.0" cy="851.3" r="1.25"/><circle cx="596.4" cy="852.1" r="1.25"/><circle cx="599.9" cy="852.1" r="1.25"/><circle cx="593.2" cy="852.5" r="1.25"/><circle cx="591.1" cy="852.6" r="1.25"/><circle cx="603.0" cy="852.9" r="1.25"/><circle cx="597.8" cy="853.6" r="1.25"/><circle cx="595.4" cy="853.7" r="1.25"/><circle cx="599.9" cy="854.4" r="1.25"/><circle cx="593.2" cy="854.5" r="1.25"/><circle cx="596.4" cy="855.9" r="1.25"/><circle cx="598.5" cy="856.0" r="1.25"/><circle cx="596.4" cy="859.3" r="1.25"/><circle cx="598.5" cy="859.3" r="1.25"/><circle cx="594.6" cy="860.5" r="1.25"/><circle cx="600.2" cy="860.6" r="1.25"/><circle cx="596.4" cy="862.0" r="1.25"/></g>
<line x1="626.0" y1="826.3" x2="626.0" y2="854.3" stroke="#333333" stroke-width="0.8"/>
<rect x="614.4" y="837.4" width="23.2" height="8.1" fill="#f9dfc6" stroke="#333333" stroke-width="1"/>
<line x1="614.4" y1="841.5" x2="637.6" y2="841.5" stroke="#333333" stroke-width="1.4"/>
<g fill="#e69a48" fill-opacity="0.8"><circle cx="626.0" cy="825.4" r="1.25"/><circle cx="626.0" cy="830.1" r="1.25"/><circle cx="627.8" cy="831.4" r="1.25"/><circle cx="624.6" cy="831.5" r="1.25"/><circle cx="622.5" cy="832.1" r="1.25"/><circle cx="629.5" cy="832.3" r="1.25"/><circle cx="626.0" cy="834.3" r="1.25"/><circle cx="628.1" cy="834.6" r="1.25"/><circle cx="623.9" cy="834.7" r="1.25"/><circle cx="630.2" cy="834.7" r="1.25"/><circle cx="621.8" cy="835.5" r="1.25"/><circle cx="632.0" cy="835.9" r="1.25"/><circle cx="619.7" cy="836.1" r="1.25"/><circle cx="626.0" cy="836.6" r="1.25"/><circle cx="628.1" cy="836.6" r="1.25"/><circle cx="623.9" cy="837.3" r="1.25"/><circle cx="630.2" cy="837.3" r="1.25"/><circle cx="621.8" cy="837.5" r="1.25"/><circle cx="633.0" cy="837.6" r="1.25"/><circle cx="618.6" cy="837.8" r="1.25"/><circle cx="635.1" cy="837.9" r="1.25"/><circle cx="616.5" cy="838.0" r="1.25"/><circle cx="637.2" cy="838.1" r="1.25"/><circle cx="614.5" cy="838.2" r="1.25"/><circle cx="637.8" cy="838.2" r="1.25"/><circle cx="626.0" cy="838.6" r="1.25"/><circle cx="628.1" cy="838.8" r="1.25"/><circle cx="614.2" cy="838.8" r="1.25"/><circle cx="637.8" cy="838.8" r="1.25"/><circle cx="637.8" cy="838.8" r="1.25"/><circle cx="620.4" cy="838.9" r="1.25"/><circle cx="637.8" cy="838.9" r="1.25"/><circle cx="631.2" cy="839.0" r="1.25"/><circle cx="637.8" cy="839.1" r="1.25"/><circle cx="637.8" cy="839.1" r="1.25"/><circle cx="623.5" cy="839.2" r="1.25"/><circle cx="637.8" cy="839.3" r="1.25"/><circle cx="637.8" cy="839.3" r="1.25"/><circle cx="614.2" cy="839.4" r="1.25"/><circle cx="637.8" cy="839.4" r="1.25"/><circle cx="637.8" cy="839.4" r="1.25"/><circle cx="633.7" cy="839.5" r="1.25"/><circle cx="637.8" cy="839.5" r="1.25"/><circle cx="637.8" cy="839.6" r="1.25"/><circle cx="618.6" cy="839.8" r="1.25"/><circle cx="616.5" cy="840.0" r="1.25"/><circle cx="635.8" cy="840.0" r="1.25"/><circle cx="614.2" cy="840.1" r="1.25"/><circle cx="637.8" cy="840.1" r="1.25"/><circle cx="629.5" cy="840.2" r="1.25"/><circle cx="637.8" cy="840.3" r="1.25"/><circle cx="637.8" cy="840.3" r="1.25"/><circle cx="621.8" cy="840.3" r="1.25"/><circle cx="637.8" cy="840.3" r="1.25"/><circle cx="637.8" cy="840.4" r="1.25"/><circle cx="626.7" cy="840.5" r="1.25"/><circle cx="637.8" cy="840.5" r="1.25"/><circle cx="637.8" cy="840.6" r="1.25"/><circle cx="614.2" cy="840.7" r="1.25"/><circle cx="637.8" cy="840.8" r="1.25"/><circle cx="632.0" cy="840.8" r="1.25"/><circle cx="624.6" cy="840.9" r="1.25"/><circle cx="637.8" cy="840.9" r="1.25"/><circle cx="637.8" cy="840.9" r="1.25"/><circle cx="637.8" cy="841.0" r="1.25"/><circle cx="637.8" cy="841.0" r="1.25"/><circle cx="637.8" cy="841.1" r="1.25"/><circle cx="620.0" cy="841.4" r="1.25"/><circle cx="634.0" cy="841.5" r="1.25"/><circle cx="614.2" cy="841.5" r="1.25"/><circle cx="637.8" cy="841.5" r="1.25"/><circle cx="637.8" cy="841.6" r="1.25"/><circle cx="637.8" cy="841.6" r="1.25"/><circle cx="637.8" cy="841.6" r="1.25"/><circle cx="637.8" cy="841.6" r="1.25"/><circle cx="618.0" cy="841.7" r="1.25"/><circle cx="637.8" cy="841.7" r="1.25"/><circle cx="637.8" cy="841.8" r="1.25"/><circle cx="637.8" cy="841.8" r="1.25"/><circle cx="637.8" cy="841.8" r="1.25"/><circle cx="628.1" cy="841.9" r="1.25"/><circle cx="637.8" cy="841.9" r="1.25"/><circle cx="622.9" cy="842.0" r="1.25"/><circle cx="630.2" cy="842.0" r="1.25"/><circle cx="637.8" cy="842.1" r="1.25"/><circle cx="637.8" cy="842.2" r="1.25"/><circle cx="614.2" cy="842.2" r="1.25"/><circle cx="637.8" cy="842.2" r="1.25"/><circle cx="637.8" cy="842.2" r="1.25"/><circle cx="626.0" cy="842.4" r="1.25"/><circle cx="635.8" cy="842.5" r="1.25"/><circle cx="616.2" cy="842.5" r="1.25"/><circle cx="637.8" cy="842.5" r="1.25"/><circle cx="637.8" cy="842.6" r="1.25"/><circle cx="632.3" cy="842.8" r="1.25"/><circle cx="637.8" cy="842.8" r="1.25"/><circle cx="614.2" cy="842.9" r="1.25"/><circle cx="637.8" cy="842.9" r="1.25"/><circle cx="637.8" cy="843.0" r="1.25"/><circle cx="637.8" cy="843.0" r="1.25"/><circle cx="621.1" cy="843.1" r="1.25"/><circle cx="637.8" cy="843.1" r="1.25"/><circle cx="637.8" cy="843.2" r="1.25"/><circle cx="637.8" cy="843.3" r="1.25"/><circle cx="619.0" cy="843.3" r="1.25"/><circle cx="637.8" cy="843.3" r="1.25"/><circle cx="624.2" cy="843.4" r="1.25"/><circle cx="614.2" cy="843.5" r="1.25"/><circle cx="637.8" cy="843.6" r="1.25"/><circle cx="637.8" cy="843.6" r="1.25"/><circle cx="628.8" cy="843.7" r="1.25"/><circle cx="634.0" cy="843.8" r="1.25"/><circle cx="637.8" cy="843.8" r="1.25"/><circle cx="637.8" cy="843.9" r="1.25"/><circle cx="637.8" cy="843.9" r="1.25"/><circle cx="637.8" cy="844.0" r="1.25"/><circle cx="626.7" cy="844.2" r="1.25"/><circle cx="630.9" cy="844.3" r="1.25"/><circle cx="622.5" cy="844.7" r="1.25"/><circle cx="617.2" cy="844.7" r="1.25"/><circle cx="635.8" cy="844.9" r="1.25"/><circle cx="620.4" cy="845.1" r="1.25"/><circle cx="625.0" cy="845.3" r="1.25"/><circle cx="632.6" cy="845.4" r="1.25"/><circle cx="626.7" cy="846.3" r="1.25"/><circle cx="628.8" cy="846.4" r="1.25"/><circle cx="630.9" cy="846.4" r="1.25"/><circle cx="623.5" cy="846.7" r="1.25"/><circle cx="621.5" cy="847.2" r="1.25"/><circle cx="632.6" cy="847.5" r="1.25"/><circle cx="625.3" cy="847.7" r="1.25"/><circle cx="627.4" cy="848.5" r="1.25"/><circle cx="623.5" cy="848.9" r="1.25"/><circle cx="629.5" cy="849.1" r="1.25"/><circle cx="621.5" cy="849.4" r="1.25"/><circle cx="625.6" cy="849.8" r="1.25"/><circle cx="627.4" cy="850.8" r="1.25"/><circle cx="623.9" cy="851.0" r="1.25"/><circle cx="626.0" cy="853.0" r="1.25"/><circle cx="627.0" cy="854.7" r="1.25"/><circle cx="626.0" cy="907.7" r="1.25"/></g>
<rect x="614.4" y="837.4" width="23.2" height="8.1" fill="none" stroke="#333333" stroke-width="1" stroke-opacity="0.75"/>
<line x1="614.4" y1="841.5" x2="637.6" y2="841.5" stroke="#333333" stroke-width="1.4" stroke-opacity="0.6"/>
<line x1="655.6" y1="811.1" x2="655.6" y2="858.4" stroke="#333333" stroke-width="0.8"/>
<rect x="644.0" y="829.7" width="23.2" height="11.8" fill="#f1cfcf" stroke="#333333" stroke-width="1"/>
<line x1="644.0" y1="835.4" x2="667.2" y2="835.4" stroke="#333333" stroke-width="1.4"/>
<g fill="#bd5152" fill-opacity="0.72"><circle cx="655.6" cy="807.9" r="1.25"/><circle cx="657.7" cy="808.4" r="1.25"/><circle cx="655.6" cy="810.7" r="1.25"/><circle cx="657.7" cy="810.8" r="1.25"/><circle cx="653.5" cy="811.1" r="1.25"/><circle cx="659.8" cy="811.2" r="1.25"/><circle cx="655.6" cy="812.8" r="1.25"/><circle cx="655.6" cy="815.5" r="1.25"/><circle cx="655.6" cy="818.5" r="1.25"/><circle cx="657.7" cy="818.6" r="1.25"/><circle cx="653.5" cy="818.6" r="1.25"/><circle cx="659.8" cy="818.9" r="1.25"/><circle cx="655.6" cy="821.8" r="1.25"/><circle cx="657.7" cy="822.1" r="1.25"/><circle cx="653.5" cy="822.2" r="1.25"/><circle cx="659.5" cy="823.3" r="1.25"/><circle cx="656.3" cy="823.7" r="1.25"/><circle cx="652.1" cy="823.7" r="1.25"/><circle cx="654.2" cy="824.1" r="1.25"/><circle cx="661.2" cy="824.4" r="1.25"/><circle cx="650.0" cy="824.4" r="1.25"/><circle cx="663.3" cy="824.6" r="1.25"/><circle cx="658.1" cy="824.7" r="1.25"/><circle cx="647.9" cy="824.7" r="1.25"/><circle cx="655.6" cy="825.8" r="1.25"/><circle cx="653.1" cy="825.9" r="1.25"/><circle cx="659.5" cy="826.2" r="1.25"/><circle cx="651.1" cy="826.4" r="1.25"/><circle cx="657.4" cy="826.8" r="1.25"/><circle cx="661.6" cy="826.8" r="1.25"/><circle cx="649.0" cy="826.9" r="1.25"/><circle cx="663.6" cy="827.1" r="1.25"/><circle cx="654.9" cy="827.6" r="1.25"/><circle cx="652.5" cy="827.8" r="1.25"/><circle cx="658.4" cy="828.6" r="1.25"/><circle cx="660.5" cy="828.6" r="1.25"/><circle cx="650.7" cy="828.7" r="1.25"/><circle cx="656.3" cy="829.2" r="1.25"/><circle cx="654.6" cy="830.1" r="1.25"/><circle cx="652.5" cy="830.3" r="1.25"/><circle cx="659.1" cy="830.4" r="1.25"/><circle cx="661.2" cy="830.5" r="1.25"/><circle cx="650.0" cy="830.6" r="1.25"/><circle cx="663.3" cy="830.6" r="1.25"/><circle cx="647.9" cy="830.7" r="1.25"/><circle cx="665.4" cy="830.8" r="1.25"/><circle cx="645.8" cy="830.9" r="1.25"/><circle cx="667.4" cy="831.0" r="1.25"/><circle cx="656.3" cy="831.2" r="1.25"/><circle cx="643.8" cy="831.2" r="1.25"/><circle cx="667.4" cy="831.3" r="1.25"/><circle cx="667.4" cy="831.3" r="1.25"/><circle cx="667.4" cy="831.5" r="1.25"/><circle cx="667.4" cy="831.6" r="1.25"/><circle cx="643.8" cy="832.0" r="1.25"/><circle cx="653.9" cy="832.0" r="1.25"/><circle cx="651.4" cy="832.0" r="1.25"/><circle cx="667.4" cy="832.0" r="1.25"/><circle cx="658.1" cy="832.1" r="1.25"/><circle cx="660.1" cy="832.2" r="1.25"/><circle cx="667.4" cy="832.2" r="1.25"/><circle cx="667.4" cy="832.3" r="1.25"/><circle cx="662.2" cy="832.3" r="1.25"/><circle cx="649.3" cy="832.4" r="1.25"/><circle cx="647.2" cy="832.5" r="1.25"/><circle cx="664.4" cy="832.6" r="1.25"/><circle cx="643.8" cy="832.6" r="1.25"/><circle cx="667.4" cy="832.7" r="1.25"/><circle cx="667.4" cy="832.7" r="1.25"/><circle cx="667.4" cy="832.8" r="1.25"/><circle cx="667.4" cy="832.8" r="1.25"/><circle cx="667.4" cy="832.8" r="1.25"/><circle cx="667.4" cy="832.9" r="1.25"/><circle cx="655.6" cy="833.0" r="1.25"/><circle cx="667.4" cy="833.1" r="1.25"/><circle cx="667.4" cy="833.2" r="1.25"/><circle cx="643.8" cy="833.3" r="1.25"/><circle cx="667.4" cy="833.5" r="1.25"/><circle cx="667.4" cy="833.6" r="1.25"/><circle cx="667.4" cy="833.6" r="1.25"/><circle cx="667.4" cy="833.6" r="1.25"/><circle cx="667.4" cy="833.6" r="1.25"/><circle cx="652.8" cy="833.7" r="1.25"/><circle cx="667.4" cy="833.8" r="1.25"/><circle cx="650.7" cy="833.8" r="1.25"/><circle cx="658.8" cy="833.9" r="1.25"/><circle cx="645.8" cy="833.9" r="1.25"/><circle cx="661.2" cy="834.0" r="1.25"/><circle cx="643.8" cy="834.0" r="1.25"/><circle cx="667.4" cy="834.1" r="1.25"/><circle cx="667.4" cy="834.2" r="1.25"/><circle cx="648.6" cy="834.3" r="1.25"/><circle cx="663.3" cy="834.3" r="1.25"/><circle cx="665.4" cy="834.3" r="1.25"/><circle cx="667.4" cy="834.4" r="1.25"/><circle cx="667.4" cy="834.4" r="1.25"/><circle cx="667.4" cy="834.4" r="1.25"/><circle cx="667.4" cy="834.5" r="1.25"/><circle cx="667.4" cy="834.5" r="1.25"/><circle cx="667.4" cy="834.5" r="1.25"/><circle cx="667.4" cy="834.6" r="1.25"/><circle cx="667.4" cy="834.6" r="1.25"/><circle cx="667.4" cy="834.6" r="1.25"/><circle cx="667.4" cy="834.6" r="1.25"/><circle cx="643.8" cy="834.6" r="1.25"/><circle cx="656.6" cy="834.8" r="1.25"/><circle cx="654.6" cy="835.0" r="1.25"/><circle cx="667.4" cy="835.1" r="1.25"/><circle cx="667.4" cy="835.2" r="1.25"/><circle cx="667.4" cy="835.3" r="1.25"/><circle cx="643.8" cy="835.3" r="1.25"/><circle cx="667.4" cy="835.3" r="1.25"/><circle cx="667.4" cy="835.4" r="1.25"/><circle cx="652.1" cy="835.5" r="1.25"/><circle cx="659.8" cy="835.6" r="1.25"/><circle cx="650.0" cy="835.7" r="1.25"/><circle cx="647.2" cy="835.8" r="1.25"/><circle cx="667.4" cy="835.8" r="1.25"/><circle cx="661.9" cy="835.8" r="1.25"/><circle cx="667.4" cy="835.9" r="1.25"/><circle cx="643.8" cy="835.9" r="1.25"/><circle cx="664.4" cy="836.1" r="1.25"/><circle cx="667.4" cy="836.2" r="1.25"/><circle cx="667.4" cy="836.2" r="1.25"/><circle cx="667.4" cy="836.3" r="1.25"/><circle cx="657.7" cy="836.5" r="1.25"/><circle cx="667.4" cy="836.5" r="1.25"/><circle cx="655.6" cy="836.7" r="1.25"/><circle cx="643.8" cy="836.7" r="1.25"/><circle cx="667.4" cy="836.7" r="1.25"/><circle cx="667.4" cy="836.8" r="1.25"/><circle cx="667.4" cy="836.8" r="1.25"/><circle cx="667.4" cy="836.8" r="1.25"/><circle cx="667.4" cy="836.8" r="1.25"/><circle cx="667.4" cy="836.9" r="1.25"/><circle cx="667.4" cy="836.9" r="1.25"/><circle cx="653.5" cy="837.0" r="1.25"/><circle cx="667.4" cy="837.1" r="1.25"/><circle cx="648.6" cy="837.2" r="1.25"/><circle cx="645.8" cy="837.2" r="1.25"/><circle cx="667.4" cy="837.2" r="1.25"/><circle cx="667.4" cy="837.2" r="1.25"/><circle cx="667.4" cy="837.3" r="1.25"/><circle cx="643.8" cy="837.3" r="1.25"/><circle cx="651.4" cy="837.4" r="1.25"/><circle cx="660.5" cy="837.5" r="1.25"/><circle cx="663.0" cy="837.5" r="1.25"/><circle cx="667.4" cy="837.6" r="1.25"/><circle cx="667.4" cy="837.7" r="1.25"/><circle cx="665.4" cy="837.8" r="1.25"/><circle cx="667.4" cy="837.9" r="1.25"/><circle cx="643.8" cy="838.1" r="1.25"/><circle cx="667.4" cy="838.2" r="1.25"/><circle cx="667.4" cy="838.3" r="1.25"/><circle cx="656.6" cy="838.4" r="1.25"/><circle cx="658.8" cy="838.4" r="1.25"/><circle cx="667.4" cy="838.4" r="1.25"/><circle cx="654.6" cy="838.6" r="1.25"/><circle cx="647.2" cy="838.6" r="1.25"/><circle cx="650.0" cy="838.9" r="1.25"/><circle cx="643.8" cy="839.0" r="1.25"/><circle cx="667.4" cy="839.0" r="1.25"/><circle cx="652.5" cy="839.1" r="1.25"/><circle cx="661.6" cy="839.2" r="1.25"/><circle cx="663.6" cy="839.4" r="1.25"/><circle cx="667.4" cy="839.5" r="1.25"/><circle cx="667.4" cy="839.6" r="1.25"/><circle cx="643.8" cy="839.6" r="1.25"/><circle cx="667.4" cy="839.6" r="1.25"/><circle cx="667.4" cy="839.7" r="1.25"/><circle cx="667.4" cy="839.7" r="1.25"/><circle cx="667.4" cy="839.9" r="1.25"/><circle cx="667.4" cy="840.0" r="1.25"/><circle cx="645.8" cy="840.0" r="1.25"/><circle cx="657.7" cy="840.1" r="1.25"/><circle cx="659.8" cy="840.1" r="1.25"/><circle cx="655.6" cy="840.4" r="1.25"/><circle cx="648.6" cy="840.4" r="1.25"/><circle cx="653.5" cy="841.0" r="1.25"/><circle cx="651.4" cy="841.0" r="1.25"/><circle cx="662.6" cy="841.1" r="1.25"/><circle cx="664.7" cy="841.2" r="1.25"/><circle cx="643.8" cy="841.3" r="1.25"/><circle cx="667.4" cy="841.5" r="1.25"/><circle cx="646.9" cy="841.7" r="1.25"/><circle cx="658.8" cy="841.8" r="1.25"/><circle cx="660.9" cy="841.9" r="1.25"/><circle cx="643.8" cy="842.0" r="1.25"/><circle cx="656.6" cy="842.1" r="1.25"/><circle cx="649.6" cy="842.2" r="1.25"/><circle cx="654.6" cy="842.6" r="1.25"/><circle cx="652.5" cy="842.7" r="1.25"/><circle cx="667.4" cy="842.7" r="1.25"/><circle cx="643.8" cy="842.8" r="1.25"/><circle cx="662.6" cy="843.3" r="1.25"/><circle cx="664.7" cy="843.3" r="1.25"/><circle cx="667.4" cy="843.3" r="1.25"/><circle cx="667.4" cy="843.3" r="1.25"/><circle cx="647.9" cy="843.5" r="1.25"/><circle cx="645.8" cy="843.6" r="1.25"/><circle cx="659.8" cy="843.6" r="1.25"/><circle cx="657.7" cy="843.8" r="1.25"/><circle cx="643.8" cy="843.9" r="1.25"/><circle cx="667.4" cy="843.9" r="1.25"/><circle cx="651.1" cy="844.1" r="1.25"/><circle cx="667.4" cy="844.2" r="1.25"/><circle cx="655.6" cy="844.6" r="1.25"/><circle cx="653.5" cy="844.9" r="1.25"/><circle cx="661.2" cy="845.2" r="1.25"/><circle cx="655.6" cy="848.1" r="1.25"/><circle cx="657.7" cy="848.6" r="1.25"/><circle cx="653.5" cy="848.7" r="1.25"/><circle cx="659.5" cy="849.8" r="1.25"/><circle cx="655.6" cy="851.2" r="1.25"/><circle cx="657.7" cy="851.8" r="1.25"/><circle cx="653.9" cy="852.4" r="1.25"/><circle cx="655.6" cy="853.4" r="1.25"/><circle cx="658.1" cy="853.7" r="1.25"/><circle cx="656.6" cy="855.1" r="1.25"/><circle cx="654.9" cy="856.0" r="1.25"/><circle cx="658.4" cy="856.0" r="1.25"/><circle cx="655.6" cy="861.8" r="1.25"/><circle cx="657.7" cy="862.3" r="1.25"/><circle cx="656.3" cy="863.7" r="1.25"/></g>
<rect x="644.0" y="829.7" width="23.2" height="11.8" fill="none" stroke="#333333" stroke-width="1" stroke-opacity="0.75"/>
<line x1="644.0" y1="835.4" x2="667.2" y2="835.4" stroke="#333333" stroke-width="1.4" stroke-opacity="0.6"/>
<rect x="578.5" y="772.9" width="94.20000000000005" height="141.30000000000007" fill="none" stroke="#333333" stroke-width="1"/>
<line x1="575.3" y1="892.2" x2="578.5" y2="892.2" stroke="#333333" stroke-width="1"/>
<text x="572.3" y="895.8" font-size="10" fill="#4d4d4d" text-anchor="end">0.5</text>
<line x1="575.3" y1="858.4" x2="578.5" y2="858.4" stroke="#333333" stroke-width="1"/>
<text x="572.3" y="862.0" font-size="10" fill="#4d4d4d" text-anchor="end">0.6</text>
<line x1="575.3" y1="824.6" x2="578.5" y2="824.6" stroke="#333333" stroke-width="1"/>
<text x="572.3" y="828.2" font-size="10" fill="#4d4d4d" text-anchor="end">0.7</text>
<line x1="575.3" y1="790.8" x2="578.5" y2="790.8" stroke="#333333" stroke-width="1"/>
<text x="572.3" y="794.4" font-size="10" fill="#4d4d4d" text-anchor="end">0.8</text>
<line x1="596.4" y1="914.2" x2="596.4" y2="917.4000000000001" stroke="#333333" stroke-width="1"/>
<line x1="626.0" y1="914.2" x2="626.0" y2="917.4000000000001" stroke="#333333" stroke-width="1"/>
<line x1="655.6" y1="914.2" x2="655.6" y2="917.4000000000001" stroke="#333333" stroke-width="1"/>
<path d="M626.0,786.1 V783.1 H655.6 V786.1" fill="none" stroke="#333333" stroke-width="0.9"/>
<text x="640.8" y="781.9" font-size="7.3" fill="#000" text-anchor="middle">2.9e−12</text>
<path d="M596.4,800.9 V797.9 H655.6 V800.9" fill="none" stroke="#333333" stroke-width="0.9"/>
<text x="626.0" y="796.7" font-size="7.3" fill="#000" text-anchor="middle">p &lt; 2.22e−16</text>
<path d="M596.4,815.5 V812.5 H626.0 V815.5" fill="none" stroke="#333333" stroke-width="0.9"/>
<text x="611.2" y="811.3" font-size="7.3" fill="#000" text-anchor="middle">1.2e−12</text>
<text x="0.0" y="0.0" font-size="12.5" fill="#000" text-anchor="middle" transform="translate(553.0,852.0) rotate(-90)">mean ß in breast tissue</text>
<text x="366.4" y="295.2" font-size="12.5" fill="#000">Breast tissue type</text>
<line x1="374.9" y1="307.4" x2="374.9" y2="323.4" stroke="#333" stroke-width="1.2"/>
<rect x="367.4" y="310.4" width="15" height="10" fill="#c6e9f6" stroke="#333" stroke-width="1.3"/>
<line x1="367.4" y1="315.4" x2="382.4" y2="315.4" stroke="#333" stroke-width="1.3"/>
<text x="399.6" y="319.0" font-size="10.3" fill="#000">normal (n=231)</text>
<line x1="374.9" y1="329.3" x2="374.9" y2="345.3" stroke="#333" stroke-width="1.2"/>
<rect x="367.4" y="332.3" width="15" height="10" fill="#fde5d0" stroke="#333" stroke-width="1.3"/>
<line x1="367.4" y1="337.3" x2="382.4" y2="337.3" stroke="#333" stroke-width="1.3"/>
<circle cx="374.9" cy="337.3" r="1" fill="#e8a25a"/>
<text x="399.6" y="340.9" font-size="10.3" fill="#000">normal−adjacent (n=140)</text>
<line x1="374.9" y1="351.7" x2="374.9" y2="367.7" stroke="#333" stroke-width="1.2"/>
<rect x="367.4" y="354.7" width="15" height="10" fill="#f5d6d6" stroke="#333" stroke-width="1.3"/>
<line x1="367.4" y1="359.7" x2="382.4" y2="359.7" stroke="#333" stroke-width="1.3"/>
<circle cx="374.9" cy="359.7" r="1" fill="#c0605f"/>
<text x="399.6" y="363.3" font-size="10.3" fill="#000">tumor (n=224)</text>
<line x1="355" y1="265" x2="355" y2="482" stroke="#333" stroke-width="1.5" stroke-dasharray="4.7,4.3"/>
<line x1="355" y1="758.6" x2="355" y2="946" stroke="#8a8a8a" stroke-width="1.8" stroke-dasharray="4.7,4.5"/>
<line x1="11.1" y1="607.3" x2="118" y2="607.3" stroke="#555" stroke-width="1.5" stroke-dasharray="5.4,4.3" stroke-dashoffset="6.8"/>
<line x1="570.5" y1="607.3" x2="673.5" y2="607.3" stroke="#555" stroke-width="1.5" stroke-dasharray="5.4,4.3"/>
<line x1="200.1" y1="483.5" x2="200.1" y2="705.7" stroke="#ebebeb" stroke-width="1"/>
<line x1="238.8" y1="483.5" x2="238.8" y2="705.7" stroke="#f5f5f5" stroke-width="0.6"/>
<line x1="277.5" y1="483.5" x2="277.5" y2="705.7" stroke="#ebebeb" stroke-width="1"/>
<line x1="316.2" y1="483.5" x2="316.2" y2="705.7" stroke="#f5f5f5" stroke-width="0.6"/>
<line x1="393.6" y1="483.5" x2="393.6" y2="705.7" stroke="#f5f5f5" stroke-width="0.6"/>
<line x1="432.3" y1="483.5" x2="432.3" y2="705.7" stroke="#ebebeb" stroke-width="1"/>
<line x1="471.0" y1="483.5" x2="471.0" y2="705.7" stroke="#f5f5f5" stroke-width="0.6"/>
<line x1="509.7" y1="483.5" x2="509.7" y2="705.7" stroke="#ebebeb" stroke-width="1"/>
<line x1="548.4" y1="483.5" x2="548.4" y2="705.7" stroke="#f5f5f5" stroke-width="0.6"/>
<line x1="181" y1="698.5" x2="570" y2="698.5" stroke="#ebebeb" stroke-width="1"/>
<line x1="181" y1="675.7" x2="570" y2="675.7" stroke="#f5f5f5" stroke-width="0.6"/>
<line x1="181" y1="652.9" x2="570" y2="652.9" stroke="#ebebeb" stroke-width="1"/>
<line x1="181" y1="630.1" x2="570" y2="630.1" stroke="#f5f5f5" stroke-width="0.6"/>
<line x1="181" y1="584.5" x2="570" y2="584.5" stroke="#f5f5f5" stroke-width="0.6"/>
<line x1="181" y1="561.7" x2="570" y2="561.7" stroke="#ebebeb" stroke-width="1"/>
<line x1="181" y1="538.9" x2="570" y2="538.9" stroke="#f5f5f5" stroke-width="0.6"/>
<line x1="181" y1="516.1" x2="570" y2="516.1" stroke="#ebebeb" stroke-width="1"/>
<line x1="181" y1="493.3" x2="570" y2="493.3" stroke="#f5f5f5" stroke-width="0.6"/>
<path fill="#0d0887" stroke="#0d0887" stroke-width="0.25" d="M293.6,541.4l1.75 .58v1.17l-1.75 .58l-1.75-.58v-1.17zM276.1,548.4l1.75 .58v1.17l-1.75 .58l-1.75-.58v-1.17zM263.9,550.1l1.75 .58v1.17l-1.75 .58l-1.75-.58v-1.17zM300.6,555.4l1.75 .58v1.17l-1.75 .58l-1.75-.58v-1.17zM311.1,555.4l1.75 .58v1.17l-1.75 .58l-1.75-.58v-1.17zM300.6,562.4l1.75 .58v1.17l-1.75 .58l-1.75-.58v-1.17zM398.6,562.4l1.75 .58v1.17l-1.75 .58l-1.75-.58v-1.17zM400.4,564.1l1.75 .58v1.17l-1.75 .58l-1.75-.58v-1.17zM307.6,565.9l1.75 .58v1.17l-1.75 .58l-1.75-.58v-1.17zM311.1,565.9l1.75 .58v1.17l-1.75 .58l-1.75-.58v-1.17zM381.1,565.9l1.75 .58v1.17l-1.75 .58l-1.75-.58v-1.17zM270.9,567.6l1.75 .58v1.17l-1.75 .58l-1.75-.58v-1.17zM305.9,567.6l1.75 .58v1.17l-1.75 .58l-1.75-.58v-1.17zM286.6,569.4l1.75 .58v1.17l-1.75 .58l-1.75-.58v-1.17zM307.6,569.4l1.75 .58v1.17l-1.75 .58l-1.75-.58v-1.17zM318.1,569.4l1.75 .58v1.17l-1.75 .58l-1.75-.58v-1.17zM381.1,569.4l1.75 .58v1.17l-1.75 .58l-1.75-.58v-1.17zM402.1,569.4l1.75 .58v1.17l-1.75 .58l-1.75-.58v-1.17zM412.6,569.4l1.75 .58v1.17l-1.75 .58l-1.75-.58v-1.17zM447.6,569.4l1.75 .58v1.17l-1.75 .58l-1.75-.58v-1.17zM309.4,571.1l1.75 .58v1.17l-1.75 .58l-1.75-.58v-1.17zM316.4,571.1l1.75 .58v1.17l-1.75 .58l-1.75-.58v-1.17zM319.9,571.1l1.75 .58v1.17l-1.75 .58l-1.75-.58v-1.17zM323.4,571.1l1.75 .58v1.17l-1.75 .58l-1.75-.58v-1.17zM337.4,571.1l1.75 .58v1.17l-1.75 .58l-1.75-.58v-1.17zM379.4,571.1l1.75 .58v1.17l-1.75 .58l-1.75-.58v-1.17zM386.4,571.1l1.75 .58v1.17l-1.75 .58l-1.75-.58v-1.17zM396.9,571.1l1.75 .58v1.17l-1.75 .58l-1.75-.58v-1.17zM400.4,571.1l1.75 .58v1.17l-1.75 .58l-1.75-.58v-1.17zM403.9,571.1l1.75 .58v1.17l-1.75 .58l-1.75-.58v-1.17zM407.4,571.1l1.75 .58v1.17l-1.75 .58l-1.75-.58v-1.17zM307.6,572.9l1.75 .58v1.17l-1.75 .58l-1.75-.58v-1.17zM384.6,572.9l1.75 .58v1.17l-1.75 .58l-1.75-.58v-1.17zM391.6,572.9l1.75 .58v1.17l-1.75 .58l-1.75-.58v-1.17zM402.1,572.9l1.75 .58v1.17l-1.75 .58l-1.75-.58v-1.17zM298.9,574.6l1.75 .58v1.17l-1.75 .58l-1.75-.58v-1.17zM309.4,574.6l1.75 .58v1.17l-1.75 .58l-1.75-.58v-1.17zM333.9,574.6l1.75 .58v1.17l-1.75 .58l-1.75-.58v-1.17zM393.4,574.6l1.75 .58v1.17l-1.75 .58l-1.75-.58v-1.17zM403.9,574.6l1.75 .58v1.17l-1.75 .58l-1.75-.58v-1.17zM407.4,574.6l1.75 .58v1.17l-1.75 .58l-1.75-.58v-1.17zM410.9,574.6l1.75 .58v1.17l-1.75 .58l-1.75-.58v-1.17zM414.4,574.6l1.75 .58v1.17l-1.75 .58l-1.75-.58v-1.17zM300.6,576.4l1.75 .58v1.17l-1.75 .58l-1.75-.58v-1.17zM321.6,576.4l1.75 .58v1.17l-1.75 .58l-1.75-.58v-1.17zM395.1,576.4l1.75 .58v1.17l-1.75 .58l-1.75-.58v-1.17zM405.6,576.4l1.75 .58v1.17l-1.75 .58l-1.75-.58v-1.17zM416.1,576.4l1.75 .58v1.17l-1.75 .58l-1.75-.58v-1.17zM302.4,578.1l1.75 .58v1.17l-1.75 .58l-1.75-.58v-1.17zM372.4,578.1l1.75 .58v1.17l-1.75 .58l-1.75-.58v-1.17zM393.4,578.1l1.75 .58v1.17l-1.75 .58l-1.75-.58v-1.17zM396.9,578.1l1.75 .58v1.17l-1.75 .58l-1.75-.58v-1.17zM410.9,578.1l1.75 .58v1.17l-1.75 .58l-1.75-.58v-1.17zM311.1,579.9l1.75 .58v1.17l-1.75 .58l-1.75-.58v-1.17zM314.6,579.9l1.75 .58v1.17l-1.75 .58l-1.75-.58v-1.17zM335.6,579.9l1.75 .58v1.17l-1.75 .58l-1.75-.58v-1.17zM342.6,579.9l1.75 .58v1.17l-1.75 .58l-1.75-.58v-1.17zM367.1,579.9l1.75 .58v1.17l-1.75 .58l-1.75-.58v-1.17zM374.1,579.9l1.75 .58v1.17l-1.75 .58l-1.75-.58v-1.17zM377.6,579.9l1.75 .58v1.17l-1.75 .58l-1.75-.58v-1.17zM381.1,579.9l1.75 .58v1.17l-1.75 .58l-1.75-.58v-1.17zM398.6,579.9l1.75 .58v1.17l-1.75 .58l-1.75-.58v-1.17zM405.6,579.9l1.75 .58v1.17l-1.75 .58l-1.75-.58v-1.17zM409.1,579.9l1.75 .58v1.17l-1.75 .58l-1.75-.58v-1.17zM295.4,581.6l1.75 .58v1.17l-1.75 .58l-1.75-.58v-1.17zM326.9,581.6l1.75 .58v1.17l-1.75 .58l-1.75-.58v-1.17zM337.4,581.6l1.75 .58v1.17l-1.75 .58l-1.75-.58v-1.17zM344.4,581.6l1.75 .58v1.17l-1.75 .58l-1.75-.58v-1.17zM368.9,581.6l1.75 .58v1.17l-1.75 .58l-1.75-.58v-1.17zM372.4,581.6l1.75 .58v1.17l-1.75 .58l-1.75-.58v-1.17zM379.4,581.6l1.75 .58v1.17l-1.75 .58l-1.75-.58v-1.17zM286.6,583.4l1.75 .58v1.17l-1.75 .58l-1.75-.58v-1.17zM300.6,583.4l1.75 .58v1.17l-1.75 .58l-1.75-.58v-1.17zM342.6,583.4l1.75 .58v1.17l-1.75 .58l-1.75-.58v-1.17zM281.4,585.1l1.75 .58v1.17l-1.75 .58l-1.75-.58v-1.17zM340.9,585.1l1.75 .58v1.17l-1.75 .58l-1.75-.58v-1.17zM407.4,585.1l1.75 .58v1.17l-1.75 .58l-1.75-.58v-1.17zM431.9,585.1l1.75 .58v1.17l-1.75 .58l-1.75-.58v-1.17zM438.9,585.1l1.75 .58v1.17l-1.75 .58l-1.75-.58v-1.17zM290.1,586.9l1.75 .58v1.17l-1.75 .58l-1.75-.58v-1.17zM297.1,586.9l1.75 .58v1.17l-1.75 .58l-1.75-.58v-1.17zM346.1,586.9l1.75 .58v1.17l-1.75 .58l-1.75-.58v-1.17zM363.6,586.9l1.75 .58v1.17l-1.75 .58l-1.75-.58v-1.17zM402.1,586.9l1.75 .58v1.17l-1.75 .58l-1.75-.58v-1.17zM344.4,588.6l1.75 .58v1.17l-1.75 .58l-1.75-.58v-1.17zM361.9,588.6l1.75 .58v1.17l-1.75 .58l-1.75-.58v-1.17zM403.9,588.6l1.75 .58v1.17l-1.75 .58l-1.75-.58v-1.17zM269.1,590.4l1.75 .58v1.17l-1.75 .58l-1.75-.58v-1.17zM286.6,590.4l1.75 .58v1.17l-1.75 .58l-1.75-.58v-1.17zM405.6,590.4l1.75 .58v1.17l-1.75 .58l-1.75-.58v-1.17zM302.4,592.1l1.75 .58v1.17l-1.75 .58l-1.75-.58v-1.17zM305.9,592.1l1.75 .58v1.17l-1.75 .58l-1.75-.58v-1.17zM452.9,592.1l1.75 .58v1.17l-1.75 .58l-1.75-.58v-1.17zM300.6,593.9l1.75 .58v1.17l-1.75 .58l-1.75-.58v-1.17zM314.6,593.9l1.75 .58v1.17l-1.75 .58l-1.75-.58v-1.17zM353.1,593.9l1.75 .58v1.17l-1.75 .58l-1.75-.58v-1.17zM398.6,593.9l1.75 .58v1.17l-1.75 .58l-1.75-.58v-1.17zM295.4,595.6l1.75 .58v1.17l-1.75 .58l-1.75-.58v-1.17zM316.4,595.6l1.75 .58v1.17l-1.75 .58l-1.75-.58v-1.17zM403.9,595.6l1.75 .58v1.17l-1.75 .58l-1.75-.58v-1.17zM407.4,595.6l1.75 .58v1.17l-1.75 .58l-1.75-.58v-1.17zM307.6,597.4l1.75 .58v1.17l-1.75 .58l-1.75-.58v-1.17zM356.6,597.4l1.75 .58v1.17l-1.75 .58l-1.75-.58v-1.17zM391.6,597.4l1.75 .58v1.17l-1.75 .58l-1.75-.58v-1.17zM398.6,597.4l1.75 .58v1.17l-1.75 .58l-1.75-.58v-1.17zM405.6,597.4l1.75 .58v1.17l-1.75 .58l-1.75-.58v-1.17zM409.1,597.4l1.75 .58v1.17l-1.75 .58l-1.75-.58v-1.17zM302.4,599.1l1.75 .58v1.17l-1.75 .58l-1.75-.58v-1.17zM312.9,599.1l1.75 .58v1.17l-1.75 .58l-1.75-.58v-1.17zM393.4,599.1l1.75 .58v1.17l-1.75 .58l-1.75-.58v-1.17zM403.9,599.1l1.75 .58v1.17l-1.75 .58l-1.75-.58v-1.17zM407.4,599.1l1.75 .58v1.17l-1.75 .58l-1.75-.58v-1.17zM290.1,600.9l1.75 .58v1.17l-1.75 .58l-1.75-.58v-1.17zM304.1,600.9l1.75 .58v1.17l-1.75 .58l-1.75-.58v-1.17zM314.6,600.9l1.75 .58v1.17l-1.75 .58l-1.75-.58v-1.17zM402.1,600.9l1.75 .58v1.17l-1.75 .58l-1.75-.58v-1.17zM309.4,602.6l1.75 .58v1.17l-1.75 .58l-1.75-.58v-1.17zM312.9,602.6l1.75 .58v1.17l-1.75 .58l-1.75-.58v-1.17zM393.4,602.6l1.75 .58v1.17l-1.75 .58l-1.75-.58v-1.17zM396.9,602.6l1.75 .58v1.17l-1.75 .58l-1.75-.58v-1.17zM367.1,604.4l1.75 .58v1.17l-1.75 .58l-1.75-.58v-1.17zM374.1,604.4l1.75 .58v1.17l-1.75 .58l-1.75-.58v-1.17zM284.9,606.1l1.75 .58v1.17l-1.75 .58l-1.75-.58v-1.17zM302.4,606.1l1.75 .58v1.17l-1.75 .58l-1.75-.58v-1.17zM305.9,606.1l1.75 .58v1.17l-1.75 .58l-1.75-.58v-1.17zM400.4,606.1l1.75 .58v1.17l-1.75 .58l-1.75-.58v-1.17zM403.9,606.1l1.75 .58v1.17l-1.75 .58l-1.75-.58v-1.17zM279.6,607.9l1.75 .58v1.17l-1.75 .58l-1.75-.58v-1.17zM304.1,607.9l1.75 .58v1.17l-1.75 .58l-1.75-.58v-1.17zM307.6,607.9l1.75 .58v1.17l-1.75 .58l-1.75-.58v-1.17zM311.1,607.9l1.75 .58v1.17l-1.75 .58l-1.75-.58v-1.17zM391.6,607.9l1.75 .58v1.17l-1.75 .58l-1.75-.58v-1.17zM291.9,609.6l1.75 .58v1.17l-1.75 .58l-1.75-.58v-1.17zM396.9,609.6l1.75 .58v1.17l-1.75 .58l-1.75-.58v-1.17zM407.4,609.6l1.75 .58v1.17l-1.75 .58l-1.75-.58v-1.17zM297.1,611.4l1.75 .58v1.17l-1.75 .58l-1.75-.58v-1.17zM304.1,611.4l1.75 .58v1.17l-1.75 .58l-1.75-.58v-1.17zM395.1,611.4l1.75 .58v1.17l-1.75 .58l-1.75-.58v-1.17zM398.6,611.4l1.75 .58v1.17l-1.75 .58l-1.75-.58v-1.17zM291.9,613.1l1.75 .58v1.17l-1.75 .58l-1.75-.58v-1.17zM295.4,613.1l1.75 .58v1.17l-1.75 .58l-1.75-.58v-1.17zM396.9,613.1l1.75 .58v1.17l-1.75 .58l-1.75-.58v-1.17zM407.4,613.1l1.75 .58v1.17l-1.75 .58l-1.75-.58v-1.17zM262.1,614.9l1.75 .58v1.17l-1.75 .58l-1.75-.58v-1.17zM286.6,614.9l1.75 .58v1.17l-1.75 .58l-1.75-.58v-1.17zM290.1,614.9l1.75 .58v1.17l-1.75 .58l-1.75-.58v-1.17zM297.1,614.9l1.75 .58v1.17l-1.75 .58l-1.75-.58v-1.17zM402.1,614.9l1.75 .58v1.17l-1.75 .58l-1.75-.58v-1.17zM288.4,616.6l1.75 .58v1.17l-1.75 .58l-1.75-.58v-1.17zM291.9,616.6l1.75 .58v1.17l-1.75 .58l-1.75-.58v-1.17zM295.4,616.6l1.75 .58v1.17l-1.75 .58l-1.75-.58v-1.17zM302.4,616.6l1.75 .58v1.17l-1.75 .58l-1.75-.58v-1.17zM400.4,616.6l1.75 .58v1.17l-1.75 .58l-1.75-.58v-1.17zM403.9,616.6l1.75 .58v1.17l-1.75 .58l-1.75-.58v-1.17zM405.6,618.4l1.75 .58v1.17l-1.75 .58l-1.75-.58v-1.17zM409.1,618.4l1.75 .58v1.17l-1.75 .58l-1.75-.58v-1.17zM288.4,620.1l1.75 .58v1.17l-1.75 .58l-1.75-.58v-1.17zM298.9,620.1l1.75 .58v1.17l-1.75 .58l-1.75-.58v-1.17zM354.9,620.1l1.75 .58v1.17l-1.75 .58l-1.75-.58v-1.17zM407.4,620.1l1.75 .58v1.17l-1.75 .58l-1.75-.58v-1.17zM410.9,620.1l1.75 .58v1.17l-1.75 .58l-1.75-.58v-1.17zM417.9,620.1l1.75 .58v1.17l-1.75 .58l-1.75-.58v-1.17zM353.1,621.9l1.75 .58v1.17l-1.75 .58l-1.75-.58v-1.17zM409.1,621.9l1.75 .58v1.17l-1.75 .58l-1.75-.58v-1.17zM246.4,623.6l1.75 .58v1.17l-1.75 .58l-1.75-.58v-1.17zM263.9,623.6l1.75 .58v1.17l-1.75 .58l-1.75-.58v-1.17zM281.4,623.6l1.75 .58v1.17l-1.75 .58l-1.75-.58v-1.17zM298.9,623.6l1.75 .58v1.17l-1.75 .58l-1.75-.58v-1.17zM351.4,623.6l1.75 .58v1.17l-1.75 .58l-1.75-.58v-1.17zM421.4,623.6l1.75 .58v1.17l-1.75 .58l-1.75-.58v-1.17zM428.4,623.6l1.75 .58v1.17l-1.75 .58l-1.75-.58v-1.17zM251.6,625.4l1.75 .58v1.17l-1.75 .58l-1.75-.58v-1.17zM286.6,625.4l1.75 .58v1.17l-1.75 .58l-1.75-.58v-1.17zM349.6,625.4l1.75 .58v1.17l-1.75 .58l-1.75-.58v-1.17zM409.1,625.4l1.75 .58v1.17l-1.75 .58l-1.75-.58v-1.17zM274.4,627.1l1.75 .58v1.17l-1.75 .58l-1.75-.58v-1.17zM288.4,627.1l1.75 .58v1.17l-1.75 .58l-1.75-.58v-1.17zM295.4,627.1l1.75 .58v1.17l-1.75 .58l-1.75-.58v-1.17zM358.4,627.1l1.75 .58v1.17l-1.75 .58l-1.75-.58v-1.17zM410.9,627.1l1.75 .58v1.17l-1.75 .58l-1.75-.58v-1.17zM414.4,627.1l1.75 .58v1.17l-1.75 .58l-1.75-.58v-1.17zM283.1,628.9l1.75 .58v1.17l-1.75 .58l-1.75-.58v-1.17zM290.1,628.9l1.75 .58v1.17l-1.75 .58l-1.75-.58v-1.17zM346.1,628.9l1.75 .58v1.17l-1.75 .58l-1.75-.58v-1.17zM349.6,628.9l1.75 .58v1.17l-1.75 .58l-1.75-.58v-1.17zM360.1,628.9l1.75 .58v1.17l-1.75 .58l-1.75-.58v-1.17zM409.1,628.9l1.75 .58v1.17l-1.75 .58l-1.75-.58v-1.17zM412.6,628.9l1.75 .58v1.17l-1.75 .58l-1.75-.58v-1.17zM416.1,628.9l1.75 .58v1.17l-1.75 .58l-1.75-.58v-1.17zM426.6,628.9l1.75 .58v1.17l-1.75 .58l-1.75-.58v-1.17zM281.4,630.6l1.75 .58v1.17l-1.75 .58l-1.75-.58v-1.17zM295.4,630.6l1.75 .58v1.17l-1.75 .58l-1.75-.58v-1.17zM344.4,630.6l1.75 .58v1.17l-1.75 .58l-1.75-.58v-1.17zM283.1,632.4l1.75 .58v1.17l-1.75 .58l-1.75-.58v-1.17zM297.1,632.4l1.75 .58v1.17l-1.75 .58l-1.75-.58v-1.17zM346.1,632.4l1.75 .58v1.17l-1.75 .58l-1.75-.58v-1.17zM412.6,632.4l1.75 .58v1.17l-1.75 .58l-1.75-.58v-1.17zM270.9,634.1l1.75 .58v1.17l-1.75 .58l-1.75-.58v-1.17zM274.4,634.1l1.75 .58v1.17l-1.75 .58l-1.75-.58v-1.17zM277.9,634.1l1.75 .58v1.17l-1.75 .58l-1.75-.58v-1.17zM284.9,634.1l1.75 .58v1.17l-1.75 .58l-1.75-.58v-1.17zM344.4,634.1l1.75 .58v1.17l-1.75 .58l-1.75-.58v-1.17zM361.9,634.1l1.75 .58v1.17l-1.75 .58l-1.75-.58v-1.17zM251.6,635.9l1.75 .58v1.17l-1.75 .58l-1.75-.58v-1.17zM286.6,635.9l1.75 .58v1.17l-1.75 .58l-1.75-.58v-1.17zM297.1,635.9l1.75 .58v1.17l-1.75 .58l-1.75-.58v-1.17zM409.1,635.9l1.75 .58v1.17l-1.75 .58l-1.75-.58v-1.17zM426.6,635.9l1.75 .58v1.17l-1.75 .58l-1.75-.58v-1.17zM291.9,637.6l1.75 .58v1.17l-1.75 .58l-1.75-.58v-1.17zM368.9,637.6l1.75 .58v1.17l-1.75 .58l-1.75-.58v-1.17zM410.9,637.6l1.75 .58v1.17l-1.75 .58l-1.75-.58v-1.17zM417.9,637.6l1.75 .58v1.17l-1.75 .58l-1.75-.58v-1.17zM279.6,639.4l1.75 .58v1.17l-1.75 .58l-1.75-.58v-1.17zM339.1,639.4l1.75 .58v1.17l-1.75 .58l-1.75-.58v-1.17zM409.1,639.4l1.75 .58v1.17l-1.75 .58l-1.75-.58v-1.17zM412.6,639.4l1.75 .58v1.17l-1.75 .58l-1.75-.58v-1.17zM416.1,639.4l1.75 .58v1.17l-1.75 .58l-1.75-.58v-1.17zM419.6,639.4l1.75 .58v1.17l-1.75 .58l-1.75-.58v-1.17zM423.1,639.4l1.75 .58v1.17l-1.75 .58l-1.75-.58v-1.17zM426.6,639.4l1.75 .58v1.17l-1.75 .58l-1.75-.58v-1.17zM274.4,641.1l1.75 .58v1.17l-1.75 .58l-1.75-.58v-1.17zM291.9,641.1l1.75 .58v1.17l-1.75 .58l-1.75-.58v-1.17zM295.4,641.1l1.75 .58v1.17l-1.75 .58l-1.75-.58v-1.17zM368.9,641.1l1.75 .58v1.17l-1.75 .58l-1.75-.58v-1.17zM410.9,641.1l1.75 .58v1.17l-1.75 .58l-1.75-.58v-1.17zM417.9,641.1l1.75 .58v1.17l-1.75 .58l-1.75-.58v-1.17zM332.1,642.9l1.75 .58v1.17l-1.75 .58l-1.75-.58v-1.17zM367.1,642.9l1.75 .58v1.17l-1.75 .58l-1.75-.58v-1.17zM419.6,642.9l1.75 .58v1.17l-1.75 .58l-1.75-.58v-1.17zM437.1,642.9l1.75 .58v1.17l-1.75 .58l-1.75-.58v-1.17zM454.6,642.9l1.75 .58v1.17l-1.75 .58l-1.75-.58v-1.17zM274.4,644.6l1.75 .58v1.17l-1.75 .58l-1.75-.58v-1.17zM302.4,644.6l1.75 .58v1.17l-1.75 .58l-1.75-.58v-1.17zM309.4,644.6l1.75 .58v1.17l-1.75 .58l-1.75-.58v-1.17zM340.9,644.6l1.75 .58v1.17l-1.75 .58l-1.75-.58v-1.17zM361.9,644.6l1.75 .58v1.17l-1.75 .58l-1.75-.58v-1.17zM372.4,644.6l1.75 .58v1.17l-1.75 .58l-1.75-.58v-1.17zM403.9,644.6l1.75 .58v1.17l-1.75 .58l-1.75-.58v-1.17zM407.4,644.6l1.75 .58v1.17l-1.75 .58l-1.75-.58v-1.17zM417.9,644.6l1.75 .58v1.17l-1.75 .58l-1.75-.58v-1.17zM421.4,644.6l1.75 .58v1.17l-1.75 .58l-1.75-.58v-1.17zM463.4,644.6l1.75 .58v1.17l-1.75 .58l-1.75-.58v-1.17zM283.1,646.4l1.75 .58v1.17l-1.75 .58l-1.75-.58v-1.17zM293.6,646.4l1.75 .58v1.17l-1.75 .58l-1.75-.58v-1.17zM297.1,646.4l1.75 .58v1.17l-1.75 .58l-1.75-.58v-1.17zM307.6,646.4l1.75 .58v1.17l-1.75 .58l-1.75-.58v-1.17zM318.1,646.4l1.75 .58v1.17l-1.75 .58l-1.75-.58v-1.17zM325.1,646.4l1.75 .58v1.17l-1.75 .58l-1.75-.58v-1.17zM328.6,646.4l1.75 .58v1.17l-1.75 .58l-1.75-.58v-1.17zM332.1,646.4l1.75 .58v1.17l-1.75 .58l-1.75-.58v-1.17zM335.6,646.4l1.75 .58v1.17l-1.75 .58l-1.75-.58v-1.17zM370.6,646.4l1.75 .58v1.17l-1.75 .58l-1.75-.58v-1.17zM374.1,646.4l1.75 .58v1.17l-1.75 .58l-1.75-.58v-1.17zM391.6,646.4l1.75 .58v1.17l-1.75 .58l-1.75-.58v-1.17zM409.1,646.4l1.75 .58v1.17l-1.75 .58l-1.75-.58v-1.17zM416.1,646.4l1.75 .58v1.17l-1.75 .58l-1.75-.58v-1.17zM419.6,646.4l1.75 .58v1.17l-1.75 .58l-1.75-.58v-1.17zM281.4,648.1l1.75 .58v1.17l-1.75 .58l-1.75-.58v-1.17zM379.4,648.1l1.75 .58v1.17l-1.75 .58l-1.75-.58v-1.17zM421.4,648.1l1.75 .58v1.17l-1.75 .58l-1.75-.58v-1.17zM262.1,649.9l1.75 .58v1.17l-1.75 .58l-1.75-.58v-1.17zM283.1,649.9l1.75 .58v1.17l-1.75 .58l-1.75-.58v-1.17zM286.6,649.9l1.75 .58v1.17l-1.75 .58l-1.75-.58v-1.17zM297.1,649.9l1.75 .58v1.17l-1.75 .58l-1.75-.58v-1.17zM300.6,649.9l1.75 .58v1.17l-1.75 .58l-1.75-.58v-1.17zM311.1,649.9l1.75 .58v1.17l-1.75 .58l-1.75-.58v-1.17zM384.6,649.9l1.75 .58v1.17l-1.75 .58l-1.75-.58v-1.17zM398.6,649.9l1.75 .58v1.17l-1.75 .58l-1.75-.58v-1.17zM405.6,649.9l1.75 .58v1.17l-1.75 .58l-1.75-.58v-1.17zM412.6,649.9l1.75 .58v1.17l-1.75 .58l-1.75-.58v-1.17zM426.6,649.9l1.75 .58v1.17l-1.75 .58l-1.75-.58v-1.17zM284.9,651.6l1.75 .58v1.17l-1.75 .58l-1.75-.58v-1.17zM302.4,651.6l1.75 .58v1.17l-1.75 .58l-1.75-.58v-1.17zM316.4,651.6l1.75 .58v1.17l-1.75 .58l-1.75-.58v-1.17zM319.9,651.6l1.75 .58v1.17l-1.75 .58l-1.75-.58v-1.17zM379.4,651.6l1.75 .58v1.17l-1.75 .58l-1.75-.58v-1.17zM382.9,651.6l1.75 .58v1.17l-1.75 .58l-1.75-.58v-1.17zM389.9,651.6l1.75 .58v1.17l-1.75 .58l-1.75-.58v-1.17zM403.9,651.6l1.75 .58v1.17l-1.75 .58l-1.75-.58v-1.17zM414.4,651.6l1.75 .58v1.17l-1.75 .58l-1.75-.58v-1.17zM417.9,651.6l1.75 .58v1.17l-1.75 .58l-1.75-.58v-1.17zM262.1,653.4l1.75 .58v1.17l-1.75 .58l-1.75-.58v-1.17zM286.6,653.4l1.75 .58v1.17l-1.75 .58l-1.75-.58v-1.17zM290.1,653.4l1.75 .58v1.17l-1.75 .58l-1.75-.58v-1.17zM293.6,653.4l1.75 .58v1.17l-1.75 .58l-1.75-.58v-1.17zM300.6,653.4l1.75 .58v1.17l-1.75 .58l-1.75-.58v-1.17zM304.1,653.4l1.75 .58v1.17l-1.75 .58l-1.75-.58v-1.17zM307.6,653.4l1.75 .58v1.17l-1.75 .58l-1.75-.58v-1.17zM311.1,653.4l1.75 .58v1.17l-1.75 .58l-1.75-.58v-1.17zM321.6,653.4l1.75 .58v1.17l-1.75 .58l-1.75-.58v-1.17zM391.6,653.4l1.75 .58v1.17l-1.75 .58l-1.75-.58v-1.17zM398.6,653.4l1.75 .58v1.17l-1.75 .58l-1.75-.58v-1.17zM402.1,653.4l1.75 .58v1.17l-1.75 .58l-1.75-.58v-1.17zM409.1,653.4l1.75 .58v1.17l-1.75 .58l-1.75-.58v-1.17zM260.4,655.1l1.75 .58v1.17l-1.75 .58l-1.75-.58v-1.17zM305.9,655.1l1.75 .58v1.17l-1.75 .58l-1.75-.58v-1.17zM309.4,655.1l1.75 .58v1.17l-1.75 .58l-1.75-.58v-1.17zM372.4,655.1l1.75 .58v1.17l-1.75 .58l-1.75-.58v-1.17zM382.9,655.1l1.75 .58v1.17l-1.75 .58l-1.75-.58v-1.17zM393.4,655.1l1.75 .58v1.17l-1.75 .58l-1.75-.58v-1.17zM400.4,655.1l1.75 .58v1.17l-1.75 .58l-1.75-.58v-1.17zM407.4,655.1l1.75 .58v1.17l-1.75 .58l-1.75-.58v-1.17zM276.1,656.9l1.75 .58v1.17l-1.75 .58l-1.75-.58v-1.17zM290.1,656.9l1.75 .58v1.17l-1.75 .58l-1.75-.58v-1.17zM300.6,656.9l1.75 .58v1.17l-1.75 .58l-1.75-.58v-1.17zM318.1,656.9l1.75 .58v1.17l-1.75 .58l-1.75-.58v-1.17zM325.1,656.9l1.75 .58v1.17l-1.75 .58l-1.75-.58v-1.17zM332.1,656.9l1.75 .58v1.17l-1.75 .58l-1.75-.58v-1.17zM384.6,656.9l1.75 .58v1.17l-1.75 .58l-1.75-.58v-1.17zM398.6,656.9l1.75 .58v1.17l-1.75 .58l-1.75-.58v-1.17zM405.6,656.9l1.75 .58v1.17l-1.75 .58l-1.75-.58v-1.17zM295.4,658.6l1.75 .58v1.17l-1.75 .58l-1.75-.58v-1.17zM298.9,658.6l1.75 .58v1.17l-1.75 .58l-1.75-.58v-1.17zM319.9,658.6l1.75 .58v1.17l-1.75 .58l-1.75-.58v-1.17zM428.4,658.6l1.75 .58v1.17l-1.75 .58l-1.75-.58v-1.17zM241.1,660.4l1.75 .58v1.17l-1.75 .58l-1.75-.58v-1.17zM290.1,660.4l1.75 .58v1.17l-1.75 .58l-1.75-.58v-1.17zM314.6,660.4l1.75 .58v1.17l-1.75 .58l-1.75-.58v-1.17zM412.6,660.4l1.75 .58v1.17l-1.75 .58l-1.75-.58v-1.17zM281.4,662.1l1.75 .58v1.17l-1.75 .58l-1.75-.58v-1.17zM309.4,662.1l1.75 .58v1.17l-1.75 .58l-1.75-.58v-1.17zM389.9,662.1l1.75 .58v1.17l-1.75 .58l-1.75-.58v-1.17zM407.4,662.1l1.75 .58v1.17l-1.75 .58l-1.75-.58v-1.17zM414.4,662.1l1.75 .58v1.17l-1.75 .58l-1.75-.58v-1.17zM290.1,663.9l1.75 .58v1.17l-1.75 .58l-1.75-.58v-1.17zM314.6,663.9l1.75 .58v1.17l-1.75 .58l-1.75-.58v-1.17zM395.1,663.9l1.75 .58v1.17l-1.75 .58l-1.75-.58v-1.17zM409.1,663.9l1.75 .58v1.17l-1.75 .58l-1.75-.58v-1.17zM396.9,665.6l1.75 .58v1.17l-1.75 .58l-1.75-.58v-1.17zM417.9,665.6l1.75 .58v1.17l-1.75 .58l-1.75-.58v-1.17zM396.9,669.1l1.75 .58v1.17l-1.75 .58l-1.75-.58v-1.17zM395.1,670.9l1.75 .58v1.17l-1.75 .58l-1.75-.58v-1.17zM403.9,676.1l1.75 .58v1.17l-1.75 .58l-1.75-.58v-1.17zM265.6,677.9l1.75 .58v1.17l-1.75 .58l-1.75-.58v-1.17zM258.6,681.4l1.75 .58v1.17l-1.75 .58l-1.75-.58v-1.17zM367.1,681.4l1.75 .58v1.17l-1.75 .58l-1.75-.58v-1.17zM288.4,690.1l1.75 .58v1.17l-1.75 .58l-1.75-.58v-1.17z"/>
<path fill="#0f0888" stroke="#0f0888" stroke-width="0.25" d="M297.1,565.9l1.75 .58v1.17l-1.75 .58l-1.75-.58v-1.17zM309.4,567.6l1.75 .58v1.17l-1.75 .58l-1.75-.58v-1.17zM304.1,569.4l1.75 .58v1.17l-1.75 .58l-1.75-.58v-1.17zM405.6,569.4l1.75 .58v1.17l-1.75 .58l-1.75-.58v-1.17zM321.6,572.9l1.75 .58v1.17l-1.75 .58l-1.75-.58v-1.17zM395.1,572.9l1.75 .58v1.17l-1.75 .58l-1.75-.58v-1.17zM405.6,572.9l1.75 .58v1.17l-1.75 .58l-1.75-.58v-1.17zM302.4,574.6l1.75 .58v1.17l-1.75 .58l-1.75-.58v-1.17zM384.6,576.4l1.75 .58v1.17l-1.75 .58l-1.75-.58v-1.17zM388.1,576.4l1.75 .58v1.17l-1.75 .58l-1.75-.58v-1.17zM391.6,576.4l1.75 .58v1.17l-1.75 .58l-1.75-.58v-1.17zM398.6,576.4l1.75 .58v1.17l-1.75 .58l-1.75-.58v-1.17zM402.1,576.4l1.75 .58v1.17l-1.75 .58l-1.75-.58v-1.17zM305.9,578.1l1.75 .58v1.17l-1.75 .58l-1.75-.58v-1.17zM312.9,578.1l1.75 .58v1.17l-1.75 .58l-1.75-.58v-1.17zM316.4,578.1l1.75 .58v1.17l-1.75 .58l-1.75-.58v-1.17zM323.4,578.1l1.75 .58v1.17l-1.75 .58l-1.75-.58v-1.17zM400.4,578.1l1.75 .58v1.17l-1.75 .58l-1.75-.58v-1.17zM307.6,579.9l1.75 .58v1.17l-1.75 .58l-1.75-.58v-1.17zM321.6,579.9l1.75 .58v1.17l-1.75 .58l-1.75-.58v-1.17zM384.6,579.9l1.75 .58v1.17l-1.75 .58l-1.75-.58v-1.17zM391.6,579.9l1.75 .58v1.17l-1.75 .58l-1.75-.58v-1.17zM402.1,579.9l1.75 .58v1.17l-1.75 .58l-1.75-.58v-1.17zM330.4,581.6l1.75 .58v1.17l-1.75 .58l-1.75-.58v-1.17zM307.6,583.4l1.75 .58v1.17l-1.75 .58l-1.75-.58v-1.17zM311.1,583.4l1.75 .58v1.17l-1.75 .58l-1.75-.58v-1.17zM321.6,583.4l1.75 .58v1.17l-1.75 .58l-1.75-.58v-1.17zM402.1,583.4l1.75 .58v1.17l-1.75 .58l-1.75-.58v-1.17zM400.4,585.1l1.75 .58v1.17l-1.75 .58l-1.75-.58v-1.17zM403.9,585.1l1.75 .58v1.17l-1.75 .58l-1.75-.58v-1.17zM339.1,586.9l1.75 .58v1.17l-1.75 .58l-1.75-.58v-1.17zM416.1,586.9l1.75 .58v1.17l-1.75 .58l-1.75-.58v-1.17zM305.9,588.6l1.75 .58v1.17l-1.75 .58l-1.75-.58v-1.17zM319.9,588.6l1.75 .58v1.17l-1.75 .58l-1.75-.58v-1.17zM365.4,588.6l1.75 .58v1.17l-1.75 .58l-1.75-.58v-1.17zM307.6,590.4l1.75 .58v1.17l-1.75 .58l-1.75-.58v-1.17zM309.4,592.1l1.75 .58v1.17l-1.75 .58l-1.75-.58v-1.17zM400.4,592.1l1.75 .58v1.17l-1.75 .58l-1.75-.58v-1.17zM403.9,592.1l1.75 .58v1.17l-1.75 .58l-1.75-.58v-1.17zM311.1,593.9l1.75 .58v1.17l-1.75 .58l-1.75-.58v-1.17zM402.1,593.9l1.75 .58v1.17l-1.75 .58l-1.75-.58v-1.17zM309.4,595.6l1.75 .58v1.17l-1.75 .58l-1.75-.58v-1.17zM311.1,597.4l1.75 .58v1.17l-1.75 .58l-1.75-.58v-1.17zM309.4,599.1l1.75 .58v1.17l-1.75 .58l-1.75-.58v-1.17zM319.9,599.1l1.75 .58v1.17l-1.75 .58l-1.75-.58v-1.17zM396.9,599.1l1.75 .58v1.17l-1.75 .58l-1.75-.58v-1.17zM316.4,602.6l1.75 .58v1.17l-1.75 .58l-1.75-.58v-1.17zM389.9,602.6l1.75 .58v1.17l-1.75 .58l-1.75-.58v-1.17zM335.6,604.4l1.75 .58v1.17l-1.75 .58l-1.75-.58v-1.17zM363.6,604.4l1.75 .58v1.17l-1.75 .58l-1.75-.58v-1.17zM312.9,606.1l1.75 .58v1.17l-1.75 .58l-1.75-.58v-1.17zM386.4,606.1l1.75 .58v1.17l-1.75 .58l-1.75-.58v-1.17zM300.6,607.9l1.75 .58v1.17l-1.75 .58l-1.75-.58v-1.17zM388.1,607.9l1.75 .58v1.17l-1.75 .58l-1.75-.58v-1.17zM295.4,609.6l1.75 .58v1.17l-1.75 .58l-1.75-.58v-1.17zM302.4,609.6l1.75 .58v1.17l-1.75 .58l-1.75-.58v-1.17zM312.9,609.6l1.75 .58v1.17l-1.75 .58l-1.75-.58v-1.17zM300.6,611.4l1.75 .58v1.17l-1.75 .58l-1.75-.58v-1.17zM311.1,611.4l1.75 .58v1.17l-1.75 .58l-1.75-.58v-1.17zM388.1,611.4l1.75 .58v1.17l-1.75 .58l-1.75-.58v-1.17zM288.4,613.1l1.75 .58v1.17l-1.75 .58l-1.75-.58v-1.17zM398.6,614.9l1.75 .58v1.17l-1.75 .58l-1.75-.58v-1.17zM409.1,614.9l1.75 .58v1.17l-1.75 .58l-1.75-.58v-1.17zM286.6,618.4l1.75 .58v1.17l-1.75 .58l-1.75-.58v-1.17zM297.1,618.4l1.75 .58v1.17l-1.75 .58l-1.75-.58v-1.17zM300.6,618.4l1.75 .58v1.17l-1.75 .58l-1.75-.58v-1.17zM402.1,618.4l1.75 .58v1.17l-1.75 .58l-1.75-.58v-1.17zM291.9,620.1l1.75 .58v1.17l-1.75 .58l-1.75-.58v-1.17zM402.1,621.9l1.75 .58v1.17l-1.75 .58l-1.75-.58v-1.17zM407.4,623.6l1.75 .58v1.17l-1.75 .58l-1.75-.58v-1.17zM410.9,623.6l1.75 .58v1.17l-1.75 .58l-1.75-.58v-1.17zM297.1,625.4l1.75 .58v1.17l-1.75 .58l-1.75-.58v-1.17zM356.6,625.4l1.75 .58v1.17l-1.75 .58l-1.75-.58v-1.17zM277.9,627.1l1.75 .58v1.17l-1.75 .58l-1.75-.58v-1.17zM298.9,627.1l1.75 .58v1.17l-1.75 .58l-1.75-.58v-1.17zM286.6,628.9l1.75 .58v1.17l-1.75 .58l-1.75-.58v-1.17zM304.1,628.9l1.75 .58v1.17l-1.75 .58l-1.75-.58v-1.17zM284.9,630.6l1.75 .58v1.17l-1.75 .58l-1.75-.58v-1.17zM291.9,630.6l1.75 .58v1.17l-1.75 .58l-1.75-.58v-1.17zM400.4,630.6l1.75 .58v1.17l-1.75 .58l-1.75-.58v-1.17zM414.4,630.6l1.75 .58v1.17l-1.75 .58l-1.75-.58v-1.17zM286.6,632.4l1.75 .58v1.17l-1.75 .58l-1.75-.58v-1.17zM293.6,632.4l1.75 .58v1.17l-1.75 .58l-1.75-.58v-1.17zM300.6,632.4l1.75 .58v1.17l-1.75 .58l-1.75-.58v-1.17zM291.9,634.1l1.75 .58v1.17l-1.75 .58l-1.75-.58v-1.17zM298.9,634.1l1.75 .58v1.17l-1.75 .58l-1.75-.58v-1.17zM293.6,635.9l1.75 .58v1.17l-1.75 .58l-1.75-.58v-1.17zM342.6,635.9l1.75 .58v1.17l-1.75 .58l-1.75-.58v-1.17zM346.1,635.9l1.75 .58v1.17l-1.75 .58l-1.75-.58v-1.17zM363.6,635.9l1.75 .58v1.17l-1.75 .58l-1.75-.58v-1.17zM340.9,637.6l1.75 .58v1.17l-1.75 .58l-1.75-.58v-1.17zM365.4,637.6l1.75 .58v1.17l-1.75 .58l-1.75-.58v-1.17zM403.9,637.6l1.75 .58v1.17l-1.75 .58l-1.75-.58v-1.17zM407.4,637.6l1.75 .58v1.17l-1.75 .58l-1.75-.58v-1.17zM293.6,639.4l1.75 .58v1.17l-1.75 .58l-1.75-.58v-1.17zM297.1,639.4l1.75 .58v1.17l-1.75 .58l-1.75-.58v-1.17zM304.1,639.4l1.75 .58v1.17l-1.75 .58l-1.75-.58v-1.17zM337.4,641.1l1.75 .58v1.17l-1.75 .58l-1.75-.58v-1.17zM297.1,642.9l1.75 .58v1.17l-1.75 .58l-1.75-.58v-1.17zM300.6,642.9l1.75 .58v1.17l-1.75 .58l-1.75-.58v-1.17zM304.1,642.9l1.75 .58v1.17l-1.75 .58l-1.75-.58v-1.17zM314.6,642.9l1.75 .58v1.17l-1.75 .58l-1.75-.58v-1.17zM318.1,642.9l1.75 .58v1.17l-1.75 .58l-1.75-.58v-1.17zM335.6,642.9l1.75 .58v1.17l-1.75 .58l-1.75-.58v-1.17zM381.1,642.9l1.75 .58v1.17l-1.75 .58l-1.75-.58v-1.17zM402.1,642.9l1.75 .58v1.17l-1.75 .58l-1.75-.58v-1.17zM412.6,642.9l1.75 .58v1.17l-1.75 .58l-1.75-.58v-1.17zM291.9,644.6l1.75 .58v1.17l-1.75 .58l-1.75-.58v-1.17zM298.9,644.6l1.75 .58v1.17l-1.75 .58l-1.75-.58v-1.17zM316.4,644.6l1.75 .58v1.17l-1.75 .58l-1.75-.58v-1.17zM330.4,644.6l1.75 .58v1.17l-1.75 .58l-1.75-.58v-1.17zM379.4,644.6l1.75 .58v1.17l-1.75 .58l-1.75-.58v-1.17zM400.4,644.6l1.75 .58v1.17l-1.75 .58l-1.75-.58v-1.17zM410.9,644.6l1.75 .58v1.17l-1.75 .58l-1.75-.58v-1.17zM414.4,644.6l1.75 .58v1.17l-1.75 .58l-1.75-.58v-1.17zM304.1,646.4l1.75 .58v1.17l-1.75 .58l-1.75-.58v-1.17zM384.6,646.4l1.75 .58v1.17l-1.75 .58l-1.75-.58v-1.17zM405.6,646.4l1.75 .58v1.17l-1.75 .58l-1.75-.58v-1.17zM291.9,648.1l1.75 .58v1.17l-1.75 .58l-1.75-.58v-1.17zM323.4,648.1l1.75 .58v1.17l-1.75 .58l-1.75-.58v-1.17zM393.4,648.1l1.75 .58v1.17l-1.75 .58l-1.75-.58v-1.17zM396.9,648.1l1.75 .58v1.17l-1.75 .58l-1.75-.58v-1.17zM403.9,648.1l1.75 .58v1.17l-1.75 .58l-1.75-.58v-1.17zM414.4,648.1l1.75 .58v1.17l-1.75 .58l-1.75-.58v-1.17zM304.1,649.9l1.75 .58v1.17l-1.75 .58l-1.75-.58v-1.17zM314.6,649.9l1.75 .58v1.17l-1.75 .58l-1.75-.58v-1.17zM325.1,649.9l1.75 .58v1.17l-1.75 .58l-1.75-.58v-1.17zM381.1,649.9l1.75 .58v1.17l-1.75 .58l-1.75-.58v-1.17zM409.1,649.9l1.75 .58v1.17l-1.75 .58l-1.75-.58v-1.17zM288.4,651.6l1.75 .58v1.17l-1.75 .58l-1.75-.58v-1.17zM298.9,651.6l1.75 .58v1.17l-1.75 .58l-1.75-.58v-1.17zM305.9,651.6l1.75 .58v1.17l-1.75 .58l-1.75-.58v-1.17zM386.4,651.6l1.75 .58v1.17l-1.75 .58l-1.75-.58v-1.17zM396.9,651.6l1.75 .58v1.17l-1.75 .58l-1.75-.58v-1.17zM314.6,653.4l1.75 .58v1.17l-1.75 .58l-1.75-.58v-1.17zM395.1,656.9l1.75 .58v1.17l-1.75 .58l-1.75-.58v-1.17zM419.6,656.9l1.75 .58v1.17l-1.75 .58l-1.75-.58v-1.17zM293.6,660.4l1.75 .58v1.17l-1.75 .58l-1.75-.58v-1.17z"/>
<path fill="#110889" stroke="#110889" stroke-width="0.25" d="M312.9,574.6l1.75 .58v1.17l-1.75 .58l-1.75-.58v-1.17zM319.9,574.6l1.75 .58v1.17l-1.75 .58l-1.75-.58v-1.17zM396.9,574.6l1.75 .58v1.17l-1.75 .58l-1.75-.58v-1.17zM309.4,578.1l1.75 .58v1.17l-1.75 .58l-1.75-.58v-1.17zM319.9,578.1l1.75 .58v1.17l-1.75 .58l-1.75-.58v-1.17zM326.9,578.1l1.75 .58v1.17l-1.75 .58l-1.75-.58v-1.17zM389.9,578.1l1.75 .58v1.17l-1.75 .58l-1.75-.58v-1.17zM375.9,581.6l1.75 .58v1.17l-1.75 .58l-1.75-.58v-1.17zM393.4,581.6l1.75 .58v1.17l-1.75 .58l-1.75-.58v-1.17zM398.6,583.4l1.75 .58v1.17l-1.75 .58l-1.75-.58v-1.17zM309.4,585.1l1.75 .58v1.17l-1.75 .58l-1.75-.58v-1.17zM333.9,585.1l1.75 .58v1.17l-1.75 .58l-1.75-.58v-1.17zM365.4,585.1l1.75 .58v1.17l-1.75 .58l-1.75-.58v-1.17zM393.4,585.1l1.75 .58v1.17l-1.75 .58l-1.75-.58v-1.17zM312.9,588.6l1.75 .58v1.17l-1.75 .58l-1.75-.58v-1.17zM393.4,588.6l1.75 .58v1.17l-1.75 .58l-1.75-.58v-1.17zM400.4,588.6l1.75 .58v1.17l-1.75 .58l-1.75-.58v-1.17zM314.6,590.4l1.75 .58v1.17l-1.75 .58l-1.75-.58v-1.17zM346.1,590.4l1.75 .58v1.17l-1.75 .58l-1.75-.58v-1.17zM402.1,590.4l1.75 .58v1.17l-1.75 .58l-1.75-.58v-1.17zM361.9,592.1l1.75 .58v1.17l-1.75 .58l-1.75-.58v-1.17zM349.6,593.9l1.75 .58v1.17l-1.75 .58l-1.75-.58v-1.17zM312.9,595.6l1.75 .58v1.17l-1.75 .58l-1.75-.58v-1.17zM351.4,595.6l1.75 .58v1.17l-1.75 .58l-1.75-.58v-1.17zM396.9,595.6l1.75 .58v1.17l-1.75 .58l-1.75-.58v-1.17zM314.6,597.4l1.75 .58v1.17l-1.75 .58l-1.75-.58v-1.17zM353.1,597.4l1.75 .58v1.17l-1.75 .58l-1.75-.58v-1.17zM316.4,599.1l1.75 .58v1.17l-1.75 .58l-1.75-.58v-1.17zM391.6,600.9l1.75 .58v1.17l-1.75 .58l-1.75-.58v-1.17zM395.1,600.9l1.75 .58v1.17l-1.75 .58l-1.75-.58v-1.17zM398.6,600.9l1.75 .58v1.17l-1.75 .58l-1.75-.58v-1.17zM386.4,602.6l1.75 .58v1.17l-1.75 .58l-1.75-.58v-1.17zM309.4,609.6l1.75 .58v1.17l-1.75 .58l-1.75-.58v-1.17zM389.9,609.6l1.75 .58v1.17l-1.75 .58l-1.75-.58v-1.17zM309.4,613.1l1.75 .58v1.17l-1.75 .58l-1.75-.58v-1.17zM403.9,620.1l1.75 .58v1.17l-1.75 .58l-1.75-.58v-1.17zM293.6,621.9l1.75 .58v1.17l-1.75 .58l-1.75-.58v-1.17zM297.1,621.9l1.75 .58v1.17l-1.75 .58l-1.75-.58v-1.17zM405.6,621.9l1.75 .58v1.17l-1.75 .58l-1.75-.58v-1.17zM403.9,623.6l1.75 .58v1.17l-1.75 .58l-1.75-.58v-1.17zM402.1,625.4l1.75 .58v1.17l-1.75 .58l-1.75-.58v-1.17zM293.6,628.9l1.75 .58v1.17l-1.75 .58l-1.75-.58v-1.17zM361.9,630.6l1.75 .58v1.17l-1.75 .58l-1.75-.58v-1.17zM410.9,630.6l1.75 .58v1.17l-1.75 .58l-1.75-.58v-1.17zM363.6,632.4l1.75 .58v1.17l-1.75 .58l-1.75-.58v-1.17zM409.1,632.4l1.75 .58v1.17l-1.75 .58l-1.75-.58v-1.17zM295.4,634.1l1.75 .58v1.17l-1.75 .58l-1.75-.58v-1.17zM365.4,634.1l1.75 .58v1.17l-1.75 .58l-1.75-.58v-1.17zM412.6,635.9l1.75 .58v1.17l-1.75 .58l-1.75-.58v-1.17zM298.9,637.6l1.75 .58v1.17l-1.75 .58l-1.75-.58v-1.17zM302.4,637.6l1.75 .58v1.17l-1.75 .58l-1.75-.58v-1.17zM332.1,639.4l1.75 .58v1.17l-1.75 .58l-1.75-.58v-1.17zM370.6,639.4l1.75 .58v1.17l-1.75 .58l-1.75-.58v-1.17zM402.1,639.4l1.75 .58v1.17l-1.75 .58l-1.75-.58v-1.17zM298.9,641.1l1.75 .58v1.17l-1.75 .58l-1.75-.58v-1.17zM305.9,641.1l1.75 .58v1.17l-1.75 .58l-1.75-.58v-1.17zM326.9,641.1l1.75 .58v1.17l-1.75 .58l-1.75-.58v-1.17zM333.9,641.1l1.75 .58v1.17l-1.75 .58l-1.75-.58v-1.17zM372.4,641.1l1.75 .58v1.17l-1.75 .58l-1.75-.58v-1.17zM374.1,642.9l1.75 .58v1.17l-1.75 .58l-1.75-.58v-1.17zM391.6,642.9l1.75 .58v1.17l-1.75 .58l-1.75-.58v-1.17zM416.1,642.9l1.75 .58v1.17l-1.75 .58l-1.75-.58v-1.17zM295.4,644.6l1.75 .58v1.17l-1.75 .58l-1.75-.58v-1.17zM312.9,644.6l1.75 .58v1.17l-1.75 .58l-1.75-.58v-1.17zM319.9,644.6l1.75 .58v1.17l-1.75 .58l-1.75-.58v-1.17zM375.9,644.6l1.75 .58v1.17l-1.75 .58l-1.75-.58v-1.17zM382.9,644.6l1.75 .58v1.17l-1.75 .58l-1.75-.58v-1.17zM393.4,644.6l1.75 .58v1.17l-1.75 .58l-1.75-.58v-1.17zM377.6,646.4l1.75 .58v1.17l-1.75 .58l-1.75-.58v-1.17zM395.1,646.4l1.75 .58v1.17l-1.75 .58l-1.75-.58v-1.17zM398.6,646.4l1.75 .58v1.17l-1.75 .58l-1.75-.58v-1.17zM402.1,646.4l1.75 .58v1.17l-1.75 .58l-1.75-.58v-1.17zM302.4,648.1l1.75 .58v1.17l-1.75 .58l-1.75-.58v-1.17zM316.4,648.1l1.75 .58v1.17l-1.75 .58l-1.75-.58v-1.17zM319.9,648.1l1.75 .58v1.17l-1.75 .58l-1.75-.58v-1.17zM382.9,648.1l1.75 .58v1.17l-1.75 .58l-1.75-.58v-1.17zM386.4,648.1l1.75 .58v1.17l-1.75 .58l-1.75-.58v-1.17zM389.9,648.1l1.75 .58v1.17l-1.75 .58l-1.75-.58v-1.17zM307.6,649.9l1.75 .58v1.17l-1.75 .58l-1.75-.58v-1.17zM312.9,651.6l1.75 .58v1.17l-1.75 .58l-1.75-.58v-1.17zM388.1,653.4l1.75 .58v1.17l-1.75 .58l-1.75-.58v-1.17z"/>
<path fill="#14088a" stroke="#14088a" stroke-width="0.25" d="M330.4,578.1l1.75 .58v1.17l-1.75 .58l-1.75-.58v-1.17zM386.4,578.1l1.75 .58v1.17l-1.75 .58l-1.75-.58v-1.17zM328.6,579.9l1.75 .58v1.17l-1.75 .58l-1.75-.58v-1.17zM388.1,579.9l1.75 .58v1.17l-1.75 .58l-1.75-.58v-1.17zM309.4,581.6l1.75 .58v1.17l-1.75 .58l-1.75-.58v-1.17zM312.9,581.6l1.75 .58v1.17l-1.75 .58l-1.75-.58v-1.17zM316.4,581.6l1.75 .58v1.17l-1.75 .58l-1.75-.58v-1.17zM382.9,581.6l1.75 .58v1.17l-1.75 .58l-1.75-.58v-1.17zM339.1,583.4l1.75 .58v1.17l-1.75 .58l-1.75-.58v-1.17zM384.6,583.4l1.75 .58v1.17l-1.75 .58l-1.75-.58v-1.17zM316.4,585.1l1.75 .58v1.17l-1.75 .58l-1.75-.58v-1.17zM337.4,585.1l1.75 .58v1.17l-1.75 .58l-1.75-.58v-1.17zM311.1,586.9l1.75 .58v1.17l-1.75 .58l-1.75-.58v-1.17zM367.1,586.9l1.75 .58v1.17l-1.75 .58l-1.75-.58v-1.17zM398.6,586.9l1.75 .58v1.17l-1.75 .58l-1.75-.58v-1.17zM405.6,586.9l1.75 .58v1.17l-1.75 .58l-1.75-.58v-1.17zM311.1,590.4l1.75 .58v1.17l-1.75 .58l-1.75-.58v-1.17zM395.1,590.4l1.75 .58v1.17l-1.75 .58l-1.75-.58v-1.17zM398.6,590.4l1.75 .58v1.17l-1.75 .58l-1.75-.58v-1.17zM312.9,592.1l1.75 .58v1.17l-1.75 .58l-1.75-.58v-1.17zM393.4,592.1l1.75 .58v1.17l-1.75 .58l-1.75-.58v-1.17zM389.9,599.1l1.75 .58v1.17l-1.75 .58l-1.75-.58v-1.17zM318.1,600.9l1.75 .58v1.17l-1.75 .58l-1.75-.58v-1.17zM319.9,602.6l1.75 .58v1.17l-1.75 .58l-1.75-.58v-1.17zM346.1,604.4l1.75 .58v1.17l-1.75 .58l-1.75-.58v-1.17zM316.4,606.1l1.75 .58v1.17l-1.75 .58l-1.75-.58v-1.17zM382.9,606.1l1.75 .58v1.17l-1.75 .58l-1.75-.58v-1.17zM386.4,609.6l1.75 .58v1.17l-1.75 .58l-1.75-.58v-1.17zM391.6,611.4l1.75 .58v1.17l-1.75 .58l-1.75-.58v-1.17zM305.9,613.1l1.75 .58v1.17l-1.75 .58l-1.75-.58v-1.17zM393.4,613.1l1.75 .58v1.17l-1.75 .58l-1.75-.58v-1.17zM307.6,614.9l1.75 .58v1.17l-1.75 .58l-1.75-.58v-1.17zM298.9,616.6l1.75 .58v1.17l-1.75 .58l-1.75-.58v-1.17zM395.1,618.4l1.75 .58v1.17l-1.75 .58l-1.75-.58v-1.17zM398.6,618.4l1.75 .58v1.17l-1.75 .58l-1.75-.58v-1.17zM356.6,621.9l1.75 .58v1.17l-1.75 .58l-1.75-.58v-1.17zM295.4,623.6l1.75 .58v1.17l-1.75 .58l-1.75-.58v-1.17zM358.4,623.6l1.75 .58v1.17l-1.75 .58l-1.75-.58v-1.17zM300.6,625.4l1.75 .58v1.17l-1.75 .58l-1.75-.58v-1.17zM302.4,627.1l1.75 .58v1.17l-1.75 .58l-1.75-.58v-1.17zM347.9,627.1l1.75 .58v1.17l-1.75 .58l-1.75-.58v-1.17zM403.9,627.1l1.75 .58v1.17l-1.75 .58l-1.75-.58v-1.17zM297.1,628.9l1.75 .58v1.17l-1.75 .58l-1.75-.58v-1.17zM405.6,628.9l1.75 .58v1.17l-1.75 .58l-1.75-.58v-1.17zM302.4,630.6l1.75 .58v1.17l-1.75 .58l-1.75-.58v-1.17zM403.9,630.6l1.75 .58v1.17l-1.75 .58l-1.75-.58v-1.17zM407.4,630.6l1.75 .58v1.17l-1.75 .58l-1.75-.58v-1.17zM342.6,632.4l1.75 .58v1.17l-1.75 .58l-1.75-.58v-1.17zM367.1,632.4l1.75 .58v1.17l-1.75 .58l-1.75-.58v-1.17zM402.1,632.4l1.75 .58v1.17l-1.75 .58l-1.75-.58v-1.17zM405.6,632.4l1.75 .58v1.17l-1.75 .58l-1.75-.58v-1.17zM305.9,634.1l1.75 .58v1.17l-1.75 .58l-1.75-.58v-1.17zM340.9,634.1l1.75 .58v1.17l-1.75 .58l-1.75-.58v-1.17zM403.9,634.1l1.75 .58v1.17l-1.75 .58l-1.75-.58v-1.17zM407.4,634.1l1.75 .58v1.17l-1.75 .58l-1.75-.58v-1.17zM300.6,635.9l1.75 .58v1.17l-1.75 .58l-1.75-.58v-1.17zM304.1,635.9l1.75 .58v1.17l-1.75 .58l-1.75-.58v-1.17zM307.6,635.9l1.75 .58v1.17l-1.75 .58l-1.75-.58v-1.17zM311.1,635.9l1.75 .58v1.17l-1.75 .58l-1.75-.58v-1.17zM339.1,635.9l1.75 .58v1.17l-1.75 .58l-1.75-.58v-1.17zM295.4,637.6l1.75 .58v1.17l-1.75 .58l-1.75-.58v-1.17zM305.9,637.6l1.75 .58v1.17l-1.75 .58l-1.75-.58v-1.17zM312.9,637.6l1.75 .58v1.17l-1.75 .58l-1.75-.58v-1.17zM337.4,637.6l1.75 .58v1.17l-1.75 .58l-1.75-.58v-1.17zM400.4,637.6l1.75 .58v1.17l-1.75 .58l-1.75-.58v-1.17zM300.6,639.4l1.75 .58v1.17l-1.75 .58l-1.75-.58v-1.17zM328.6,639.4l1.75 .58v1.17l-1.75 .58l-1.75-.58v-1.17zM405.6,639.4l1.75 .58v1.17l-1.75 .58l-1.75-.58v-1.17zM330.4,641.1l1.75 .58v1.17l-1.75 .58l-1.75-.58v-1.17zM375.9,641.1l1.75 .58v1.17l-1.75 .58l-1.75-.58v-1.17zM407.4,641.1l1.75 .58v1.17l-1.75 .58l-1.75-.58v-1.17zM307.6,642.9l1.75 .58v1.17l-1.75 .58l-1.75-.58v-1.17zM311.1,642.9l1.75 .58v1.17l-1.75 .58l-1.75-.58v-1.17zM328.6,642.9l1.75 .58v1.17l-1.75 .58l-1.75-.58v-1.17zM377.6,642.9l1.75 .58v1.17l-1.75 .58l-1.75-.58v-1.17zM395.1,642.9l1.75 .58v1.17l-1.75 .58l-1.75-.58v-1.17zM405.6,642.9l1.75 .58v1.17l-1.75 .58l-1.75-.58v-1.17zM409.1,642.9l1.75 .58v1.17l-1.75 .58l-1.75-.58v-1.17zM389.9,644.6l1.75 .58v1.17l-1.75 .58l-1.75-.58v-1.17zM311.1,646.4l1.75 .58v1.17l-1.75 .58l-1.75-.58v-1.17zM314.6,646.4l1.75 .58v1.17l-1.75 .58l-1.75-.58v-1.17zM381.1,646.4l1.75 .58v1.17l-1.75 .58l-1.75-.58v-1.17zM388.1,646.4l1.75 .58v1.17l-1.75 .58l-1.75-.58v-1.17zM400.4,648.1l1.75 .58v1.17l-1.75 .58l-1.75-.58v-1.17zM395.1,649.9l1.75 .58v1.17l-1.75 .58l-1.75-.58v-1.17z"/>
<path fill="#16078b" stroke="#16078b" stroke-width="0.25" d="M375.9,578.1l1.75 .58v1.17l-1.75 .58l-1.75-.58v-1.17zM325.1,579.9l1.75 .58v1.17l-1.75 .58l-1.75-.58v-1.17zM323.4,581.6l1.75 .58v1.17l-1.75 .58l-1.75-.58v-1.17zM333.9,581.6l1.75 .58v1.17l-1.75 .58l-1.75-.58v-1.17zM386.4,581.6l1.75 .58v1.17l-1.75 .58l-1.75-.58v-1.17zM318.1,583.4l1.75 .58v1.17l-1.75 .58l-1.75-.58v-1.17zM325.1,583.4l1.75 .58v1.17l-1.75 .58l-1.75-.58v-1.17zM332.1,583.4l1.75 .58v1.17l-1.75 .58l-1.75-.58v-1.17zM374.1,583.4l1.75 .58v1.17l-1.75 .58l-1.75-.58v-1.17zM368.9,585.1l1.75 .58v1.17l-1.75 .58l-1.75-.58v-1.17zM314.6,586.9l1.75 .58v1.17l-1.75 .58l-1.75-.58v-1.17zM309.4,588.6l1.75 .58v1.17l-1.75 .58l-1.75-.58v-1.17zM396.9,588.6l1.75 .58v1.17l-1.75 .58l-1.75-.58v-1.17zM342.6,590.4l1.75 .58v1.17l-1.75 .58l-1.75-.58v-1.17zM363.6,590.4l1.75 .58v1.17l-1.75 .58l-1.75-.58v-1.17zM316.4,592.1l1.75 .58v1.17l-1.75 .58l-1.75-.58v-1.17zM396.9,592.1l1.75 .58v1.17l-1.75 .58l-1.75-.58v-1.17zM358.4,595.6l1.75 .58v1.17l-1.75 .58l-1.75-.58v-1.17zM354.9,599.1l1.75 .58v1.17l-1.75 .58l-1.75-.58v-1.17zM388.1,600.9l1.75 .58v1.17l-1.75 .58l-1.75-.58v-1.17zM379.4,606.1l1.75 .58v1.17l-1.75 .58l-1.75-.58v-1.17zM318.1,607.9l1.75 .58v1.17l-1.75 .58l-1.75-.58v-1.17zM381.1,607.9l1.75 .58v1.17l-1.75 .58l-1.75-.58v-1.17zM307.6,611.4l1.75 .58v1.17l-1.75 .58l-1.75-.58v-1.17zM304.1,614.9l1.75 .58v1.17l-1.75 .58l-1.75-.58v-1.17zM391.6,614.9l1.75 .58v1.17l-1.75 .58l-1.75-.58v-1.17zM395.1,614.9l1.75 .58v1.17l-1.75 .58l-1.75-.58v-1.17zM305.9,616.6l1.75 .58v1.17l-1.75 .58l-1.75-.58v-1.17zM309.4,616.6l1.75 .58v1.17l-1.75 .58l-1.75-.58v-1.17zM354.9,616.6l1.75 .58v1.17l-1.75 .58l-1.75-.58v-1.17zM396.9,616.6l1.75 .58v1.17l-1.75 .58l-1.75-.58v-1.17zM304.1,618.4l1.75 .58v1.17l-1.75 .58l-1.75-.58v-1.17zM400.4,620.1l1.75 .58v1.17l-1.75 .58l-1.75-.58v-1.17zM302.4,623.6l1.75 .58v1.17l-1.75 .58l-1.75-.58v-1.17zM400.4,623.6l1.75 .58v1.17l-1.75 .58l-1.75-.58v-1.17zM304.1,625.4l1.75 .58v1.17l-1.75 .58l-1.75-.58v-1.17zM400.4,627.1l1.75 .58v1.17l-1.75 .58l-1.75-.58v-1.17zM298.9,630.6l1.75 .58v1.17l-1.75 .58l-1.75-.58v-1.17zM340.9,630.6l1.75 .58v1.17l-1.75 .58l-1.75-.58v-1.17zM302.4,634.1l1.75 .58v1.17l-1.75 .58l-1.75-.58v-1.17zM396.9,634.1l1.75 .58v1.17l-1.75 .58l-1.75-.58v-1.17zM333.9,637.6l1.75 .58v1.17l-1.75 .58l-1.75-.58v-1.17zM316.4,641.1l1.75 .58v1.17l-1.75 .58l-1.75-.58v-1.17zM386.4,641.1l1.75 .58v1.17l-1.75 .58l-1.75-.58v-1.17zM384.6,642.9l1.75 .58v1.17l-1.75 .58l-1.75-.58v-1.17zM398.6,642.9l1.75 .58v1.17l-1.75 .58l-1.75-.58v-1.17zM326.9,644.6l1.75 .58v1.17l-1.75 .58l-1.75-.58v-1.17zM396.9,644.6l1.75 .58v1.17l-1.75 .58l-1.75-.58v-1.17zM321.6,646.4l1.75 .58v1.17l-1.75 .58l-1.75-.58v-1.17zM388.1,649.9l1.75 .58v1.17l-1.75 .58l-1.75-.58v-1.17z"/>
<path fill="#1a078c" stroke="#1a078c" stroke-width="0.25" d="M318.1,579.9l1.75 .58v1.17l-1.75 .58l-1.75-.58v-1.17zM314.6,583.4l1.75 .58v1.17l-1.75 .58l-1.75-.58v-1.17zM381.1,583.4l1.75 .58v1.17l-1.75 .58l-1.75-.58v-1.17zM372.4,585.1l1.75 .58v1.17l-1.75 .58l-1.75-.58v-1.17zM318.1,586.9l1.75 .58v1.17l-1.75 .58l-1.75-.58v-1.17zM395.1,586.9l1.75 .58v1.17l-1.75 .58l-1.75-.58v-1.17zM316.4,588.6l1.75 .58v1.17l-1.75 .58l-1.75-.58v-1.17zM388.1,590.4l1.75 .58v1.17l-1.75 .58l-1.75-.58v-1.17zM318.1,593.9l1.75 .58v1.17l-1.75 .58l-1.75-.58v-1.17zM360.1,593.9l1.75 .58v1.17l-1.75 .58l-1.75-.58v-1.17zM388.1,597.4l1.75 .58v1.17l-1.75 .58l-1.75-.58v-1.17zM323.4,602.6l1.75 .58v1.17l-1.75 .58l-1.75-.58v-1.17zM319.9,606.1l1.75 .58v1.17l-1.75 .58l-1.75-.58v-1.17zM314.6,607.9l1.75 .58v1.17l-1.75 .58l-1.75-.58v-1.17zM396.9,620.1l1.75 .58v1.17l-1.75 .58l-1.75-.58v-1.17zM398.6,621.9l1.75 .58v1.17l-1.75 .58l-1.75-.58v-1.17zM402.1,628.9l1.75 .58v1.17l-1.75 .58l-1.75-.58v-1.17zM365.4,630.6l1.75 .58v1.17l-1.75 .58l-1.75-.58v-1.17zM309.4,634.1l1.75 .58v1.17l-1.75 .58l-1.75-.58v-1.17zM398.6,635.9l1.75 .58v1.17l-1.75 .58l-1.75-.58v-1.17zM374.1,639.4l1.75 .58v1.17l-1.75 .58l-1.75-.58v-1.17zM309.4,641.1l1.75 .58v1.17l-1.75 .58l-1.75-.58v-1.17zM312.9,641.1l1.75 .58v1.17l-1.75 .58l-1.75-.58v-1.17zM325.1,642.9l1.75 .58v1.17l-1.75 .58l-1.75-.58v-1.17z"/>
<path fill="#18078c" stroke="#18078c" stroke-width="0.25" d="M319.9,581.6l1.75 .58v1.17l-1.75 .58l-1.75-.58v-1.17zM389.9,581.6l1.75 .58v1.17l-1.75 .58l-1.75-.58v-1.17zM396.9,581.6l1.75 .58v1.17l-1.75 .58l-1.75-.58v-1.17zM328.6,583.4l1.75 .58v1.17l-1.75 .58l-1.75-.58v-1.17zM391.6,583.4l1.75 .58v1.17l-1.75 .58l-1.75-.58v-1.17zM389.9,585.1l1.75 .58v1.17l-1.75 .58l-1.75-.58v-1.17zM342.6,586.9l1.75 .58v1.17l-1.75 .58l-1.75-.58v-1.17zM384.6,586.9l1.75 .58v1.17l-1.75 .58l-1.75-.58v-1.17zM391.6,586.9l1.75 .58v1.17l-1.75 .58l-1.75-.58v-1.17zM347.9,592.1l1.75 .58v1.17l-1.75 .58l-1.75-.58v-1.17zM395.1,593.9l1.75 .58v1.17l-1.75 .58l-1.75-.58v-1.17zM321.6,600.9l1.75 .58v1.17l-1.75 .58l-1.75-.58v-1.17zM382.9,602.6l1.75 .58v1.17l-1.75 .58l-1.75-.58v-1.17zM342.6,604.4l1.75 .58v1.17l-1.75 .58l-1.75-.58v-1.17zM384.6,607.9l1.75 .58v1.17l-1.75 .58l-1.75-.58v-1.17zM393.4,616.6l1.75 .58v1.17l-1.75 .58l-1.75-.58v-1.17zM353.1,618.4l1.75 .58v1.17l-1.75 .58l-1.75-.58v-1.17zM295.4,620.1l1.75 .58v1.17l-1.75 .58l-1.75-.58v-1.17zM351.4,620.1l1.75 .58v1.17l-1.75 .58l-1.75-.58v-1.17zM300.6,621.9l1.75 .58v1.17l-1.75 .58l-1.75-.58v-1.17zM304.1,621.9l1.75 .58v1.17l-1.75 .58l-1.75-.58v-1.17zM307.6,621.9l1.75 .58v1.17l-1.75 .58l-1.75-.58v-1.17zM361.9,627.1l1.75 .58v1.17l-1.75 .58l-1.75-.58v-1.17zM300.6,628.9l1.75 .58v1.17l-1.75 .58l-1.75-.58v-1.17zM304.1,632.4l1.75 .58v1.17l-1.75 .58l-1.75-.58v-1.17zM335.6,635.9l1.75 .58v1.17l-1.75 .58l-1.75-.58v-1.17zM402.1,635.9l1.75 .58v1.17l-1.75 .58l-1.75-.58v-1.17zM309.4,637.6l1.75 .58v1.17l-1.75 .58l-1.75-.58v-1.17zM330.4,637.6l1.75 .58v1.17l-1.75 .58l-1.75-.58v-1.17zM307.6,639.4l1.75 .58v1.17l-1.75 .58l-1.75-.58v-1.17zM311.1,639.4l1.75 .58v1.17l-1.75 .58l-1.75-.58v-1.17zM314.6,639.4l1.75 .58v1.17l-1.75 .58l-1.75-.58v-1.17zM302.4,641.1l1.75 .58v1.17l-1.75 .58l-1.75-.58v-1.17zM403.9,641.1l1.75 .58v1.17l-1.75 .58l-1.75-.58v-1.17zM321.6,642.9l1.75 .58v1.17l-1.75 .58l-1.75-.58v-1.17zM305.9,644.6l1.75 .58v1.17l-1.75 .58l-1.75-.58v-1.17z"/>
<path fill="#250691" stroke="#250691" stroke-width="0.25" d="M377.6,583.4l1.75 .58v1.17l-1.75 .58l-1.75-.58v-1.17zM319.9,585.1l1.75 .58v1.17l-1.75 .58l-1.75-.58v-1.17zM326.9,585.1l1.75 .58v1.17l-1.75 .58l-1.75-.58v-1.17zM386.4,585.1l1.75 .58v1.17l-1.75 .58l-1.75-.58v-1.17zM335.6,586.9l1.75 .58v1.17l-1.75 .58l-1.75-.58v-1.17zM388.1,586.9l1.75 .58v1.17l-1.75 .58l-1.75-.58v-1.17zM367.1,590.4l1.75 .58v1.17l-1.75 .58l-1.75-.58v-1.17zM319.9,592.1l1.75 .58v1.17l-1.75 .58l-1.75-.58v-1.17zM386.4,595.6l1.75 .58v1.17l-1.75 .58l-1.75-.58v-1.17zM356.6,600.9l1.75 .58v1.17l-1.75 .58l-1.75-.58v-1.17zM377.6,607.9l1.75 .58v1.17l-1.75 .58l-1.75-.58v-1.17zM311.1,621.9l1.75 .58v1.17l-1.75 .58l-1.75-.58v-1.17zM305.9,623.6l1.75 .58v1.17l-1.75 .58l-1.75-.58v-1.17zM344.4,627.1l1.75 .58v1.17l-1.75 .58l-1.75-.58v-1.17zM312.9,634.1l1.75 .58v1.17l-1.75 .58l-1.75-.58v-1.17zM368.9,634.1l1.75 .58v1.17l-1.75 .58l-1.75-.58v-1.17zM389.9,637.6l1.75 .58v1.17l-1.75 .58l-1.75-.58v-1.17z"/>
<path fill="#1c078d" stroke="#1c078d" stroke-width="0.25" d="M388.1,583.4l1.75 .58v1.17l-1.75 .58l-1.75-.58v-1.17zM395.1,583.4l1.75 .58v1.17l-1.75 .58l-1.75-.58v-1.17zM374.1,586.9l1.75 .58v1.17l-1.75 .58l-1.75-.58v-1.17zM340.9,588.6l1.75 .58v1.17l-1.75 .58l-1.75-.58v-1.17zM368.9,588.6l1.75 .58v1.17l-1.75 .58l-1.75-.58v-1.17zM389.9,588.6l1.75 .58v1.17l-1.75 .58l-1.75-.58v-1.17zM389.9,592.1l1.75 .58v1.17l-1.75 .58l-1.75-.58v-1.17zM391.6,593.9l1.75 .58v1.17l-1.75 .58l-1.75-.58v-1.17zM393.4,595.6l1.75 .58v1.17l-1.75 .58l-1.75-.58v-1.17zM386.4,599.1l1.75 .58v1.17l-1.75 .58l-1.75-.58v-1.17zM321.6,607.9l1.75 .58v1.17l-1.75 .58l-1.75-.58v-1.17zM314.6,611.4l1.75 .58v1.17l-1.75 .58l-1.75-.58v-1.17zM312.9,613.1l1.75 .58v1.17l-1.75 .58l-1.75-.58v-1.17zM311.1,614.9l1.75 .58v1.17l-1.75 .58l-1.75-.58v-1.17zM311.1,618.4l1.75 .58v1.17l-1.75 .58l-1.75-.58v-1.17zM302.4,620.1l1.75 .58v1.17l-1.75 .58l-1.75-.58v-1.17zM305.9,620.1l1.75 .58v1.17l-1.75 .58l-1.75-.58v-1.17zM349.6,621.9l1.75 .58v1.17l-1.75 .58l-1.75-.58v-1.17zM309.4,623.6l1.75 .58v1.17l-1.75 .58l-1.75-.58v-1.17zM360.1,625.4l1.75 .58v1.17l-1.75 .58l-1.75-.58v-1.17zM363.6,628.9l1.75 .58v1.17l-1.75 .58l-1.75-.58v-1.17zM337.4,634.1l1.75 .58v1.17l-1.75 .58l-1.75-.58v-1.17zM400.4,634.1l1.75 .58v1.17l-1.75 .58l-1.75-.58v-1.17zM405.6,635.9l1.75 .58v1.17l-1.75 .58l-1.75-.58v-1.17zM372.4,637.6l1.75 .58v1.17l-1.75 .58l-1.75-.58v-1.17zM375.9,637.6l1.75 .58v1.17l-1.75 .58l-1.75-.58v-1.17zM396.9,637.6l1.75 .58v1.17l-1.75 .58l-1.75-.58v-1.17zM318.1,639.4l1.75 .58v1.17l-1.75 .58l-1.75-.58v-1.17zM321.6,639.4l1.75 .58v1.17l-1.75 .58l-1.75-.58v-1.17zM377.6,639.4l1.75 .58v1.17l-1.75 .58l-1.75-.58v-1.17zM319.9,641.1l1.75 .58v1.17l-1.75 .58l-1.75-.58v-1.17zM323.4,641.1l1.75 .58v1.17l-1.75 .58l-1.75-.58v-1.17zM400.4,641.1l1.75 .58v1.17l-1.75 .58l-1.75-.58v-1.17z"/>
<path fill="#230690" stroke="#230690" stroke-width="0.25" d="M323.4,585.1l1.75 .58v1.17l-1.75 .58l-1.75-.58v-1.17zM375.9,585.1l1.75 .58v1.17l-1.75 .58l-1.75-.58v-1.17zM325.1,586.9l1.75 .58v1.17l-1.75 .58l-1.75-.58v-1.17zM323.4,588.6l1.75 .58v1.17l-1.75 .58l-1.75-.58v-1.17zM353.1,600.9l1.75 .58v1.17l-1.75 .58l-1.75-.58v-1.17zM379.4,602.6l1.75 .58v1.17l-1.75 .58l-1.75-.58v-1.17zM318.1,611.4l1.75 .58v1.17l-1.75 .58l-1.75-.58v-1.17zM393.4,620.1l1.75 .58v1.17l-1.75 .58l-1.75-.58v-1.17zM398.6,625.4l1.75 .58v1.17l-1.75 .58l-1.75-.58v-1.17zM307.6,628.9l1.75 .58v1.17l-1.75 .58l-1.75-.58v-1.17zM309.4,630.6l1.75 .58v1.17l-1.75 .58l-1.75-.58v-1.17zM396.9,630.6l1.75 .58v1.17l-1.75 .58l-1.75-.58v-1.17zM398.6,632.4l1.75 .58v1.17l-1.75 .58l-1.75-.58v-1.17zM325.1,635.9l1.75 .58v1.17l-1.75 .58l-1.75-.58v-1.17zM370.6,635.9l1.75 .58v1.17l-1.75 .58l-1.75-.58v-1.17zM395.1,635.9l1.75 .58v1.17l-1.75 .58l-1.75-.58v-1.17zM386.4,637.6l1.75 .58v1.17l-1.75 .58l-1.75-.58v-1.17zM325.1,639.4l1.75 .58v1.17l-1.75 .58l-1.75-.58v-1.17zM395.1,639.4l1.75 .58v1.17l-1.75 .58l-1.75-.58v-1.17zM389.9,641.1l1.75 .58v1.17l-1.75 .58l-1.75-.58v-1.17zM386.4,644.6l1.75 .58v1.17l-1.75 .58l-1.75-.58v-1.17z"/>
<path fill="#20068f" stroke="#20068f" stroke-width="0.25" d="M330.4,585.1l1.75 .58v1.17l-1.75 .58l-1.75-.58v-1.17zM379.4,585.1l1.75 .58v1.17l-1.75 .58l-1.75-.58v-1.17zM370.6,586.9l1.75 .58v1.17l-1.75 .58l-1.75-.58v-1.17zM318.1,590.4l1.75 .58v1.17l-1.75 .58l-1.75-.58v-1.17zM321.6,590.4l1.75 .58v1.17l-1.75 .58l-1.75-.58v-1.17zM323.4,592.1l1.75 .58v1.17l-1.75 .58l-1.75-.58v-1.17zM365.4,592.1l1.75 .58v1.17l-1.75 .58l-1.75-.58v-1.17zM389.9,595.6l1.75 .58v1.17l-1.75 .58l-1.75-.58v-1.17zM321.6,597.4l1.75 .58v1.17l-1.75 .58l-1.75-.58v-1.17zM351.4,599.1l1.75 .58v1.17l-1.75 .58l-1.75-.58v-1.17zM325.1,600.9l1.75 .58v1.17l-1.75 .58l-1.75-.58v-1.17zM384.6,600.9l1.75 .58v1.17l-1.75 .58l-1.75-.58v-1.17zM326.9,602.6l1.75 .58v1.17l-1.75 .58l-1.75-.58v-1.17zM316.4,609.6l1.75 .58v1.17l-1.75 .58l-1.75-.58v-1.17zM389.9,613.1l1.75 .58v1.17l-1.75 .58l-1.75-.58v-1.17zM395.1,621.9l1.75 .58v1.17l-1.75 .58l-1.75-.58v-1.17zM307.6,625.4l1.75 .58v1.17l-1.75 .58l-1.75-.58v-1.17zM342.6,628.9l1.75 .58v1.17l-1.75 .58l-1.75-.58v-1.17zM318.1,635.9l1.75 .58v1.17l-1.75 .58l-1.75-.58v-1.17zM374.1,635.9l1.75 .58v1.17l-1.75 .58l-1.75-.58v-1.17zM316.4,637.6l1.75 .58v1.17l-1.75 .58l-1.75-.58v-1.17zM326.9,637.6l1.75 .58v1.17l-1.75 .58l-1.75-.58v-1.17zM382.9,641.1l1.75 .58v1.17l-1.75 .58l-1.75-.58v-1.17zM396.9,641.1l1.75 .58v1.17l-1.75 .58l-1.75-.58v-1.17zM388.1,642.9l1.75 .58v1.17l-1.75 .58l-1.75-.58v-1.17z"/>
<path fill="#2b0694" stroke="#2b0694" stroke-width="0.25" d="M382.9,585.1l1.75 .58v1.17l-1.75 .58l-1.75-.58v-1.17zM377.6,586.9l1.75 .58v1.17l-1.75 .58l-1.75-.58v-1.17zM381.1,586.9l1.75 .58v1.17l-1.75 .58l-1.75-.58v-1.17zM372.4,588.6l1.75 .58v1.17l-1.75 .58l-1.75-.58v-1.17zM382.9,588.6l1.75 .58v1.17l-1.75 .58l-1.75-.58v-1.17zM388.1,593.9l1.75 .58v1.17l-1.75 .58l-1.75-.58v-1.17zM326.9,599.1l1.75 .58v1.17l-1.75 .58l-1.75-.58v-1.17zM325.1,607.9l1.75 .58v1.17l-1.75 .58l-1.75-.58v-1.17zM309.4,620.1l1.75 .58v1.17l-1.75 .58l-1.75-.58v-1.17zM312.9,627.1l1.75 .58v1.17l-1.75 .58l-1.75-.58v-1.17zM391.6,628.9l1.75 .58v1.17l-1.75 .58l-1.75-.58v-1.17zM312.9,630.6l1.75 .58v1.17l-1.75 .58l-1.75-.58v-1.17zM316.4,630.6l1.75 .58v1.17l-1.75 .58l-1.75-.58v-1.17zM372.4,634.1l1.75 .58v1.17l-1.75 .58l-1.75-.58v-1.17zM381.1,635.9l1.75 .58v1.17l-1.75 .58l-1.75-.58v-1.17zM391.6,635.9l1.75 .58v1.17l-1.75 .58l-1.75-.58v-1.17z"/>
<path fill="#290693" stroke="#290693" stroke-width="0.25" d="M321.6,586.9l1.75 .58v1.17l-1.75 .58l-1.75-.58v-1.17zM386.4,592.1l1.75 .58v1.17l-1.75 .58l-1.75-.58v-1.17zM347.9,595.6l1.75 .58v1.17l-1.75 .58l-1.75-.58v-1.17zM349.6,597.4l1.75 .58v1.17l-1.75 .58l-1.75-.58v-1.17zM381.1,600.9l1.75 .58v1.17l-1.75 .58l-1.75-.58v-1.17zM384.6,611.4l1.75 .58v1.17l-1.75 .58l-1.75-.58v-1.17zM389.9,620.1l1.75 .58v1.17l-1.75 .58l-1.75-.58v-1.17zM339.1,632.4l1.75 .58v1.17l-1.75 .58l-1.75-.58v-1.17zM393.4,634.1l1.75 .58v1.17l-1.75 .58l-1.75-.58v-1.17zM382.9,637.6l1.75 .58v1.17l-1.75 .58l-1.75-.58v-1.17z"/>
<path fill="#270692" stroke="#270692" stroke-width="0.25" d="M328.6,586.9l1.75 .58v1.17l-1.75 .58l-1.75-.58v-1.17zM332.1,586.9l1.75 .58v1.17l-1.75 .58l-1.75-.58v-1.17zM386.4,588.6l1.75 .58v1.17l-1.75 .58l-1.75-.58v-1.17zM326.9,606.1l1.75 .58v1.17l-1.75 .58l-1.75-.58v-1.17zM375.9,606.1l1.75 .58v1.17l-1.75 .58l-1.75-.58v-1.17zM316.4,613.1l1.75 .58v1.17l-1.75 .58l-1.75-.58v-1.17zM396.9,623.6l1.75 .58v1.17l-1.75 .58l-1.75-.58v-1.17zM305.9,630.6l1.75 .58v1.17l-1.75 .58l-1.75-.58v-1.17zM314.6,635.9l1.75 .58v1.17l-1.75 .58l-1.75-.58v-1.17zM332.1,635.9l1.75 .58v1.17l-1.75 .58l-1.75-.58v-1.17zM388.1,635.9l1.75 .58v1.17l-1.75 .58l-1.75-.58v-1.17zM393.4,637.6l1.75 .58v1.17l-1.75 .58l-1.75-.58v-1.17zM384.6,639.4l1.75 .58v1.17l-1.75 .58l-1.75-.58v-1.17zM391.6,639.4l1.75 .58v1.17l-1.75 .58l-1.75-.58v-1.17zM393.4,641.1l1.75 .58v1.17l-1.75 .58l-1.75-.58v-1.17z"/>
<path fill="#3a049a" stroke="#3a049a" stroke-width="0.25" d="M326.9,588.6l1.75 .58v1.17l-1.75 .58l-1.75-.58v-1.17zM330.4,606.1l1.75 .58v1.17l-1.75 .58l-1.75-.58v-1.17zM379.4,609.6l1.75 .58v1.17l-1.75 .58l-1.75-.58v-1.17zM339.1,628.9l1.75 .58v1.17l-1.75 .58l-1.75-.58v-1.17zM325.1,632.4l1.75 .58v1.17l-1.75 .58l-1.75-.58v-1.17zM391.6,632.4l1.75 .58v1.17l-1.75 .58l-1.75-.58v-1.17zM319.9,634.1l1.75 .58v1.17l-1.75 .58l-1.75-.58v-1.17zM389.9,634.1l1.75 .58v1.17l-1.75 .58l-1.75-.58v-1.17zM323.4,637.6l1.75 .58v1.17l-1.75 .58l-1.75-.58v-1.17z"/>
<path fill="#3f049c" stroke="#3f049c" stroke-width="0.25" d="M330.4,588.6l1.75 .58v1.17l-1.75 .58l-1.75-.58v-1.17zM326.9,595.6l1.75 .58v1.17l-1.75 .58l-1.75-.58v-1.17zM384.6,597.4l1.75 .58v1.17l-1.75 .58l-1.75-.58v-1.17zM319.9,613.1l1.75 .58v1.17l-1.75 .58l-1.75-.58v-1.17zM386.4,616.6l1.75 .58v1.17l-1.75 .58l-1.75-.58v-1.17zM360.1,621.9l1.75 .58v1.17l-1.75 .58l-1.75-.58v-1.17zM314.6,628.9l1.75 .58v1.17l-1.75 .58l-1.75-.58v-1.17z"/>
<path fill="#320597" stroke="#320597" stroke-width="0.25" d="M333.9,588.6l1.75 .58v1.17l-1.75 .58l-1.75-.58v-1.17zM339.1,590.4l1.75 .58v1.17l-1.75 .58l-1.75-.58v-1.17zM382.9,592.1l1.75 .58v1.17l-1.75 .58l-1.75-.58v-1.17zM360.1,597.4l1.75 .58v1.17l-1.75 .58l-1.75-.58v-1.17zM382.9,599.1l1.75 .58v1.17l-1.75 .58l-1.75-.58v-1.17zM377.6,600.9l1.75 .58v1.17l-1.75 .58l-1.75-.58v-1.17zM319.9,609.6l1.75 .58v1.17l-1.75 .58l-1.75-.58v-1.17zM386.4,613.1l1.75 .58v1.17l-1.75 .58l-1.75-.58v-1.17zM389.9,616.6l1.75 .58v1.17l-1.75 .58l-1.75-.58v-1.17zM361.9,623.6l1.75 .58v1.17l-1.75 .58l-1.75-.58v-1.17zM311.1,625.4l1.75 .58v1.17l-1.75 .58l-1.75-.58v-1.17zM393.4,627.1l1.75 .58v1.17l-1.75 .58l-1.75-.58v-1.17zM337.4,630.6l1.75 .58v1.17l-1.75 .58l-1.75-.58v-1.17zM335.6,632.4l1.75 .58v1.17l-1.75 .58l-1.75-.58v-1.17zM323.4,634.1l1.75 .58v1.17l-1.75 .58l-1.75-.58v-1.17zM377.6,635.9l1.75 .58v1.17l-1.75 .58l-1.75-.58v-1.17z"/>
<path fill="#340598" stroke="#340598" stroke-width="0.25" d="M337.4,588.6l1.75 .58v1.17l-1.75 .58l-1.75-.58v-1.17zM346.1,593.9l1.75 .58v1.17l-1.75 .58l-1.75-.58v-1.17zM361.9,595.6l1.75 .58v1.17l-1.75 .58l-1.75-.58v-1.17zM330.4,602.6l1.75 .58v1.17l-1.75 .58l-1.75-.58v-1.17zM323.4,609.6l1.75 .58v1.17l-1.75 .58l-1.75-.58v-1.17zM326.9,609.6l1.75 .58v1.17l-1.75 .58l-1.75-.58v-1.17zM321.6,611.4l1.75 .58v1.17l-1.75 .58l-1.75-.58v-1.17zM351.4,616.6l1.75 .58v1.17l-1.75 .58l-1.75-.58v-1.17zM391.6,621.9l1.75 .58v1.17l-1.75 .58l-1.75-.58v-1.17zM326.9,634.1l1.75 .58v1.17l-1.75 .58l-1.75-.58v-1.17zM330.4,634.1l1.75 .58v1.17l-1.75 .58l-1.75-.58v-1.17zM379.4,634.1l1.75 .58v1.17l-1.75 .58l-1.75-.58v-1.17z"/>
<path fill="#360598" stroke="#360598" stroke-width="0.25" d="M375.9,588.6l1.75 .58v1.17l-1.75 .58l-1.75-.58v-1.17zM363.6,593.9l1.75 .58v1.17l-1.75 .58l-1.75-.58v-1.17zM354.9,613.1l1.75 .58v1.17l-1.75 .58l-1.75-.58v-1.17zM316.4,616.6l1.75 .58v1.17l-1.75 .58l-1.75-.58v-1.17zM388.1,618.4l1.75 .58v1.17l-1.75 .58l-1.75-.58v-1.17zM391.6,618.4l1.75 .58v1.17l-1.75 .58l-1.75-.58v-1.17zM358.4,620.1l1.75 .58v1.17l-1.75 .58l-1.75-.58v-1.17zM391.6,625.4l1.75 .58v1.17l-1.75 .58l-1.75-.58v-1.17zM370.6,632.4l1.75 .58v1.17l-1.75 .58l-1.75-.58v-1.17zM386.4,634.1l1.75 .58v1.17l-1.75 .58l-1.75-.58v-1.17zM381.1,639.4l1.75 .58v1.17l-1.75 .58l-1.75-.58v-1.17z"/>
<path fill="#300596" stroke="#300596" stroke-width="0.25" d="M379.4,588.6l1.75 .58v1.17l-1.75 .58l-1.75-.58v-1.17zM370.6,590.4l1.75 .58v1.17l-1.75 .58l-1.75-.58v-1.17zM375.9,602.6l1.75 .58v1.17l-1.75 .58l-1.75-.58v-1.17zM382.9,613.1l1.75 .58v1.17l-1.75 .58l-1.75-.58v-1.17zM353.1,614.9l1.75 .58v1.17l-1.75 .58l-1.75-.58v-1.17zM312.9,620.1l1.75 .58v1.17l-1.75 .58l-1.75-.58v-1.17zM314.6,625.4l1.75 .58v1.17l-1.75 .58l-1.75-.58v-1.17zM346.1,625.4l1.75 .58v1.17l-1.75 .58l-1.75-.58v-1.17zM395.1,625.4l1.75 .58v1.17l-1.75 .58l-1.75-.58v-1.17zM396.9,627.1l1.75 .58v1.17l-1.75 .58l-1.75-.58v-1.17zM333.9,634.1l1.75 .58v1.17l-1.75 .58l-1.75-.58v-1.17zM379.4,637.6l1.75 .58v1.17l-1.75 .58l-1.75-.58v-1.17z"/>
<path fill="#2e0695" stroke="#2e0695" stroke-width="0.25" d="M325.1,590.4l1.75 .58v1.17l-1.75 .58l-1.75-.58v-1.17zM384.6,590.4l1.75 .58v1.17l-1.75 .58l-1.75-.58v-1.17zM344.4,592.1l1.75 .58v1.17l-1.75 .58l-1.75-.58v-1.17zM323.4,595.6l1.75 .58v1.17l-1.75 .58l-1.75-.58v-1.17zM328.6,600.9l1.75 .58v1.17l-1.75 .58l-1.75-.58v-1.17zM382.9,609.6l1.75 .58v1.17l-1.75 .58l-1.75-.58v-1.17zM314.6,614.9l1.75 .58v1.17l-1.75 .58l-1.75-.58v-1.17zM388.1,614.9l1.75 .58v1.17l-1.75 .58l-1.75-.58v-1.17zM311.1,628.9l1.75 .58v1.17l-1.75 .58l-1.75-.58v-1.17zM395.1,628.9l1.75 .58v1.17l-1.75 .58l-1.75-.58v-1.17zM393.4,630.6l1.75 .58v1.17l-1.75 .58l-1.75-.58v-1.17zM318.1,632.4l1.75 .58v1.17l-1.75 .58l-1.75-.58v-1.17zM395.1,632.4l1.75 .58v1.17l-1.75 .58l-1.75-.58v-1.17zM375.9,634.1l1.75 .58v1.17l-1.75 .58l-1.75-.58v-1.17zM319.9,637.6l1.75 .58v1.17l-1.75 .58l-1.75-.58v-1.17z"/>
<path fill="#3d049b" stroke="#3d049b" stroke-width="0.25" d="M328.6,590.4l1.75 .58v1.17l-1.75 .58l-1.75-.58v-1.17zM335.6,590.4l1.75 .58v1.17l-1.75 .58l-1.75-.58v-1.17zM381.1,593.9l1.75 .58v1.17l-1.75 .58l-1.75-.58v-1.17zM358.4,599.1l1.75 .58v1.17l-1.75 .58l-1.75-.58v-1.17zM346.1,621.9l1.75 .58v1.17l-1.75 .58l-1.75-.58v-1.17zM393.4,623.6l1.75 .58v1.17l-1.75 .58l-1.75-.58v-1.17zM314.6,632.4l1.75 .58v1.17l-1.75 .58l-1.75-.58v-1.17zM382.9,634.1l1.75 .58v1.17l-1.75 .58l-1.75-.58v-1.17z"/>
<path fill="#4b03a0" stroke="#4b03a0" stroke-width="0.25" d="M332.1,590.4l1.75 .58v1.17l-1.75 .58l-1.75-.58v-1.17zM372.4,592.1l1.75 .58v1.17l-1.75 .58l-1.75-.58v-1.17zM354.9,609.6l1.75 .58v1.17l-1.75 .58l-1.75-.58v-1.17zM384.6,614.9l1.75 .58v1.17l-1.75 .58l-1.75-.58v-1.17zM316.4,623.6l1.75 .58v1.17l-1.75 .58l-1.75-.58v-1.17zM386.4,627.1l1.75 .58v1.17l-1.75 .58l-1.75-.58v-1.17zM372.4,630.6l1.75 .58v1.17l-1.75 .58l-1.75-.58v-1.17zM374.1,632.4l1.75 .58v1.17l-1.75 .58l-1.75-.58v-1.17z"/>
<path fill="#43049d" stroke="#43049d" stroke-width="0.25" d="M374.1,590.4l1.75 .58v1.17l-1.75 .58l-1.75-.58v-1.17zM384.6,593.9l1.75 .58v1.17l-1.75 .58l-1.75-.58v-1.17zM353.1,611.4l1.75 .58v1.17l-1.75 .58l-1.75-.58v-1.17zM321.6,614.9l1.75 .58v1.17l-1.75 .58l-1.75-.58v-1.17zM318.1,618.4l1.75 .58v1.17l-1.75 .58l-1.75-.58v-1.17zM316.4,627.1l1.75 .58v1.17l-1.75 .58l-1.75-.58v-1.17zM321.6,632.4l1.75 .58v1.17l-1.75 .58l-1.75-.58v-1.17z"/>
<path fill="#44049e" stroke="#44049e" stroke-width="0.25" d="M377.6,590.4l1.75 .58v1.17l-1.75 .58l-1.75-.58v-1.17zM379.4,592.1l1.75 .58v1.17l-1.75 .58l-1.75-.58v-1.17zM328.6,593.9l1.75 .58v1.17l-1.75 .58l-1.75-.58v-1.17zM333.9,602.6l1.75 .58v1.17l-1.75 .58l-1.75-.58v-1.17zM358.4,602.6l1.75 .58v1.17l-1.75 .58l-1.75-.58v-1.17zM328.6,607.9l1.75 .58v1.17l-1.75 .58l-1.75-.58v-1.17zM314.6,621.9l1.75 .58v1.17l-1.75 .58l-1.75-.58v-1.17zM389.9,623.6l1.75 .58v1.17l-1.75 .58l-1.75-.58v-1.17zM332.1,628.9l1.75 .58v1.17l-1.75 .58l-1.75-.58v-1.17zM330.4,630.6l1.75 .58v1.17l-1.75 .58l-1.75-.58v-1.17z"/>
<path fill="#380599" stroke="#380599" stroke-width="0.25" d="M381.1,590.4l1.75 .58v1.17l-1.75 .58l-1.75-.58v-1.17zM326.9,592.1l1.75 .58v1.17l-1.75 .58l-1.75-.58v-1.17zM325.1,593.9l1.75 .58v1.17l-1.75 .58l-1.75-.58v-1.17zM328.6,597.4l1.75 .58v1.17l-1.75 .58l-1.75-.58v-1.17zM354.9,602.6l1.75 .58v1.17l-1.75 .58l-1.75-.58v-1.17zM368.9,630.6l1.75 .58v1.17l-1.75 .58l-1.75-.58v-1.17zM321.6,635.9l1.75 .58v1.17l-1.75 .58l-1.75-.58v-1.17zM328.6,635.9l1.75 .58v1.17l-1.75 .58l-1.75-.58v-1.17z"/>
<path fill="#1e078e" stroke="#1e078e" stroke-width="0.25" d="M391.6,590.4l1.75 .58v1.17l-1.75 .58l-1.75-.58v-1.17zM321.6,593.9l1.75 .58v1.17l-1.75 .58l-1.75-.58v-1.17zM319.9,595.6l1.75 .58v1.17l-1.75 .58l-1.75-.58v-1.17zM325.1,597.4l1.75 .58v1.17l-1.75 .58l-1.75-.58v-1.17zM323.4,599.1l1.75 .58v1.17l-1.75 .58l-1.75-.58v-1.17zM323.4,606.1l1.75 .58v1.17l-1.75 .58l-1.75-.58v-1.17zM312.9,616.6l1.75 .58v1.17l-1.75 .58l-1.75-.58v-1.17zM307.6,618.4l1.75 .58v1.17l-1.75 .58l-1.75-.58v-1.17zM356.6,618.4l1.75 .58v1.17l-1.75 .58l-1.75-.58v-1.17zM312.9,623.6l1.75 .58v1.17l-1.75 .58l-1.75-.58v-1.17zM347.9,623.6l1.75 .58v1.17l-1.75 .58l-1.75-.58v-1.17zM305.9,627.1l1.75 .58v1.17l-1.75 .58l-1.75-.58v-1.17zM309.4,627.1l1.75 .58v1.17l-1.75 .58l-1.75-.58v-1.17zM398.6,628.9l1.75 .58v1.17l-1.75 .58l-1.75-.58v-1.17zM307.6,632.4l1.75 .58v1.17l-1.75 .58l-1.75-.58v-1.17zM311.1,632.4l1.75 .58v1.17l-1.75 .58l-1.75-.58v-1.17zM316.4,634.1l1.75 .58v1.17l-1.75 .58l-1.75-.58v-1.17zM388.1,639.4l1.75 .58v1.17l-1.75 .58l-1.75-.58v-1.17zM398.6,639.4l1.75 .58v1.17l-1.75 .58l-1.75-.58v-1.17zM379.4,641.1l1.75 .58v1.17l-1.75 .58l-1.75-.58v-1.17zM323.4,644.6l1.75 .58v1.17l-1.75 .58l-1.75-.58v-1.17z"/>
<path fill="#5702a3" stroke="#5702a3" stroke-width="0.25" d="M330.4,592.1l1.75 .58v1.17l-1.75 .58l-1.75-.58v-1.17zM375.9,592.1l1.75 .58v1.17l-1.75 .58l-1.75-.58v-1.17zM337.4,606.1l1.75 .58v1.17l-1.75 .58l-1.75-.58v-1.17zM388.1,628.9l1.75 .58v1.17l-1.75 .58l-1.75-.58v-1.17z"/>
<path fill="#5602a2" stroke="#5602a2" stroke-width="0.25" d="M333.9,592.1l1.75 .58v1.17l-1.75 .58l-1.75-.58v-1.17zM337.4,592.1l1.75 .58v1.17l-1.75 .58l-1.75-.58v-1.17zM332.1,593.9l1.75 .58v1.17l-1.75 .58l-1.75-.58v-1.17zM372.4,606.1l1.75 .58v1.17l-1.75 .58l-1.75-.58v-1.17zM325.1,611.4l1.75 .58v1.17l-1.75 .58l-1.75-.58v-1.17zM384.6,621.9l1.75 .58v1.17l-1.75 .58l-1.75-.58v-1.17zM384.6,632.4l1.75 .58v1.17l-1.75 .58l-1.75-.58v-1.17z"/>
<path fill="#48039f" stroke="#48039f" stroke-width="0.25" d="M340.9,592.1l1.75 .58v1.17l-1.75 .58l-1.75-.58v-1.17zM368.9,592.1l1.75 .58v1.17l-1.75 .58l-1.75-.58v-1.17zM342.6,593.9l1.75 .58v1.17l-1.75 .58l-1.75-.58v-1.17zM330.4,599.1l1.75 .58v1.17l-1.75 .58l-1.75-.58v-1.17zM349.6,600.9l1.75 .58v1.17l-1.75 .58l-1.75-.58v-1.17zM347.9,620.1l1.75 .58v1.17l-1.75 .58l-1.75-.58v-1.17zM342.6,625.4l1.75 .58v1.17l-1.75 .58l-1.75-.58v-1.17z"/>
<path fill="#6500a7" stroke="#6500a7" stroke-width="0.25" d="M335.6,593.9l1.75 .58v1.17l-1.75 .58l-1.75-.58v-1.17zM344.4,595.6l1.75 .58v1.17l-1.75 .58l-1.75-.58v-1.17zM346.1,597.4l1.75 .58v1.17l-1.75 .58l-1.75-.58v-1.17zM358.4,616.6l1.75 .58v1.17l-1.75 .58l-1.75-.58v-1.17zM386.4,623.6l1.75 .58v1.17l-1.75 .58l-1.75-.58v-1.17zM328.6,628.9l1.75 .58v1.17l-1.75 .58l-1.75-.58v-1.17z"/>
<path fill="#6c01a8" stroke="#6c01a8" stroke-width="0.25" d="M339.1,593.9l1.75 .58v1.17l-1.75 .58l-1.75-.58v-1.17zM363.6,597.4l1.75 .58v1.17l-1.75 .58l-1.75-.58v-1.17zM344.4,599.1l1.75 .58v1.17l-1.75 .58l-1.75-.58v-1.17zM340.9,623.6l1.75 .58v1.17l-1.75 .58l-1.75-.58v-1.17zM382.9,627.1l1.75 .58v1.17l-1.75 .58l-1.75-.58v-1.17zM379.4,630.6l1.75 .58v1.17l-1.75 .58l-1.75-.58v-1.17z"/>
<path fill="#5402a2" stroke="#5402a2" stroke-width="0.25" d="M367.1,593.9l1.75 .58v1.17l-1.75 .58l-1.75-.58v-1.17zM330.4,595.6l1.75 .58v1.17l-1.75 .58l-1.75-.58v-1.17zM351.4,613.1l1.75 .58v1.17l-1.75 .58l-1.75-.58v-1.17zM349.6,618.4l1.75 .58v1.17l-1.75 .58l-1.75-.58v-1.17zM386.4,630.6l1.75 .58v1.17l-1.75 .58l-1.75-.58v-1.17zM389.9,630.6l1.75 .58v1.17l-1.75 .58l-1.75-.58v-1.17z"/>
<path fill="#5902a3" stroke="#5902a3" stroke-width="0.25" d="M370.6,593.9l1.75 .58v1.17l-1.75 .58l-1.75-.58v-1.17zM377.6,593.9l1.75 .58v1.17l-1.75 .58l-1.75-.58v-1.17zM333.9,599.1l1.75 .58v1.17l-1.75 .58l-1.75-.58v-1.17zM321.6,618.4l1.75 .58v1.17l-1.75 .58l-1.75-.58v-1.17zM377.6,632.4l1.75 .58v1.17l-1.75 .58l-1.75-.58v-1.17z"/>
<path fill="#6800a8" stroke="#6800a8" stroke-width="0.25" d="M374.1,593.9l1.75 .58v1.17l-1.75 .58l-1.75-.58v-1.17zM368.9,595.6l1.75 .58v1.17l-1.75 .58l-1.75-.58v-1.17zM375.9,595.6l1.75 .58v1.17l-1.75 .58l-1.75-.58v-1.17zM337.4,599.1l1.75 .58v1.17l-1.75 .58l-1.75-.58v-1.17zM347.9,599.1l1.75 .58v1.17l-1.75 .58l-1.75-.58v-1.17zM349.6,604.4l1.75 .58v1.17l-1.75 .58l-1.75-.58v-1.17zM325.1,625.4l1.75 .58v1.17l-1.75 .58l-1.75-.58v-1.17zM319.9,627.1l1.75 .58v1.17l-1.75 .58l-1.75-.58v-1.17z"/>
<path fill="#7303a7" stroke="#7303a7" stroke-width="0.25" d="M333.9,595.6l1.75 .58v1.17l-1.75 .58l-1.75-.58v-1.17z"/>
<path fill="#7905a6" stroke="#7905a6" stroke-width="0.25" d="M337.4,595.6l1.75 .58v1.17l-1.75 .58l-1.75-.58v-1.17zM372.4,599.1l1.75 .58v1.17l-1.75 .58l-1.75-.58v-1.17zM365.4,602.6l1.75 .58v1.17l-1.75 .58l-1.75-.58v-1.17zM381.1,614.9l1.75 .58v1.17l-1.75 .58l-1.75-.58v-1.17zM382.9,616.6l1.75 .58v1.17l-1.75 .58l-1.75-.58v-1.17z"/>
<path fill="#7203a7" stroke="#7203a7" stroke-width="0.25" d="M340.9,595.6l1.75 .58v1.17l-1.75 .58l-1.75-.58v-1.17zM323.4,616.6l1.75 .58v1.17l-1.75 .58l-1.75-.58v-1.17z"/>
<path fill="#5c01a4" stroke="#5c01a4" stroke-width="0.25" d="M365.4,595.6l1.75 .58v1.17l-1.75 .58l-1.75-.58v-1.17zM332.1,597.4l1.75 .58v1.17l-1.75 .58l-1.75-.58v-1.17zM353.1,607.9l1.75 .58v1.17l-1.75 .58l-1.75-.58v-1.17zM339.1,625.4l1.75 .58v1.17l-1.75 .58l-1.75-.58v-1.17zM337.4,627.1l1.75 .58v1.17l-1.75 .58l-1.75-.58v-1.17zM325.1,628.9l1.75 .58v1.17l-1.75 .58l-1.75-.58v-1.17z"/>
<path fill="#7e07a6" stroke="#7e07a6" stroke-width="0.25" d="M372.4,595.6l1.75 .58v1.17l-1.75 .58l-1.75-.58v-1.17zM375.9,599.1l1.75 .58v1.17l-1.75 .58l-1.75-.58v-1.17z"/>
<path fill="#4d03a0" stroke="#4d03a0" stroke-width="0.25" d="M379.4,595.6l1.75 .58v1.17l-1.75 .58l-1.75-.58v-1.17zM360.1,600.9l1.75 .58v1.17l-1.75 .58l-1.75-.58v-1.17zM374.1,607.9l1.75 .58v1.17l-1.75 .58l-1.75-.58v-1.17zM318.1,621.9l1.75 .58v1.17l-1.75 .58l-1.75-.58v-1.17zM321.6,628.9l1.75 .58v1.17l-1.75 .58l-1.75-.58v-1.17zM319.9,630.6l1.75 .58v1.17l-1.75 .58l-1.75-.58v-1.17zM323.4,630.6l1.75 .58v1.17l-1.75 .58l-1.75-.58v-1.17z"/>
<path fill="#41049d" stroke="#41049d" stroke-width="0.25" d="M382.9,595.6l1.75 .58v1.17l-1.75 .58l-1.75-.58v-1.17zM356.6,614.9l1.75 .58v1.17l-1.75 .58l-1.75-.58v-1.17zM318.1,628.9l1.75 .58v1.17l-1.75 .58l-1.75-.58v-1.17zM333.9,630.6l1.75 .58v1.17l-1.75 .58l-1.75-.58v-1.17zM384.6,635.9l1.75 .58v1.17l-1.75 .58l-1.75-.58v-1.17z"/>
<path fill="#7504a7" stroke="#7504a7" stroke-width="0.25" d="M335.6,597.4l1.75 .58v1.17l-1.75 .58l-1.75-.58v-1.17zM368.9,602.6l1.75 .58v1.17l-1.75 .58l-1.75-.58v-1.17zM360.1,604.4l1.75 .58v1.17l-1.75 .58l-1.75-.58v-1.17zM368.9,606.1l1.75 .58v1.17l-1.75 .58l-1.75-.58v-1.17zM381.1,628.9l1.75 .58v1.17l-1.75 .58l-1.75-.58v-1.17z"/>
<path fill="#8c0ca4" stroke="#8c0ca4" stroke-width="0.25" d="M339.1,597.4l1.75 .58v1.17l-1.75 .58l-1.75-.58v-1.17zM382.9,620.1l1.75 .58v1.17l-1.75 .58l-1.75-.58v-1.17z"/>
<path fill="#8409a5" stroke="#8409a5" stroke-width="0.25" d="M342.6,597.4l1.75 .58v1.17l-1.75 .58l-1.75-.58v-1.17zM342.6,600.9l1.75 .58v1.17l-1.75 .58l-1.75-.58v-1.17zM347.9,602.6l1.75 .58v1.17l-1.75 .58l-1.75-.58v-1.17zM335.6,625.4l1.75 .58v1.17l-1.75 .58l-1.75-.58v-1.17zM374.1,628.9l1.75 .58v1.17l-1.75 .58l-1.75-.58v-1.17z"/>
<path fill="#8d0ca4" stroke="#8d0ca4" stroke-width="0.25" d="M367.1,597.4l1.75 .58v1.17l-1.75 .58l-1.75-.58v-1.17zM346.1,600.9l1.75 .58v1.17l-1.75 .58l-1.75-.58v-1.17zM328.6,625.4l1.75 .58v1.17l-1.75 .58l-1.75-.58v-1.17z"/>
<path fill="#7b06a6" stroke="#7b06a6" stroke-width="0.25" d="M370.6,597.4l1.75 .58v1.17l-1.75 .58l-1.75-.58v-1.17zM339.1,600.9l1.75 .58v1.17l-1.75 .58l-1.75-.58v-1.17zM363.6,600.9l1.75 .58v1.17l-1.75 .58l-1.75-.58v-1.17zM349.6,607.9l1.75 .58v1.17l-1.75 .58l-1.75-.58v-1.17zM326.9,613.1l1.75 .58v1.17l-1.75 .58l-1.75-.58v-1.17zM379.4,613.1l1.75 .58v1.17l-1.75 .58l-1.75-.58v-1.17z"/>
<path fill="#6001a5" stroke="#6001a5" stroke-width="0.25" d="M374.1,597.4l1.75 .58v1.17l-1.75 .58l-1.75-.58v-1.17zM361.9,599.1l1.75 .58v1.17l-1.75 .58l-1.75-.58v-1.17zM351.4,602.6l1.75 .58v1.17l-1.75 .58l-1.75-.58v-1.17zM354.9,606.1l1.75 .58v1.17l-1.75 .58l-1.75-.58v-1.17zM384.6,628.9l1.75 .58v1.17l-1.75 .58l-1.75-.58v-1.17z"/>
<path fill="#5e01a5" stroke="#5e01a5" stroke-width="0.25" d="M377.6,597.4l1.75 .58v1.17l-1.75 .58l-1.75-.58v-1.17zM356.6,604.4l1.75 .58v1.17l-1.75 .58l-1.75-.58v-1.17zM332.1,607.9l1.75 .58v1.17l-1.75 .58l-1.75-.58v-1.17zM330.4,609.6l1.75 .58v1.17l-1.75 .58l-1.75-.58v-1.17z"/>
<path fill="#46049e" stroke="#46049e" stroke-width="0.25" d="M381.1,597.4l1.75 .58v1.17l-1.75 .58l-1.75-.58v-1.17zM379.4,599.1l1.75 .58v1.17l-1.75 .58l-1.75-.58v-1.17zM316.4,620.1l1.75 .58v1.17l-1.75 .58l-1.75-.58v-1.17zM318.1,625.4l1.75 .58v1.17l-1.75 .58l-1.75-.58v-1.17zM365.4,627.1l1.75 .58v1.17l-1.75 .58l-1.75-.58v-1.17zM367.1,628.9l1.75 .58v1.17l-1.75 .58l-1.75-.58v-1.17z"/>
<path fill="#a72296" stroke="#a72296" stroke-width="0.25" d="M340.9,599.1l1.75 .58v1.17l-1.75 .58l-1.75-.58v-1.17z"/>
<path fill="#8008a6" stroke="#8008a6" stroke-width="0.25" d="M365.4,599.1l1.75 .58v1.17l-1.75 .58l-1.75-.58v-1.17zM328.6,611.4l1.75 .58v1.17l-1.75 .58l-1.75-.58v-1.17zM377.6,628.9l1.75 .58v1.17l-1.75 .58l-1.75-.58v-1.17zM375.9,630.6l1.75 .58v1.17l-1.75 .58l-1.75-.58v-1.17z"/>
<path fill="#890ba5" stroke="#890ba5" stroke-width="0.25" d="M368.9,599.1l1.75 .58v1.17l-1.75 .58l-1.75-.58v-1.17zM340.9,606.1l1.75 .58v1.17l-1.75 .58l-1.75-.58v-1.17zM365.4,606.1l1.75 .58v1.17l-1.75 .58l-1.75-.58v-1.17zM360.1,618.4l1.75 .58v1.17l-1.75 .58l-1.75-.58v-1.17zM363.6,621.9l1.75 .58v1.17l-1.75 .58l-1.75-.58v-1.17zM368.9,627.1l1.75 .58v1.17l-1.75 .58l-1.75-.58v-1.17z"/>
<path fill="#4a039f" stroke="#4a039f" stroke-width="0.25" d="M332.1,600.9l1.75 .58v1.17l-1.75 .58l-1.75-.58v-1.17zM314.6,618.4l1.75 .58v1.17l-1.75 .58l-1.75-.58v-1.17zM388.1,621.9l1.75 .58v1.17l-1.75 .58l-1.75-.58v-1.17zM340.9,627.1l1.75 .58v1.17l-1.75 .58l-1.75-.58v-1.17zM328.6,632.4l1.75 .58v1.17l-1.75 .58l-1.75-.58v-1.17z"/>
<path fill="#6d01a8" stroke="#6d01a8" stroke-width="0.25" d="M335.6,600.9l1.75 .58v1.17l-1.75 .58l-1.75-.58v-1.17zM370.6,600.9l1.75 .58v1.17l-1.75 .58l-1.75-.58v-1.17zM356.6,611.4l1.75 .58v1.17l-1.75 .58l-1.75-.58v-1.17zM330.4,627.1l1.75 .58v1.17l-1.75 .58l-1.75-.58v-1.17z"/>
<path fill="#9311a2" stroke="#9311a2" stroke-width="0.25" d="M367.1,600.9l1.75 .58v1.17l-1.75 .58l-1.75-.58v-1.17zM340.9,602.6l1.75 .58v1.17l-1.75 .58l-1.75-.58v-1.17zM347.9,606.1l1.75 .58v1.17l-1.75 .58l-1.75-.58v-1.17zM347.9,616.6l1.75 .58v1.17l-1.75 .58l-1.75-.58v-1.17z"/>
<path fill="#6700a7" stroke="#6700a7" stroke-width="0.25" d="M374.1,600.9l1.75 .58v1.17l-1.75 .58l-1.75-.58v-1.17z"/>
<path fill="#7002a7" stroke="#7002a7" stroke-width="0.25" d="M337.4,602.6l1.75 .58v1.17l-1.75 .58l-1.75-.58v-1.17zM323.4,620.1l1.75 .58v1.17l-1.75 .58l-1.75-.58v-1.17zM384.6,625.4l1.75 .58v1.17l-1.75 .58l-1.75-.58v-1.17z"/>
<path fill="#8f0da4" stroke="#8f0da4" stroke-width="0.25" d="M344.4,602.6l1.75 .58v1.17l-1.75 .58l-1.75-.58v-1.17zM358.4,609.6l1.75 .58v1.17l-1.75 .58l-1.75-.58v-1.17z"/>
<path fill="#6a00a8" stroke="#6a00a8" stroke-width="0.25" d="M361.9,602.6l1.75 .58v1.17l-1.75 .58l-1.75-.58v-1.17zM351.4,606.1l1.75 .58v1.17l-1.75 .58l-1.75-.58v-1.17zM358.4,606.1l1.75 .58v1.17l-1.75 .58l-1.75-.58v-1.17zM356.6,607.9l1.75 .58v1.17l-1.75 .58l-1.75-.58v-1.17zM351.4,609.6l1.75 .58v1.17l-1.75 .58l-1.75-.58v-1.17zM321.6,625.4l1.75 .58v1.17l-1.75 .58l-1.75-.58v-1.17z"/>
<path fill="#5202a2" stroke="#5202a2" stroke-width="0.25" d="M372.4,602.6l1.75 .58v1.17l-1.75 .58l-1.75-.58v-1.17zM333.9,606.1l1.75 .58v1.17l-1.75 .58l-1.75-.58v-1.17zM319.9,616.6l1.75 .58v1.17l-1.75 .58l-1.75-.58v-1.17zM363.6,625.4l1.75 .58v1.17l-1.75 .58l-1.75-.58v-1.17zM323.4,627.1l1.75 .58v1.17l-1.75 .58l-1.75-.58v-1.17zM389.9,627.1l1.75 .58v1.17l-1.75 .58l-1.75-.58v-1.17zM332.1,632.4l1.75 .58v1.17l-1.75 .58l-1.75-.58v-1.17zM388.1,632.4l1.75 .58v1.17l-1.75 .58l-1.75-.58v-1.17z"/>
<path fill="#4f03a1" stroke="#4f03a1" stroke-width="0.25" d="M353.1,604.4l1.75 .58v1.17l-1.75 .58l-1.75-.58v-1.17zM375.9,609.6l1.75 .58v1.17l-1.75 .58l-1.75-.58v-1.17zM381.1,611.4l1.75 .58v1.17l-1.75 .58l-1.75-.58v-1.17zM323.4,613.1l1.75 .58v1.17l-1.75 .58l-1.75-.58v-1.17zM318.1,614.9l1.75 .58v1.17l-1.75 .58l-1.75-.58v-1.17zM319.9,620.1l1.75 .58v1.17l-1.75 .58l-1.75-.58v-1.17z"/>
<path fill="#900ea3" stroke="#900ea3" stroke-width="0.25" d="M344.4,606.1l1.75 .58v1.17l-1.75 .58l-1.75-.58v-1.17zM360.1,607.9l1.75 .58v1.17l-1.75 .58l-1.75-.58v-1.17zM332.1,625.4l1.75 .58v1.17l-1.75 .58l-1.75-.58v-1.17zM370.6,625.4l1.75 .58v1.17l-1.75 .58l-1.75-.58v-1.17z"/>
<path fill="#8a0ba4" stroke="#8a0ba4" stroke-width="0.25" d="M361.9,606.1l1.75 .58v1.17l-1.75 .58l-1.75-.58v-1.17zM337.4,623.6l1.75 .58v1.17l-1.75 .58l-1.75-.58v-1.17zM365.4,623.6l1.75 .58v1.17l-1.75 .58l-1.75-.58v-1.17z"/>
<path fill="#7c06a6" stroke="#7c06a6" stroke-width="0.25" d="M335.6,607.9l1.75 .58v1.17l-1.75 .58l-1.75-.58v-1.17zM349.6,614.9l1.75 .58v1.17l-1.75 .58l-1.75-.58v-1.17z"/>
<path fill="#9d199c" stroke="#9d199c" stroke-width="0.25" d="M339.1,607.9l1.75 .58v1.17l-1.75 .58l-1.75-.58v-1.17zM346.1,618.4l1.75 .58v1.17l-1.75 .58l-1.75-.58v-1.17zM326.9,620.1l1.75 .58v1.17l-1.75 .58l-1.75-.58v-1.17z"/>
<path fill="#aa2494" stroke="#aa2494" stroke-width="0.25" d="M342.6,607.9l1.75 .58v1.17l-1.75 .58l-1.75-.58v-1.17zM374.1,611.4l1.75 .58v1.17l-1.75 .58l-1.75-.58v-1.17z"/>
<path fill="#b32c8e" stroke="#b32c8e" stroke-width="0.25" d="M346.1,607.9l1.75 .58v1.17l-1.75 .58l-1.75-.58v-1.17z"/>
<path fill="#b93289" stroke="#b93289" stroke-width="0.25" d="M363.6,607.9l1.75 .58v1.17l-1.75 .58l-1.75-.58v-1.17zM335.6,621.9l1.75 .58v1.17l-1.75 .58l-1.75-.58v-1.17z"/>
<path fill="#b02991" stroke="#b02991" stroke-width="0.25" d="M367.1,607.9l1.75 .58v1.17l-1.75 .58l-1.75-.58v-1.17z"/>
<path fill="#5b02a4" stroke="#5b02a4" stroke-width="0.25" d="M370.6,607.9l1.75 .58v1.17l-1.75 .58l-1.75-.58v-1.17zM377.6,611.4l1.75 .58v1.17l-1.75 .58l-1.75-.58v-1.17zM319.9,623.6l1.75 .58v1.17l-1.75 .58l-1.75-.58v-1.17zM388.1,625.4l1.75 .58v1.17l-1.75 .58l-1.75-.58v-1.17zM370.6,628.9l1.75 .58v1.17l-1.75 .58l-1.75-.58v-1.17z"/>
<path fill="#870aa5" stroke="#870aa5" stroke-width="0.25" d="M333.9,609.6l1.75 .58v1.17l-1.75 .58l-1.75-.58v-1.17zM358.4,613.1l1.75 .58v1.17l-1.75 .58l-1.75-.58v-1.17zM325.1,621.9l1.75 .58v1.17l-1.75 .58l-1.75-.58v-1.17z"/>
<path fill="#ba3488" stroke="#ba3488" stroke-width="0.25" d="M337.4,609.6l1.75 .58v1.17l-1.75 .58l-1.75-.58v-1.17z"/>
<path fill="#ca457a" stroke="#ca457a" stroke-width="0.25" d="M340.9,609.6l1.75 .58v1.17l-1.75 .58l-1.75-.58v-1.17zM346.1,611.4l1.75 .58v1.17l-1.75 .58l-1.75-.58v-1.17zM332.1,618.4l1.75 .58v1.17l-1.75 .58l-1.75-.58v-1.17z"/>
<path fill="#d7576c" stroke="#d7576c" stroke-width="0.25" d="M344.4,609.6l1.75 .58v1.17l-1.75 .58l-1.75-.58v-1.17zM361.9,609.6l1.75 .58v1.17l-1.75 .58l-1.75-.58v-1.17z"/>
<path fill="#b7308b" stroke="#b7308b" stroke-width="0.25" d="M347.9,609.6l1.75 .58v1.17l-1.75 .58l-1.75-.58v-1.17zM332.1,621.9l1.75 .58v1.17l-1.75 .58l-1.75-.58v-1.17zM381.1,621.9l1.75 .58v1.17l-1.75 .58l-1.75-.58v-1.17z"/>
<path fill="#dc5d68" stroke="#dc5d68" stroke-width="0.25" d="M365.4,609.6l1.75 .58v1.17l-1.75 .58l-1.75-.58v-1.17zM377.6,621.9l1.75 .58v1.17l-1.75 .58l-1.75-.58v-1.17z"/>
<path fill="#d45270" stroke="#d45270" stroke-width="0.25" d="M368.9,609.6l1.75 .58v1.17l-1.75 .58l-1.75-.58v-1.17z"/>
<path fill="#99159e" stroke="#99159e" stroke-width="0.25" d="M372.4,609.6l1.75 .58v1.17l-1.75 .58l-1.75-.58v-1.17zM372.4,627.1l1.75 .58v1.17l-1.75 .58l-1.75-.58v-1.17z"/>
<path fill="#98149f" stroke="#98149f" stroke-width="0.25" d="M332.1,611.4l1.75 .58v1.17l-1.75 .58l-1.75-.58v-1.17zM328.6,618.4l1.75 .58v1.17l-1.75 .58l-1.75-.58v-1.17zM381.1,618.4l1.75 .58v1.17l-1.75 .58l-1.75-.58v-1.17z"/>
<path fill="#bd3785" stroke="#bd3785" stroke-width="0.25" d="M335.6,611.4l1.75 .58v1.17l-1.75 .58l-1.75-.58v-1.17z"/>
<path fill="#de5f66" stroke="#de5f66" stroke-width="0.25" d="M339.1,611.4l1.75 .58v1.17l-1.75 .58l-1.75-.58v-1.17zM370.6,611.4l1.75 .58v1.17l-1.75 .58l-1.75-.58v-1.17zM375.9,616.6l1.75 .58v1.17l-1.75 .58l-1.75-.58v-1.17z"/>
<path fill="#f58f44" stroke="#f58f44" stroke-width="0.25" d="M342.6,611.4l1.75 .58v1.17l-1.75 .58l-1.75-.58v-1.17z"/>
<path fill="#a31e98" stroke="#a31e98" stroke-width="0.25" d="M349.6,611.4l1.75 .58v1.17l-1.75 .58l-1.75-.58v-1.17zM333.9,613.1l1.75 .58v1.17l-1.75 .58l-1.75-.58v-1.17zM326.9,616.6l1.75 .58v1.17l-1.75 .58l-1.75-.58v-1.17z"/>
<path fill="#d8586b" stroke="#d8586b" stroke-width="0.25" d="M360.1,611.4l1.75 .58v1.17l-1.75 .58l-1.75-.58v-1.17zM337.4,620.1l1.75 .58v1.17l-1.75 .58l-1.75-.58v-1.17zM365.4,620.1l1.75 .58v1.17l-1.75 .58l-1.75-.58v-1.17z"/>
<path fill="#fca537" stroke="#fca537" stroke-width="0.25" d="M363.6,611.4l1.75 .58v1.17l-1.75 .58l-1.75-.58v-1.17z"/>
<path fill="#fcbf2b" stroke="#fcbf2b" stroke-width="0.25" d="M367.1,611.4l1.75 .58v1.17l-1.75 .58l-1.75-.58v-1.17z"/>
<path fill="#9c189c" stroke="#9c189c" stroke-width="0.25" d="M330.4,613.1l1.75 .58v1.17l-1.75 .58l-1.75-.58v-1.17z"/>
<path fill="#d24f72" stroke="#d24f72" stroke-width="0.25" d="M337.4,613.1l1.75 .58v1.17l-1.75 .58l-1.75-.58v-1.17zM377.6,618.4l1.75 .58v1.17l-1.75 .58l-1.75-.58v-1.17z"/>
<path fill="#f58e45" stroke="#f58e45" stroke-width="0.25" d="M340.9,613.1l1.75 .58v1.17l-1.75 .58l-1.75-.58v-1.17z"/>
<path fill="#e76f5a" stroke="#e76f5a" stroke-width="0.25" d="M344.4,613.1l1.75 .58v1.17l-1.75 .58l-1.75-.58v-1.17z"/>
<path fill="#cc4778" stroke="#cc4778" stroke-width="0.25" d="M347.9,613.1l1.75 .58v1.17l-1.75 .58l-1.75-.58v-1.17z"/>
<path fill="#fca835" stroke="#fca835" stroke-width="0.25" d="M361.9,613.1l1.75 .58v1.17l-1.75 .58l-1.75-.58v-1.17z"/>
<path fill="#f9d924" stroke="#f9d924" stroke-width="0.25" d="M365.4,613.1l1.75 .58v1.17l-1.75 .58l-1.75-.58v-1.17z"/>
<path fill="#fcba2e" stroke="#fcba2e" stroke-width="0.25" d="M368.9,613.1l1.75 .58v1.17l-1.75 .58l-1.75-.58v-1.17z"/>
<path fill="#d6546e" stroke="#d6546e" stroke-width="0.25" d="M372.4,613.1l1.75 .58v1.17l-1.75 .58l-1.75-.58v-1.17zM335.6,614.9l1.75 .58v1.17l-1.75 .58l-1.75-.58v-1.17z"/>
<path fill="#a01c9a" stroke="#a01c9a" stroke-width="0.25" d="M375.9,613.1l1.75 .58v1.17l-1.75 .58l-1.75-.58v-1.17z"/>
<path fill="#6101a6" stroke="#6101a6" stroke-width="0.25" d="M325.1,614.9l1.75 .58v1.17l-1.75 .58l-1.75-.58v-1.17zM384.6,618.4l1.75 .58v1.17l-1.75 .58l-1.75-.58v-1.17zM386.4,620.1l1.75 .58v1.17l-1.75 .58l-1.75-.58v-1.17zM326.9,630.6l1.75 .58v1.17l-1.75 .58l-1.75-.58v-1.17z"/>
<path fill="#860aa5" stroke="#860aa5" stroke-width="0.25" d="M328.6,614.9l1.75 .58v1.17l-1.75 .58l-1.75-.58v-1.17zM361.9,620.1l1.75 .58v1.17l-1.75 .58l-1.75-.58v-1.17z"/>
<path fill="#c33d80" stroke="#c33d80" stroke-width="0.25" d="M332.1,614.9l1.75 .58v1.17l-1.75 .58l-1.75-.58v-1.17zM360.1,614.9l1.75 .58v1.17l-1.75 .58l-1.75-.58v-1.17zM379.4,620.1l1.75 .58v1.17l-1.75 .58l-1.75-.58v-1.17z"/>
<path fill="#f79441" stroke="#f79441" stroke-width="0.25" d="M339.1,614.9l1.75 .58v1.17l-1.75 .58l-1.75-.58v-1.17z"/>
<path fill="#fba239" stroke="#fba239" stroke-width="0.25" d="M342.6,614.9l1.75 .58v1.17l-1.75 .58l-1.75-.58v-1.17z"/>
<path fill="#cb4679" stroke="#cb4679" stroke-width="0.25" d="M346.1,614.9l1.75 .58v1.17l-1.75 .58l-1.75-.58v-1.17zM367.1,621.9l1.75 .58v1.17l-1.75 .58l-1.75-.58v-1.17z"/>
<path fill="#fad724" stroke="#fad724" stroke-width="0.25" d="M363.6,614.9l1.75 .58v1.17l-1.75 .58l-1.75-.58v-1.17zM367.1,614.9l1.75 .58v1.17l-1.75 .58l-1.75-.58v-1.17z"/>
<path fill="#fcbc2d" stroke="#fcbc2d" stroke-width="0.25" d="M370.6,614.9l1.75 .58v1.17l-1.75 .58l-1.75-.58v-1.17z"/>
<path fill="#de6065" stroke="#de6065" stroke-width="0.25" d="M374.1,614.9l1.75 .58v1.17l-1.75 .58l-1.75-.58v-1.17z"/>
<path fill="#a82395" stroke="#a82395" stroke-width="0.25" d="M377.6,614.9l1.75 .58v1.17l-1.75 .58l-1.75-.58v-1.17zM339.1,621.9l1.75 .58v1.17l-1.75 .58l-1.75-.58v-1.17zM333.9,623.6l1.75 .58v1.17l-1.75 .58l-1.75-.58v-1.17zM379.4,627.1l1.75 .58v1.17l-1.75 .58l-1.75-.58v-1.17z"/>
<path fill="#920fa2" stroke="#920fa2" stroke-width="0.25" d="M330.4,616.6l1.75 .58v1.17l-1.75 .58l-1.75-.58v-1.17z"/>
<path fill="#e16462" stroke="#e16462" stroke-width="0.25" d="M333.9,616.6l1.75 .58v1.17l-1.75 .58l-1.75-.58v-1.17z"/>
<path fill="#e4695e" stroke="#e4695e" stroke-width="0.25" d="M337.4,616.6l1.75 .58v1.17l-1.75 .58l-1.75-.58v-1.17zM335.6,618.4l1.75 .58v1.17l-1.75 .58l-1.75-.58v-1.17z"/>
<path fill="#f1834c" stroke="#f1834c" stroke-width="0.25" d="M340.9,616.6l1.75 .58v1.17l-1.75 .58l-1.75-.58v-1.17zM370.6,621.9l1.75 .58v1.17l-1.75 .58l-1.75-.58v-1.17z"/>
<path fill="#d35171" stroke="#d35171" stroke-width="0.25" d="M344.4,616.6l1.75 .58v1.17l-1.75 .58l-1.75-.58v-1.17z"/>
<path fill="#d6566d" stroke="#d6566d" stroke-width="0.25" d="M361.9,616.6l1.75 .58v1.17l-1.75 .58l-1.75-.58v-1.17z"/>
<path fill="#f8993e" stroke="#f8993e" stroke-width="0.25" d="M365.4,616.6l1.75 .58v1.17l-1.75 .58l-1.75-.58v-1.17z"/>
<path fill="#f0f921" stroke="#f0f921" stroke-width="0.25" d="M368.9,616.6l1.75 .58v1.17l-1.75 .58l-1.75-.58v-1.17z"/>
<path fill="#fa9e3b" stroke="#fa9e3b" stroke-width="0.25" d="M372.4,616.6l1.75 .58v1.17l-1.75 .58l-1.75-.58v-1.17z"/>
<path fill="#a62097" stroke="#a62097" stroke-width="0.25" d="M379.4,616.6l1.75 .58v1.17l-1.75 .58l-1.75-.58v-1.17z"/>
<path fill="#8309a5" stroke="#8309a5" stroke-width="0.25" d="M325.1,618.4l1.75 .58v1.17l-1.75 .58l-1.75-.58v-1.17zM344.4,620.1l1.75 .58v1.17l-1.75 .58l-1.75-.58v-1.17z"/>
<path fill="#d5536f" stroke="#d5536f" stroke-width="0.25" d="M339.1,618.4l1.75 .58v1.17l-1.75 .58l-1.75-.58v-1.17zM340.9,620.1l1.75 .58v1.17l-1.75 .58l-1.75-.58v-1.17zM375.9,623.6l1.75 .58v1.17l-1.75 .58l-1.75-.58v-1.17z"/>
<path fill="#d04d73" stroke="#d04d73" stroke-width="0.25" d="M342.6,618.4l1.75 .58v1.17l-1.75 .58l-1.75-.58v-1.17z"/>
<path fill="#e26561" stroke="#e26561" stroke-width="0.25" d="M363.6,618.4l1.75 .58v1.17l-1.75 .58l-1.75-.58v-1.17z"/>
<path fill="#f99b3d" stroke="#f99b3d" stroke-width="0.25" d="M367.1,618.4l1.75 .58v1.17l-1.75 .58l-1.75-.58v-1.17z"/>
<path fill="#fcc429" stroke="#fcc429" stroke-width="0.25" d="M370.6,618.4l1.75 .58v1.17l-1.75 .58l-1.75-.58v-1.17z"/>
<path fill="#f8983f" stroke="#f8983f" stroke-width="0.25" d="M374.1,618.4l1.75 .58v1.17l-1.75 .58l-1.75-.58v-1.17z"/>
<path fill="#9f1a9b" stroke="#9f1a9b" stroke-width="0.25" d="M330.4,620.1l1.75 .58v1.17l-1.75 .58l-1.75-.58v-1.17zM342.6,621.9l1.75 .58v1.17l-1.75 .58l-1.75-.58v-1.17zM375.9,627.1l1.75 .58v1.17l-1.75 .58l-1.75-.58v-1.17z"/>
<path fill="#cd4877" stroke="#cd4877" stroke-width="0.25" d="M333.9,620.1l1.75 .58v1.17l-1.75 .58l-1.75-.58v-1.17zM374.1,625.4l1.75 .58v1.17l-1.75 .58l-1.75-.58v-1.17z"/>
<path fill="#f69242" stroke="#f69242" stroke-width="0.25" d="M368.9,620.1l1.75 .58v1.17l-1.75 .58l-1.75-.58v-1.17z"/>
<path fill="#fcb032" stroke="#fcb032" stroke-width="0.25" d="M372.4,620.1l1.75 .58v1.17l-1.75 .58l-1.75-.58v-1.17z"/>
<path fill="#ef7f4f" stroke="#ef7f4f" stroke-width="0.25" d="M375.9,620.1l1.75 .58v1.17l-1.75 .58l-1.75-.58v-1.17z"/>
<path fill="#6f02a8" stroke="#6f02a8" stroke-width="0.25" d="M321.6,621.9l1.75 .58v1.17l-1.75 .58l-1.75-.58v-1.17zM323.4,623.6l1.75 .58v1.17l-1.75 .58l-1.75-.58v-1.17zM326.9,627.1l1.75 .58v1.17l-1.75 .58l-1.75-.58v-1.17z"/>
<path fill="#b12a90" stroke="#b12a90" stroke-width="0.25" d="M328.6,621.9l1.75 .58v1.17l-1.75 .58l-1.75-.58v-1.17z"/>
<path fill="#e26760" stroke="#e26760" stroke-width="0.25" d="M374.1,621.9l1.75 .58v1.17l-1.75 .58l-1.75-.58v-1.17z"/>
<path fill="#8108a6" stroke="#8108a6" stroke-width="0.25" d="M326.9,623.6l1.75 .58v1.17l-1.75 .58l-1.75-.58v-1.17zM333.9,627.1l1.75 .58v1.17l-1.75 .58l-1.75-.58v-1.17z"/>
<path fill="#ae2892" stroke="#ae2892" stroke-width="0.25" d="M330.4,623.6l1.75 .58v1.17l-1.75 .58l-1.75-.58v-1.17z"/>
<path fill="#6301a6" stroke="#6301a6" stroke-width="0.25" d="M344.4,623.6l1.75 .58v1.17l-1.75 .58l-1.75-.58v-1.17zM382.9,630.6l1.75 .58v1.17l-1.75 .58l-1.75-.58v-1.17z"/>
<path fill="#b22b8f" stroke="#b22b8f" stroke-width="0.25" d="M368.9,623.6l1.75 .58v1.17l-1.75 .58l-1.75-.58v-1.17zM379.4,623.6l1.75 .58v1.17l-1.75 .58l-1.75-.58v-1.17z"/>
<path fill="#e77059" stroke="#e77059" stroke-width="0.25" d="M372.4,623.6l1.75 .58v1.17l-1.75 .58l-1.75-.58v-1.17z"/>
<path fill="#9512a1" stroke="#9512a1" stroke-width="0.25" d="M382.9,623.6l1.75 .58v1.17l-1.75 .58l-1.75-.58v-1.17z"/>
<path fill="#7604a7" stroke="#7604a7" stroke-width="0.25" d="M367.1,625.4l1.75 .58v1.17l-1.75 .58l-1.75-.58v-1.17z"/>
<path fill="#c6417d" stroke="#c6417d" stroke-width="0.25" d="M377.6,625.4l1.75 .58v1.17l-1.75 .58l-1.75-.58v-1.17z"/>
<path fill="#9a179d" stroke="#9a179d" stroke-width="0.25" d="M381.1,625.4l1.75 .58v1.17l-1.75 .58l-1.75-.58v-1.17z"/>
<path fill="#5002a1" stroke="#5002a1" stroke-width="0.25" d="M335.6,628.9l1.75 .58v1.17l-1.75 .58l-1.75-.58v-1.17zM381.1,632.4l1.75 .58v1.17l-1.75 .58l-1.75-.58v-1.17z"/>
<rect x="550.2" y="491.9" width="2.6" height="2" fill="#1a0a8f"/>
<rect x="215.7" y="695" width="2.6" height="2" fill="#1a0a8f"/>
<line x1="354.9" y1="483.5" x2="354.9" y2="705.7" stroke="#555" stroke-width="1.3"/>
<line x1="181" y1="607.3" x2="570" y2="607.3" stroke="#555" stroke-width="1.3"/>
<text x="174.7" y="519.7" font-size="10" fill="#4d4d4d" text-anchor="end">0.10</text>
<text x="174.7" y="565.3" font-size="10" fill="#4d4d4d" text-anchor="end">0.05</text>
<text x="174.7" y="610.9" font-size="10" fill="#4d4d4d" text-anchor="end">0.00</text>
<text x="174.7" y="656.5" font-size="10" fill="#4d4d4d" text-anchor="end">−0.05</text>
<text x="174.7" y="702.1" font-size="10" fill="#4d4d4d" text-anchor="end">−0.10</text>
<text x="200.1" y="719.2" font-size="10" fill="#4d4d4d" text-anchor="middle">−0.10</text>
<text x="277.5" y="719.2" font-size="10" fill="#4d4d4d" text-anchor="middle">−0.05</text>
<text x="354.9" y="719.2" font-size="10" fill="#4d4d4d" text-anchor="middle">0.00</text>
<text x="432.3" y="719.2" font-size="10" fill="#4d4d4d" text-anchor="middle">0.05</text>
<text x="509.7" y="719.2" font-size="10" fill="#4d4d4d" text-anchor="middle">0.10</text>
<text x="349.0" y="736.7" font-size="12.5" fill="#000" text-anchor="middle">Buccal&#160; Δß</text>
<text x="348.5" y="747" font-size="8.6" text-anchor="middle" fill="#000">(n<tspan font-size="5" dy="1.8">cases</tspan><tspan dy="-1.8">=200, n</tspan><tspan font-size="5" dy="1.8">controls</tspan><tspan dy="-1.8">=202)</tspan></text>
<text x="0.0" y="0.0" font-size="12.5" fill="#000" text-anchor="middle" transform="translate(134.5,606.5) rotate(-90)">Cervical&#160; Δß</text>
<text x="0" y="0" font-size="8.6" text-anchor="middle" fill="#000" transform="translate(145.5,607) rotate(-90)">(n<tspan font-size="5" dy="1.8">cases</tspan><tspan dy="-1.8">=199, n</tspan><tspan font-size="5" dy="1.8">controls</tspan><tspan dy="-1.8">=199)</tspan></text>
<rect x="185.5" y="510" width="91.7" height="65.5" rx="2.5" fill="#fff" fill-opacity="0.92" stroke="#444" stroke-width="1"/>
<text x="272.6" y="523.8" font-size="12.5" fill="#333" text-anchor="end"><tspan fill="#333">Buccal </tspan><tspan fill="#1414f0" font-weight="bold">hypo</tspan></text>
<text x="272.6" y="538.9" font-size="12.5" fill="#333" text-anchor="end"><tspan fill="#333">Cervical </tspan><tspan fill="#ec1212" font-weight="bold">hyper</tspan></text>
<text x="272.6" y="554.0" font-size="12.5" fill="#333" text-anchor="end"><tspan fill="#333">OR = 0.18</tspan></text>
<text x="272.6" y="569.1" font-size="12.5" fill="#333" text-anchor="end"><tspan fill="#333">[0.11 − 0.25]</tspan></text>
<rect x="432" y="510.5" width="92.3" height="65.5" rx="2.5" fill="#fff" fill-opacity="0.92" stroke="#444" stroke-width="1"/>
<text x="436.6" y="524.3" font-size="12.5" fill="#333"><tspan fill="#333">Buccal </tspan><tspan fill="#ec1212" font-weight="bold">hyper</tspan></text>
<text x="436.6" y="539.4" font-size="12.5" fill="#333"><tspan fill="#333">Cervical </tspan><tspan fill="#ec1212" font-weight="bold">hyper</tspan></text>
<text x="436.6" y="554.5" font-size="12.5" fill="#333"><tspan fill="#333">OR = 0.48</tspan></text>
<text x="436.6" y="569.6" font-size="12.5" fill="#333"><tspan fill="#333">[0.43 − 0.54]</tspan></text>
<rect x="189.3" y="629" width="88.2" height="65" rx="2.5" fill="#fff" fill-opacity="0.92" stroke="#444" stroke-width="1"/>
<text x="272.9" y="642.8" font-size="12.5" fill="#333" text-anchor="end"><tspan fill="#333">Buccal </tspan><tspan fill="#1414f0" font-weight="bold">hypo</tspan></text>
<text x="272.9" y="657.9" font-size="12.5" fill="#333" text-anchor="end"><tspan fill="#333">Cervical </tspan><tspan fill="#1414f0" font-weight="bold">hypo</tspan></text>
<text x="272.9" y="673.0" font-size="12.5" fill="#333" text-anchor="end"><tspan fill="#333">OR = 1.58</tspan></text>
<text x="272.9" y="688.1" font-size="12.5" fill="#333" text-anchor="end"><tspan fill="#333">[1.53 − 1.63]</tspan></text>
<rect x="433.7" y="630.3" width="86.6" height="64" rx="2.5" fill="#fff" fill-opacity="0.92" stroke="#444" stroke-width="1"/>
<text x="438.3" y="644.1" font-size="12.5" fill="#333"><tspan fill="#333">Buccal </tspan><tspan fill="#ec1212" font-weight="bold">hyper</tspan></text>
<text x="438.3" y="659.2" font-size="12.5" fill="#333"><tspan fill="#333">Cervical </tspan><tspan fill="#1414f0" font-weight="bold">hypo</tspan></text>
<text x="438.3" y="674.3" font-size="12.5" fill="#333"><tspan fill="#333">OR = 2.55</tspan></text>
<text x="438.3" y="689.4" font-size="12.5" fill="#333"><tspan fill="#333">[2.50 − 2.59]</tspan></text>
<text x="588.9" y="534.0" font-size="12.5" fill="#000">Number</text>
<text x="588.9" y="548.1" font-size="12.5" fill="#000">of CpGs</text>
<defs><linearGradient id="pl" x1="0" y1="1" x2="0" y2="0"><stop offset="0.0" stop-color="rgb(13, 8, 135)"/><stop offset="0.1" stop-color="rgb(65, 4, 157)"/><stop offset="0.2" stop-color="rgb(106, 0, 168)"/><stop offset="0.3" stop-color="rgb(143, 13, 164)"/><stop offset="0.4" stop-color="rgb(177, 42, 144)"/><stop offset="0.5" stop-color="rgb(204, 71, 120)"/><stop offset="0.6" stop-color="rgb(225, 100, 98)"/><stop offset="0.7" stop-color="rgb(242, 132, 75)"/><stop offset="0.8" stop-color="rgb(252, 166, 54)"/><stop offset="0.9" stop-color="rgb(252, 206, 37)"/><stop offset="1.0" stop-color="rgb(240, 249, 33)"/></linearGradient></defs>
<rect x="588.4" y="559.2" width="20" height="94.8" fill="url(#pl)"/>
<line x1="588.4" y1="576.2" x2="592" y2="576.2" stroke="#fff" stroke-width="0.8"/><line x1="604.8" y1="576.2" x2="608.4" y2="576.2" stroke="#fff" stroke-width="0.8"/>
<text x="614.8" y="579.9" font-size="10" fill="#4d4d4d">200</text>
<line x1="588.4" y1="596.7" x2="592" y2="596.7" stroke="#fff" stroke-width="0.8"/><line x1="604.8" y1="596.7" x2="608.4" y2="596.7" stroke="#fff" stroke-width="0.8"/>
<text x="614.8" y="600.4" font-size="10" fill="#4d4d4d">150</text>
<line x1="588.4" y1="617.2" x2="592" y2="617.2" stroke="#fff" stroke-width="0.8"/><line x1="604.8" y1="617.2" x2="608.4" y2="617.2" stroke="#fff" stroke-width="0.8"/>
<text x="614.8" y="620.9" font-size="10" fill="#4d4d4d">100</text>
<line x1="588.4" y1="637.7" x2="592" y2="637.7" stroke="#fff" stroke-width="0.8"/><line x1="604.8" y1="637.7" x2="608.4" y2="637.7" stroke="#fff" stroke-width="0.8"/>
<text x="614.8" y="641.4" font-size="10" fill="#4d4d4d">50</text>
</svg></body></html>
